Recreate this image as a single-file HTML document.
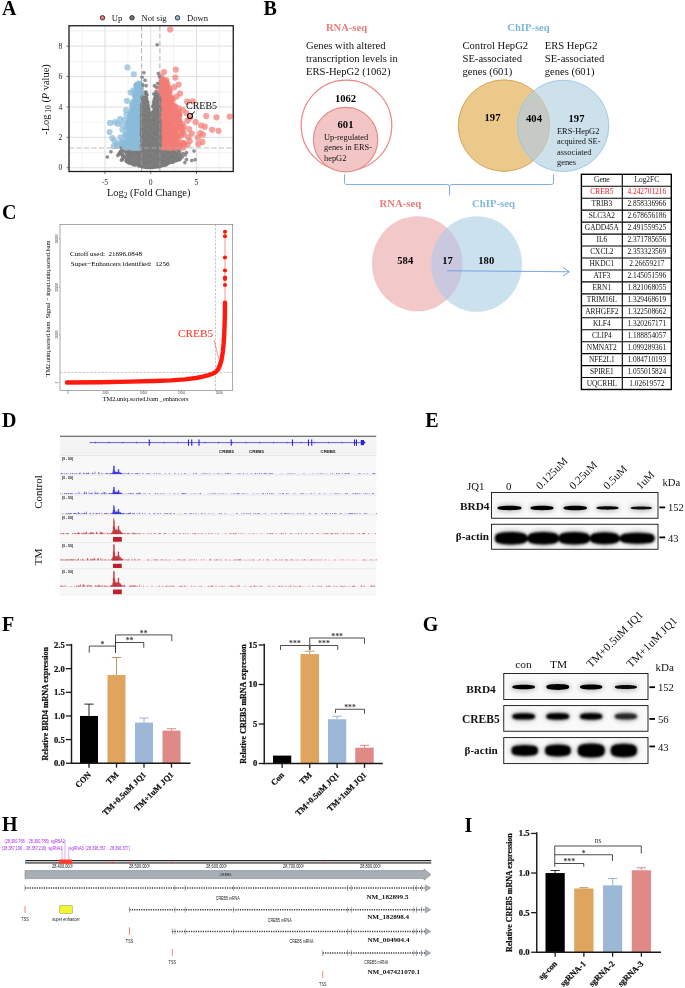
<!DOCTYPE html>
<html><head><meta charset="utf-8"><title>Figure</title>
<style>html,body{margin:0;padding:0;background:#fff}svg{display:block}text{font-family:"Liberation Serif",serif}text.s{font-family:"Liberation Sans",sans-serif}</style>
</head><body>
<svg width="685" height="988" viewBox="0 0 685 988">
<defs>
<filter id="b1" x="-20%" y="-50%" width="140%" height="200%"><feGaussianBlur stdDeviation="0.75"/></filter>
<filter id="b2" x="-20%" y="-50%" width="140%" height="200%"><feGaussianBlur stdDeviation="1.3"/></filter>
<filter id="b4" x="-20%" y="-50%" width="140%" height="200%"><feGaussianBlur stdDeviation="1.0"/></filter>
<filter id="b3" x="-20%" y="-50%" width="140%" height="200%"><feGaussianBlur stdDeviation="2.2"/></filter>
</defs>
<rect width="685" height="988" fill="#fff"/>
<rect x="69" y="25.75" width="164.25" height="145.75" fill="#fff"/>
<line x1="82.12" y1="25.75" x2="82.12" y2="171.5" stroke="#ececec" stroke-width="0.7"/>
<line x1="127.88" y1="25.75" x2="127.88" y2="171.5" stroke="#ececec" stroke-width="0.7"/>
<line x1="173.62" y1="25.75" x2="173.62" y2="171.5" stroke="#ececec" stroke-width="0.7"/>
<line x1="219.38" y1="25.75" x2="219.38" y2="171.5" stroke="#ececec" stroke-width="0.7"/>
<line x1="69" y1="152.55" x2="233.25" y2="152.55" stroke="#ececec" stroke-width="0.7"/>
<line x1="69" y1="122.15" x2="233.25" y2="122.15" stroke="#ececec" stroke-width="0.7"/>
<line x1="69" y1="91.75" x2="233.25" y2="91.75" stroke="#ececec" stroke-width="0.7"/>
<line x1="69" y1="61.35" x2="233.25" y2="61.35" stroke="#ececec" stroke-width="0.7"/>
<line x1="69" y1="30.95" x2="233.25" y2="30.95" stroke="#ececec" stroke-width="0.7"/>
<line x1="105" y1="25.75" x2="105" y2="171.5" stroke="#dedede" stroke-width="1"/>
<line x1="150.75" y1="25.75" x2="150.75" y2="171.5" stroke="#dedede" stroke-width="1"/>
<line x1="196.5" y1="25.75" x2="196.5" y2="171.5" stroke="#dedede" stroke-width="1"/>
<line x1="69" y1="167.75" x2="233.25" y2="167.75" stroke="#dedede" stroke-width="1"/>
<line x1="69" y1="137.35" x2="233.25" y2="137.35" stroke="#dedede" stroke-width="1"/>
<line x1="69" y1="106.95" x2="233.25" y2="106.95" stroke="#dedede" stroke-width="1"/>
<line x1="69" y1="76.55" x2="233.25" y2="76.55" stroke="#dedede" stroke-width="1"/>
<line x1="69" y1="46.15" x2="233.25" y2="46.15" stroke="#dedede" stroke-width="1"/>
<g fill="#7f7f7f" fill-opacity="0.88" stroke="#707070" stroke-opacity="0.4" stroke-width="0.3"><circle cx="150.77" cy="149.2" r="1.75"/><circle cx="138.12" cy="161.54" r="1.75"/><circle cx="151.6" cy="150.77" r="1.75"/><circle cx="141.95" cy="161.49" r="1.75"/><circle cx="152.25" cy="158.55" r="1.75"/><circle cx="160.61" cy="147.17" r="1.75"/><circle cx="123.79" cy="147.31" r="1.75"/><circle cx="147.42" cy="155.09" r="1.75"/><circle cx="152.97" cy="157.11" r="1.75"/><circle cx="143.11" cy="154.74" r="1.75"/><circle cx="129.05" cy="162.63" r="1.75"/><circle cx="136.87" cy="153.44" r="1.75"/><circle cx="142.47" cy="162.22" r="1.75"/><circle cx="151.65" cy="150.24" r="1.75"/><circle cx="152.44" cy="149.74" r="1.75"/><circle cx="158.93" cy="164.65" r="1.75"/><circle cx="149.81" cy="147.52" r="1.75"/><circle cx="141.17" cy="154.56" r="1.75"/><circle cx="152.55" cy="158.65" r="1.75"/><circle cx="147.97" cy="165.75" r="1.75"/><circle cx="131.98" cy="153.86" r="1.75"/><circle cx="122.49" cy="154.06" r="1.75"/><circle cx="168.58" cy="148.22" r="1.75"/><circle cx="145.52" cy="164.74" r="1.75"/><circle cx="144.68" cy="156.33" r="1.75"/><circle cx="149.04" cy="154.49" r="1.75"/><circle cx="150.59" cy="159.25" r="1.75"/><circle cx="160.01" cy="149.64" r="1.75"/><circle cx="145.93" cy="161.09" r="1.75"/><circle cx="159.02" cy="160.06" r="1.75"/><circle cx="126.81" cy="147.76" r="1.75"/><circle cx="137.99" cy="156.92" r="1.75"/><circle cx="138.95" cy="155.55" r="1.75"/><circle cx="157.74" cy="157.02" r="1.75"/><circle cx="160.71" cy="164.63" r="1.75"/><circle cx="149.63" cy="152.18" r="1.75"/><circle cx="154.44" cy="159.09" r="1.75"/><circle cx="153.48" cy="154.76" r="1.75"/><circle cx="149.07" cy="152.75" r="1.75"/><circle cx="155.9" cy="160.24" r="1.75"/><circle cx="125.99" cy="148.15" r="1.75"/><circle cx="161.8" cy="162.14" r="1.75"/><circle cx="168.47" cy="147.48" r="1.75"/><circle cx="146.87" cy="149.22" r="1.75"/><circle cx="166.33" cy="158.93" r="1.75"/><circle cx="139.5" cy="148.67" r="1.75"/><circle cx="168.58" cy="157.01" r="1.75"/><circle cx="150.94" cy="151.09" r="1.75"/><circle cx="142.8" cy="154.73" r="1.75"/><circle cx="145.43" cy="159.52" r="1.75"/><circle cx="139.31" cy="163.35" r="1.75"/><circle cx="170.71" cy="155.46" r="1.75"/><circle cx="141.79" cy="147.88" r="1.75"/><circle cx="150.42" cy="154.62" r="1.75"/><circle cx="157.2" cy="159.24" r="1.75"/><circle cx="135.03" cy="152.66" r="1.75"/><circle cx="143.56" cy="151.17" r="1.75"/><circle cx="144.49" cy="148.82" r="1.75"/><circle cx="146.47" cy="167.33" r="1.75"/><circle cx="167.44" cy="163.87" r="1.75"/><circle cx="142.76" cy="155.55" r="1.75"/><circle cx="161.83" cy="156.62" r="1.75"/><circle cx="144.29" cy="155.12" r="1.75"/><circle cx="177.4" cy="150.1" r="1.75"/><circle cx="126.8" cy="161.18" r="1.75"/><circle cx="150.57" cy="151.26" r="1.75"/><circle cx="120.83" cy="151.27" r="1.75"/><circle cx="147.26" cy="149.5" r="1.75"/><circle cx="129.28" cy="154.55" r="1.75"/><circle cx="127.44" cy="154.08" r="1.75"/><circle cx="156.52" cy="151.14" r="1.75"/><circle cx="136.58" cy="149.82" r="1.75"/><circle cx="179.47" cy="156.1" r="1.75"/><circle cx="149.48" cy="162.52" r="1.75"/><circle cx="144.22" cy="165.66" r="1.75"/><circle cx="151.9" cy="154.06" r="1.75"/><circle cx="150.45" cy="160.07" r="1.75"/><circle cx="143.23" cy="166.06" r="1.75"/><circle cx="134.12" cy="161.55" r="1.75"/><circle cx="152.99" cy="165.04" r="1.75"/><circle cx="151.29" cy="166.07" r="1.75"/><circle cx="153.81" cy="161.42" r="1.75"/><circle cx="141.05" cy="163.88" r="1.75"/><circle cx="148.8" cy="159.99" r="1.75"/><circle cx="175.17" cy="152.71" r="1.75"/><circle cx="161.69" cy="153.81" r="1.75"/><circle cx="154.3" cy="157.03" r="1.75"/><circle cx="135.48" cy="162.25" r="1.75"/><circle cx="167.6" cy="149.22" r="1.75"/><circle cx="172.43" cy="151.22" r="1.75"/><circle cx="124.98" cy="147.14" r="1.75"/><circle cx="163.75" cy="151.69" r="1.75"/><circle cx="153.81" cy="163.94" r="1.75"/><circle cx="151.52" cy="152.84" r="1.75"/><circle cx="149.92" cy="159.07" r="1.75"/><circle cx="173.48" cy="156.54" r="1.75"/><circle cx="145.84" cy="152.83" r="1.75"/><circle cx="163.14" cy="148.74" r="1.75"/><circle cx="147.62" cy="152.03" r="1.75"/><circle cx="147.41" cy="153.02" r="1.75"/><circle cx="139.82" cy="165.2" r="1.75"/><circle cx="142.22" cy="158.52" r="1.75"/><circle cx="136.66" cy="148.85" r="1.75"/><circle cx="147.09" cy="166.35" r="1.75"/><circle cx="155.28" cy="161.26" r="1.75"/><circle cx="168.9" cy="158.34" r="1.75"/><circle cx="172.37" cy="149.38" r="1.75"/><circle cx="178.44" cy="159.6" r="1.75"/><circle cx="131.56" cy="157.35" r="1.75"/><circle cx="164.36" cy="149.96" r="1.75"/><circle cx="143.6" cy="153.9" r="1.75"/><circle cx="153.79" cy="161.9" r="1.75"/><circle cx="150.18" cy="156.67" r="1.75"/><circle cx="157.89" cy="149.69" r="1.75"/><circle cx="151.54" cy="165.41" r="1.75"/><circle cx="160.77" cy="157.28" r="1.75"/><circle cx="145.48" cy="166.91" r="1.75"/><circle cx="134.15" cy="149.54" r="1.75"/><circle cx="134.42" cy="152.02" r="1.75"/><circle cx="166.52" cy="153.66" r="1.75"/><circle cx="144.03" cy="164.28" r="1.75"/><circle cx="145.24" cy="148.74" r="1.75"/><circle cx="130.27" cy="148.39" r="1.75"/><circle cx="153.82" cy="165.86" r="1.75"/><circle cx="139.63" cy="151.14" r="1.75"/><circle cx="145.4" cy="153.22" r="1.75"/><circle cx="133.54" cy="158.79" r="1.75"/><circle cx="157.33" cy="150.49" r="1.75"/><circle cx="159.23" cy="163.43" r="1.75"/><circle cx="146.56" cy="166.4" r="1.75"/><circle cx="148.26" cy="147.94" r="1.75"/><circle cx="153.07" cy="152.86" r="1.75"/><circle cx="155.53" cy="148.48" r="1.75"/><circle cx="144.24" cy="154.7" r="1.75"/><circle cx="139.02" cy="155.49" r="1.75"/><circle cx="132.46" cy="149.59" r="1.75"/><circle cx="129.06" cy="152.24" r="1.75"/><circle cx="136.89" cy="151.07" r="1.75"/><circle cx="172" cy="150.82" r="1.75"/><circle cx="147.53" cy="159.35" r="1.75"/><circle cx="148.55" cy="152.36" r="1.75"/><circle cx="135.35" cy="152.13" r="1.75"/><circle cx="164.34" cy="150.66" r="1.75"/><circle cx="126.33" cy="151.52" r="1.75"/><circle cx="166.43" cy="155.77" r="1.75"/><circle cx="140.21" cy="153.74" r="1.75"/><circle cx="139.3" cy="163.96" r="1.75"/><circle cx="140.03" cy="158.85" r="1.75"/><circle cx="127.81" cy="158.5" r="1.75"/><circle cx="177.15" cy="148.16" r="1.75"/><circle cx="150.31" cy="162.23" r="1.75"/><circle cx="177.81" cy="153.58" r="1.75"/><circle cx="136.4" cy="163.66" r="1.75"/><circle cx="162.39" cy="150.64" r="1.75"/><circle cx="145.72" cy="158.28" r="1.75"/><circle cx="158.22" cy="163.59" r="1.75"/><circle cx="135.46" cy="151.82" r="1.75"/><circle cx="136.89" cy="150.85" r="1.75"/><circle cx="145.05" cy="153.63" r="1.75"/><circle cx="145.17" cy="159.96" r="1.75"/><circle cx="149.42" cy="157.9" r="1.75"/><circle cx="150.2" cy="163.55" r="1.75"/><circle cx="148.81" cy="161.42" r="1.75"/><circle cx="142.13" cy="159.01" r="1.75"/><circle cx="135.95" cy="163.71" r="1.75"/><circle cx="154.3" cy="151.87" r="1.75"/><circle cx="137.31" cy="154.18" r="1.75"/><circle cx="154.07" cy="152.24" r="1.75"/><circle cx="151.7" cy="158.7" r="1.75"/><circle cx="146.58" cy="158.63" r="1.75"/><circle cx="152.89" cy="164.9" r="1.75"/><circle cx="145.45" cy="147.87" r="1.75"/><circle cx="142.91" cy="164.34" r="1.75"/><circle cx="154.09" cy="158.28" r="1.75"/><circle cx="148.74" cy="151.37" r="1.75"/><circle cx="127.14" cy="159.35" r="1.75"/><circle cx="154.77" cy="164.42" r="1.75"/><circle cx="147.07" cy="153.93" r="1.75"/><circle cx="153.68" cy="155.34" r="1.75"/><circle cx="167.34" cy="148.04" r="1.75"/><circle cx="128.66" cy="161.23" r="1.75"/><circle cx="129.59" cy="155.1" r="1.75"/><circle cx="168.8" cy="155.96" r="1.75"/><circle cx="175.54" cy="160.81" r="1.75"/><circle cx="147.32" cy="152.78" r="1.75"/><circle cx="156.78" cy="150.15" r="1.75"/><circle cx="161.12" cy="161.47" r="1.75"/><circle cx="156.38" cy="161.99" r="1.75"/><circle cx="136.53" cy="150.11" r="1.75"/><circle cx="149.97" cy="151.48" r="1.75"/><circle cx="145.57" cy="151.22" r="1.75"/><circle cx="156.15" cy="153.23" r="1.75"/><circle cx="161.48" cy="165.32" r="1.75"/><circle cx="158.45" cy="156.38" r="1.75"/><circle cx="166.85" cy="162.08" r="1.75"/><circle cx="161.91" cy="161.28" r="1.75"/><circle cx="163.6" cy="149.92" r="1.75"/><circle cx="150.06" cy="154.61" r="1.75"/><circle cx="150.32" cy="152.76" r="1.75"/><circle cx="148.11" cy="167.2" r="1.75"/><circle cx="165.57" cy="163.52" r="1.75"/><circle cx="155.53" cy="158.05" r="1.75"/><circle cx="165.48" cy="161.8" r="1.75"/><circle cx="144.01" cy="163.21" r="1.75"/><circle cx="153.65" cy="152.48" r="1.75"/><circle cx="154.44" cy="155.92" r="1.75"/><circle cx="145.77" cy="165.17" r="1.75"/><circle cx="163.74" cy="151.12" r="1.75"/><circle cx="167.93" cy="149.86" r="1.75"/><circle cx="151.65" cy="156.97" r="1.75"/><circle cx="148.99" cy="166.24" r="1.75"/><circle cx="157.15" cy="158.04" r="1.75"/><circle cx="130.37" cy="161.14" r="1.75"/><circle cx="148.75" cy="164.58" r="1.75"/><circle cx="146" cy="148.04" r="1.75"/><circle cx="145.62" cy="161.06" r="1.75"/><circle cx="150.37" cy="155.57" r="1.75"/><circle cx="147.61" cy="163.65" r="1.75"/><circle cx="136.04" cy="164.32" r="1.75"/><circle cx="164.3" cy="164.96" r="1.75"/><circle cx="179.93" cy="159.42" r="1.75"/><circle cx="167.94" cy="156.55" r="1.75"/><circle cx="143.54" cy="165.54" r="1.75"/><circle cx="158.78" cy="165.66" r="1.75"/><circle cx="140.55" cy="150.2" r="1.75"/><circle cx="156.9" cy="160.88" r="1.75"/><circle cx="126.77" cy="148.7" r="1.75"/><circle cx="146.07" cy="157.68" r="1.75"/><circle cx="166.51" cy="147.45" r="1.75"/><circle cx="125.19" cy="151.04" r="1.75"/><circle cx="155.61" cy="158.33" r="1.75"/><circle cx="149.2" cy="164.33" r="1.75"/><circle cx="143.09" cy="166.67" r="1.75"/><circle cx="150.33" cy="158.14" r="1.75"/><circle cx="169.5" cy="161.94" r="1.75"/><circle cx="171.21" cy="152.14" r="1.75"/><circle cx="146.62" cy="152.14" r="1.75"/><circle cx="149.56" cy="148.77" r="1.75"/><circle cx="158.3" cy="155.3" r="1.75"/><circle cx="147.81" cy="153.02" r="1.75"/><circle cx="152.48" cy="147.64" r="1.75"/><circle cx="151.92" cy="149.03" r="1.75"/><circle cx="160.16" cy="148.77" r="1.75"/><circle cx="128.43" cy="156" r="1.75"/><circle cx="141.31" cy="152.51" r="1.75"/><circle cx="141.55" cy="151.56" r="1.75"/><circle cx="173.26" cy="162.25" r="1.75"/><circle cx="140.03" cy="148.2" r="1.75"/><circle cx="156.92" cy="159.36" r="1.75"/><circle cx="150.01" cy="158.01" r="1.75"/><circle cx="149.17" cy="158.8" r="1.75"/><circle cx="159.71" cy="152.16" r="1.75"/><circle cx="156.78" cy="151.16" r="1.75"/><circle cx="130.09" cy="162.01" r="1.75"/><circle cx="153.69" cy="160.01" r="1.75"/><circle cx="152.23" cy="163.89" r="1.75"/><circle cx="146.76" cy="152.11" r="1.75"/><circle cx="152.06" cy="167.05" r="1.75"/><circle cx="140.47" cy="162.51" r="1.75"/><circle cx="144.16" cy="153.14" r="1.75"/><circle cx="134.47" cy="163.57" r="1.75"/><circle cx="136.87" cy="147.25" r="1.75"/><circle cx="120.96" cy="147.27" r="1.75"/><circle cx="152.85" cy="156.98" r="1.75"/><circle cx="144.17" cy="160.81" r="1.75"/><circle cx="149.63" cy="167.02" r="1.75"/><circle cx="142.54" cy="163.56" r="1.75"/><circle cx="143.95" cy="163.51" r="1.75"/><circle cx="148.52" cy="162.69" r="1.75"/><circle cx="143.64" cy="154.6" r="1.75"/><circle cx="146.78" cy="165.14" r="1.75"/><circle cx="135.13" cy="160.87" r="1.75"/><circle cx="161.71" cy="153.77" r="1.75"/><circle cx="157.28" cy="148.07" r="1.75"/><circle cx="155.11" cy="157.02" r="1.75"/><circle cx="148.88" cy="166.37" r="1.75"/><circle cx="163.19" cy="150.96" r="1.75"/><circle cx="160.18" cy="164.09" r="1.75"/><circle cx="135.71" cy="147.54" r="1.75"/><circle cx="179.43" cy="159.43" r="1.75"/><circle cx="152.47" cy="167.58" r="1.75"/><circle cx="132.04" cy="153.02" r="1.75"/><circle cx="170.73" cy="149.21" r="1.75"/><circle cx="154.68" cy="148.34" r="1.75"/><circle cx="157.67" cy="166.8" r="1.75"/><circle cx="151.72" cy="158.75" r="1.75"/><circle cx="140.73" cy="165.17" r="1.75"/><circle cx="148.08" cy="150.51" r="1.75"/><circle cx="167.65" cy="155.84" r="1.75"/><circle cx="145.66" cy="158.01" r="1.75"/><circle cx="144.69" cy="166.57" r="1.75"/><circle cx="141.61" cy="166.58" r="1.75"/><circle cx="143.15" cy="156.59" r="1.75"/><circle cx="151.17" cy="161.63" r="1.75"/><circle cx="166.54" cy="149.01" r="1.75"/><circle cx="167.79" cy="158.13" r="1.75"/><circle cx="139.05" cy="151.15" r="1.75"/><circle cx="161.2" cy="159.91" r="1.75"/><circle cx="160.01" cy="162.41" r="1.75"/><circle cx="118.7" cy="153.91" r="1.75"/><circle cx="164.35" cy="149.37" r="1.75"/><circle cx="156.05" cy="147.69" r="1.75"/><circle cx="128.52" cy="149.6" r="1.75"/><circle cx="148.55" cy="163.61" r="1.75"/><circle cx="165.61" cy="165.15" r="1.75"/><circle cx="158.88" cy="148.68" r="1.75"/><circle cx="147.29" cy="162.3" r="1.75"/><circle cx="137.98" cy="155.69" r="1.75"/><circle cx="157.31" cy="163.5" r="1.75"/><circle cx="156.3" cy="159.5" r="1.75"/><circle cx="156.01" cy="162.66" r="1.75"/><circle cx="141.36" cy="149.26" r="1.75"/><circle cx="151.62" cy="149.62" r="1.75"/><circle cx="156.02" cy="161.53" r="1.75"/><circle cx="147.64" cy="164.41" r="1.75"/><circle cx="125.95" cy="157.99" r="1.75"/><circle cx="159.99" cy="156.13" r="1.75"/><circle cx="146.22" cy="154.74" r="1.75"/><circle cx="175.66" cy="159.69" r="1.75"/><circle cx="136.95" cy="156.1" r="1.75"/><circle cx="162.55" cy="162.44" r="1.75"/><circle cx="122.63" cy="158.99" r="1.75"/><circle cx="145.78" cy="164.12" r="1.75"/><circle cx="131.18" cy="157.08" r="1.75"/><circle cx="166.99" cy="158.14" r="1.75"/><circle cx="145.01" cy="161.21" r="1.75"/><circle cx="140.96" cy="148.41" r="1.75"/><circle cx="145.45" cy="147.19" r="1.75"/><circle cx="140.84" cy="157.48" r="1.75"/><circle cx="141.81" cy="163.92" r="1.75"/><circle cx="167.39" cy="155.3" r="1.75"/><circle cx="167.17" cy="160.95" r="1.75"/><circle cx="149.19" cy="160.06" r="1.75"/><circle cx="146.93" cy="161.67" r="1.75"/><circle cx="154.6" cy="149.25" r="1.75"/><circle cx="120.41" cy="152.25" r="1.75"/><circle cx="152.63" cy="157.14" r="1.75"/><circle cx="141.66" cy="152.38" r="1.75"/><circle cx="141.1" cy="155.5" r="1.75"/><circle cx="130.01" cy="151.84" r="1.75"/><circle cx="161.87" cy="149.39" r="1.75"/><circle cx="143.07" cy="166.57" r="1.75"/><circle cx="161.31" cy="162.26" r="1.75"/><circle cx="133.7" cy="154.77" r="1.75"/><circle cx="148.19" cy="163.75" r="1.75"/><circle cx="157.91" cy="156.38" r="1.75"/><circle cx="148.94" cy="154.21" r="1.75"/><circle cx="135.37" cy="158.19" r="1.75"/><circle cx="153.02" cy="155.71" r="1.75"/><circle cx="139.66" cy="160.76" r="1.75"/><circle cx="122.26" cy="149.43" r="1.75"/><circle cx="159.94" cy="150.91" r="1.75"/><circle cx="143.51" cy="161.6" r="1.75"/><circle cx="169.14" cy="157.23" r="1.75"/><circle cx="159.5" cy="166.39" r="1.75"/><circle cx="151.49" cy="161.49" r="1.75"/><circle cx="152.11" cy="157.83" r="1.75"/><circle cx="129.8" cy="162.65" r="1.75"/><circle cx="148.42" cy="148.83" r="1.75"/><circle cx="143.79" cy="157.88" r="1.75"/><circle cx="136.35" cy="159.5" r="1.75"/><circle cx="157.89" cy="161.13" r="1.75"/><circle cx="145.44" cy="148.39" r="1.75"/><circle cx="150.68" cy="159.74" r="1.75"/><circle cx="148.66" cy="166.52" r="1.75"/><circle cx="153.97" cy="147.75" r="1.75"/><circle cx="143.71" cy="150.35" r="1.75"/><circle cx="166.87" cy="152.71" r="1.75"/><circle cx="148.28" cy="147.17" r="1.75"/><circle cx="153.72" cy="148.16" r="1.75"/><circle cx="126.05" cy="160.99" r="1.75"/><circle cx="163.35" cy="163.91" r="1.75"/><circle cx="148.07" cy="155.39" r="1.75"/><circle cx="147.24" cy="165.85" r="1.75"/><circle cx="147.84" cy="157.32" r="1.75"/><circle cx="138.54" cy="155" r="1.75"/><circle cx="169.26" cy="149.2" r="1.75"/><circle cx="141.16" cy="159.27" r="1.75"/><circle cx="159.83" cy="148.37" r="1.75"/><circle cx="145.32" cy="158.24" r="1.75"/><circle cx="137.62" cy="147.29" r="1.75"/><circle cx="153.86" cy="152.97" r="1.75"/><circle cx="155.59" cy="160.19" r="1.75"/><circle cx="144.27" cy="162.75" r="1.75"/><circle cx="167.66" cy="161.69" r="1.75"/><circle cx="154.12" cy="160.33" r="1.75"/><circle cx="161.96" cy="154.31" r="1.75"/><circle cx="153.28" cy="147.79" r="1.75"/><circle cx="155.44" cy="154.62" r="1.75"/><circle cx="140.7" cy="153.11" r="1.75"/><circle cx="148.95" cy="153.66" r="1.75"/><circle cx="168.72" cy="151.4" r="1.75"/><circle cx="143.12" cy="161.11" r="1.75"/><circle cx="170.58" cy="154.05" r="1.75"/><circle cx="172.26" cy="158.51" r="1.75"/><circle cx="134.02" cy="158.16" r="1.75"/><circle cx="138.73" cy="165.94" r="1.75"/><circle cx="175.08" cy="148.7" r="1.75"/><circle cx="147.91" cy="151.79" r="1.75"/><circle cx="143.22" cy="159.91" r="1.75"/><circle cx="126.61" cy="156.78" r="1.75"/><circle cx="153.4" cy="153.73" r="1.75"/><circle cx="161.71" cy="160.61" r="1.75"/><circle cx="142.2" cy="156.12" r="1.75"/><circle cx="153.88" cy="166.23" r="1.75"/><circle cx="154.4" cy="160.42" r="1.75"/><circle cx="127.79" cy="160.27" r="1.75"/><circle cx="160.92" cy="161.16" r="1.75"/><circle cx="136.78" cy="147.36" r="1.75"/><circle cx="147.76" cy="164.85" r="1.75"/><circle cx="156.65" cy="161.79" r="1.75"/><circle cx="132.2" cy="147.23" r="1.75"/><circle cx="124.48" cy="147.4" r="1.75"/><circle cx="153.33" cy="163.18" r="1.75"/><circle cx="129.51" cy="148.6" r="1.75"/><circle cx="147.68" cy="167.29" r="1.75"/><circle cx="145.95" cy="151.26" r="1.75"/><circle cx="155.51" cy="153.84" r="1.75"/><circle cx="136.77" cy="159.42" r="1.75"/><circle cx="141.63" cy="165.89" r="1.75"/><circle cx="125.46" cy="151.2" r="1.75"/><circle cx="142.62" cy="150.39" r="1.75"/><circle cx="161.42" cy="150.74" r="1.75"/><circle cx="164.32" cy="161.59" r="1.75"/><circle cx="152.87" cy="160.77" r="1.75"/><circle cx="140.61" cy="157.59" r="1.75"/><circle cx="160.79" cy="150.14" r="1.75"/><circle cx="171.56" cy="147.41" r="1.75"/><circle cx="150.45" cy="165.84" r="1.75"/><circle cx="136.69" cy="157.23" r="1.75"/><circle cx="167.9" cy="161.39" r="1.75"/><circle cx="163.66" cy="160.82" r="1.75"/><circle cx="140.08" cy="154.37" r="1.75"/><circle cx="160.75" cy="164.73" r="1.75"/><circle cx="154.88" cy="166.94" r="1.75"/><circle cx="142.53" cy="163.83" r="1.75"/><circle cx="144.48" cy="158.22" r="1.75"/><circle cx="137.17" cy="162.44" r="1.75"/><circle cx="130.61" cy="156.68" r="1.75"/><circle cx="161.34" cy="147.28" r="1.75"/><circle cx="145.79" cy="157.52" r="1.75"/><circle cx="136.12" cy="153.3" r="1.75"/><circle cx="152.2" cy="158.64" r="1.75"/><circle cx="157.39" cy="151.81" r="1.75"/><circle cx="151.88" cy="157.85" r="1.75"/><circle cx="154.43" cy="152.76" r="1.75"/><circle cx="169.59" cy="161.36" r="1.75"/><circle cx="149.87" cy="147.22" r="1.75"/><circle cx="143.46" cy="161.6" r="1.75"/><circle cx="160" cy="155.45" r="1.75"/><circle cx="154.75" cy="154.66" r="1.75"/><circle cx="150.26" cy="164.91" r="1.75"/><circle cx="137.89" cy="160.18" r="1.75"/><circle cx="144.69" cy="166.37" r="1.75"/><circle cx="147.95" cy="153.53" r="1.75"/><circle cx="157.94" cy="147.78" r="1.75"/><circle cx="171.88" cy="156.69" r="1.75"/><circle cx="167.43" cy="163.61" r="1.75"/><circle cx="161.6" cy="160.26" r="1.75"/><circle cx="156.67" cy="165.61" r="1.75"/><circle cx="141.79" cy="158.68" r="1.75"/><circle cx="157.32" cy="163.17" r="1.75"/><circle cx="167.54" cy="161.1" r="1.75"/><circle cx="149.46" cy="161.58" r="1.75"/><circle cx="126.34" cy="151.25" r="1.75"/><circle cx="123.9" cy="150.34" r="1.75"/><circle cx="149.13" cy="157.81" r="1.75"/><circle cx="153.12" cy="150.56" r="1.75"/><circle cx="144.66" cy="159.82" r="1.75"/><circle cx="173.29" cy="148.28" r="1.75"/><circle cx="132.5" cy="153.75" r="1.75"/><circle cx="135.19" cy="162.04" r="1.75"/><circle cx="134.46" cy="161.07" r="1.75"/><circle cx="152.44" cy="163" r="1.75"/><circle cx="137.89" cy="154.75" r="1.75"/><circle cx="164.47" cy="149.66" r="1.75"/><circle cx="149.11" cy="164.42" r="1.75"/><circle cx="150.85" cy="166.49" r="1.75"/><circle cx="161.34" cy="161.82" r="1.75"/><circle cx="141" cy="159.96" r="1.75"/><circle cx="156.22" cy="158.27" r="1.75"/><circle cx="151.05" cy="150.2" r="1.75"/><circle cx="145.58" cy="152.84" r="1.75"/><circle cx="138.27" cy="162.49" r="1.75"/><circle cx="122.08" cy="159.55" r="1.75"/><circle cx="144.36" cy="152.29" r="1.75"/><circle cx="150.17" cy="154.5" r="1.75"/><circle cx="159.97" cy="163.75" r="1.75"/><circle cx="166.4" cy="154.21" r="1.75"/><circle cx="153.97" cy="162.66" r="1.75"/><circle cx="138.68" cy="152.83" r="1.75"/><circle cx="138.3" cy="155.83" r="1.75"/><circle cx="137.81" cy="157.05" r="1.75"/><circle cx="140.14" cy="162.27" r="1.75"/><circle cx="155.43" cy="158.71" r="1.75"/><circle cx="137.77" cy="163.59" r="1.75"/><circle cx="163.27" cy="161.68" r="1.75"/><circle cx="135.91" cy="163.9" r="1.75"/><circle cx="142.76" cy="152.05" r="1.75"/><circle cx="153.44" cy="163" r="1.75"/><circle cx="171.28" cy="159.76" r="1.75"/><circle cx="147.3" cy="147.23" r="1.75"/><circle cx="145.26" cy="159.14" r="1.75"/><circle cx="147.52" cy="150.39" r="1.75"/><circle cx="137.55" cy="164.41" r="1.75"/><circle cx="145.41" cy="152.63" r="1.75"/><circle cx="149.92" cy="165.83" r="1.75"/><circle cx="172.35" cy="157.84" r="1.75"/><circle cx="161.86" cy="157.48" r="1.75"/><circle cx="132.46" cy="159.36" r="1.75"/><circle cx="143.44" cy="162.27" r="1.75"/><circle cx="157.78" cy="165.39" r="1.75"/><circle cx="144.89" cy="161.29" r="1.75"/><circle cx="136.48" cy="157.37" r="1.75"/><circle cx="158.75" cy="150.12" r="1.75"/><circle cx="137.69" cy="159.16" r="1.75"/><circle cx="155.56" cy="155.56" r="1.75"/><circle cx="165.68" cy="159.29" r="1.75"/><circle cx="168.41" cy="149.33" r="1.75"/><circle cx="153.09" cy="149.44" r="1.75"/><circle cx="146.65" cy="150.64" r="1.75"/><circle cx="159.96" cy="158.41" r="1.75"/><circle cx="160.27" cy="149.15" r="1.75"/><circle cx="124.61" cy="150.35" r="1.75"/><circle cx="162.2" cy="150.24" r="1.75"/><circle cx="146.83" cy="160.57" r="1.75"/><circle cx="175.22" cy="154.01" r="1.75"/><circle cx="167.37" cy="161.38" r="1.75"/><circle cx="167.15" cy="163.69" r="1.75"/><circle cx="131.12" cy="147.3" r="1.75"/><circle cx="141.22" cy="147.65" r="1.75"/><circle cx="141.67" cy="150.77" r="1.75"/><circle cx="157.64" cy="150.5" r="1.75"/><circle cx="170.26" cy="156.27" r="1.75"/><circle cx="165.17" cy="159.81" r="1.75"/><circle cx="145.36" cy="164.12" r="1.75"/><circle cx="152.31" cy="160.31" r="1.75"/><circle cx="128.58" cy="161.95" r="1.75"/><circle cx="157.22" cy="160.69" r="1.75"/><circle cx="137.26" cy="161.6" r="1.75"/><circle cx="120.12" cy="152.59" r="1.75"/><circle cx="146.41" cy="147.59" r="1.75"/><circle cx="134.35" cy="162" r="1.75"/><circle cx="135.63" cy="151.66" r="1.75"/><circle cx="128.96" cy="162.64" r="1.75"/><circle cx="154.26" cy="149.26" r="1.75"/><circle cx="144.29" cy="158.18" r="1.75"/><circle cx="166.66" cy="151.1" r="1.75"/><circle cx="177.64" cy="149.22" r="1.75"/><circle cx="182.55" cy="156.76" r="1.75"/><circle cx="161.17" cy="165.46" r="1.75"/><circle cx="153.25" cy="165.15" r="1.75"/><circle cx="158.81" cy="153.01" r="1.75"/><circle cx="145.02" cy="166.72" r="1.75"/><circle cx="133.33" cy="148.94" r="1.75"/><circle cx="141.53" cy="149.7" r="1.75"/><circle cx="155.86" cy="160.85" r="1.75"/><circle cx="165.81" cy="160.9" r="1.75"/><circle cx="146.55" cy="158.92" r="1.75"/><circle cx="155.14" cy="160.3" r="1.75"/><circle cx="167.71" cy="155.42" r="1.75"/><circle cx="157.89" cy="149.2" r="1.75"/><circle cx="153.95" cy="153.54" r="1.75"/><circle cx="175.37" cy="157.44" r="1.75"/><circle cx="149.24" cy="150.89" r="1.75"/><circle cx="147.25" cy="165.91" r="1.75"/><circle cx="132.64" cy="148.8" r="1.75"/><circle cx="136.54" cy="149.04" r="1.75"/><circle cx="176.3" cy="148.65" r="1.75"/><circle cx="155.04" cy="158.17" r="1.75"/><circle cx="147.01" cy="158.09" r="1.75"/><circle cx="158.41" cy="161.73" r="1.75"/><circle cx="171.74" cy="162.17" r="1.75"/><circle cx="170.75" cy="161.48" r="1.75"/><circle cx="147.33" cy="149.56" r="1.75"/><circle cx="150.73" cy="152.34" r="1.75"/><circle cx="148.57" cy="151.71" r="1.75"/><circle cx="138.06" cy="148.81" r="1.75"/><circle cx="142.72" cy="151.95" r="1.75"/><circle cx="179.17" cy="157.47" r="1.75"/><circle cx="149.99" cy="152.42" r="1.75"/><circle cx="149.52" cy="151.2" r="1.75"/><circle cx="170.75" cy="157.38" r="1.75"/><circle cx="138.24" cy="164.1" r="1.75"/><circle cx="163.86" cy="158.03" r="1.75"/><circle cx="145.84" cy="147.59" r="1.75"/><circle cx="149.31" cy="149.19" r="1.75"/><circle cx="145.28" cy="161.87" r="1.75"/><circle cx="172.25" cy="155.37" r="1.75"/><circle cx="144.82" cy="161.29" r="1.75"/><circle cx="148.67" cy="162.82" r="1.75"/><circle cx="152.16" cy="148.2" r="1.75"/><circle cx="147.25" cy="155.88" r="1.75"/><circle cx="154.84" cy="159.83" r="1.75"/><circle cx="172.69" cy="157.57" r="1.75"/><circle cx="134" cy="156.09" r="1.75"/><circle cx="128.28" cy="154.8" r="1.75"/><circle cx="133.58" cy="163.6" r="1.75"/><circle cx="149.74" cy="151.27" r="1.75"/><circle cx="145.97" cy="159.85" r="1.75"/><circle cx="175.53" cy="156.44" r="1.75"/><circle cx="150.81" cy="153.81" r="1.75"/><circle cx="176.69" cy="160.38" r="1.75"/><circle cx="149.49" cy="157.83" r="1.75"/><circle cx="152.89" cy="165.22" r="1.75"/><circle cx="132.94" cy="163.43" r="1.75"/><circle cx="155.6" cy="166.94" r="1.75"/><circle cx="161.92" cy="156.19" r="1.75"/><circle cx="169.33" cy="153.83" r="1.75"/><circle cx="175.05" cy="154.4" r="1.75"/><circle cx="142.13" cy="151.91" r="1.75"/><circle cx="156.75" cy="152.58" r="1.75"/><circle cx="169.51" cy="153.31" r="1.75"/><circle cx="155.72" cy="158.49" r="1.75"/><circle cx="162.22" cy="154.27" r="1.75"/><circle cx="152.18" cy="155.75" r="1.75"/><circle cx="156.23" cy="148.96" r="1.75"/><circle cx="174.42" cy="152.75" r="1.75"/><circle cx="158.25" cy="161.78" r="1.75"/><circle cx="150.47" cy="165.54" r="1.75"/><circle cx="147.13" cy="150.28" r="1.75"/><circle cx="158.1" cy="152.33" r="1.75"/><circle cx="150.83" cy="156.89" r="1.75"/><circle cx="133.88" cy="157.33" r="1.75"/><circle cx="152.32" cy="157.37" r="1.75"/><circle cx="136.41" cy="150.16" r="1.75"/><circle cx="131.72" cy="155.8" r="1.75"/><circle cx="145.59" cy="152.55" r="1.75"/><circle cx="175.28" cy="158.04" r="1.75"/><circle cx="142.66" cy="150.03" r="1.75"/><circle cx="180.47" cy="158.13" r="1.75"/><circle cx="148.97" cy="154.69" r="1.75"/><circle cx="145.94" cy="154.8" r="1.75"/><circle cx="158.1" cy="155.84" r="1.75"/><circle cx="151.16" cy="160" r="1.75"/><circle cx="137.76" cy="152.9" r="1.75"/><circle cx="167.36" cy="150.38" r="1.75"/><circle cx="139.89" cy="149.23" r="1.75"/><circle cx="161.29" cy="156.5" r="1.75"/><circle cx="142.84" cy="164.81" r="1.75"/><circle cx="161.58" cy="151.98" r="1.75"/><circle cx="167.22" cy="160.6" r="1.75"/><circle cx="151.32" cy="157.71" r="1.75"/><circle cx="151.81" cy="151.76" r="1.75"/><circle cx="159.89" cy="148.37" r="1.75"/><circle cx="173.04" cy="148.76" r="1.75"/><circle cx="167.18" cy="153.2" r="1.75"/><circle cx="140.79" cy="156.66" r="1.75"/><circle cx="167.02" cy="149.86" r="1.75"/><circle cx="159.4" cy="151.79" r="1.75"/><circle cx="158.74" cy="162.74" r="1.75"/><circle cx="168.93" cy="151.75" r="1.75"/><circle cx="137" cy="155.29" r="1.75"/><circle cx="141" cy="149.01" r="1.75"/><circle cx="140.69" cy="164.22" r="1.75"/><circle cx="143.03" cy="149.62" r="1.75"/><circle cx="130.69" cy="149.13" r="1.75"/><circle cx="153.02" cy="163.09" r="1.75"/><circle cx="146.31" cy="157.78" r="1.75"/><circle cx="126.83" cy="161.61" r="1.75"/><circle cx="151.64" cy="148.05" r="1.75"/><circle cx="170.63" cy="151.44" r="1.75"/><circle cx="139.31" cy="163.18" r="1.75"/><circle cx="134.68" cy="152.57" r="1.75"/><circle cx="157.43" cy="149.84" r="1.75"/><circle cx="164.25" cy="162.07" r="1.75"/><circle cx="146.83" cy="149.25" r="1.75"/><circle cx="155.45" cy="163.83" r="1.75"/><circle cx="163.2" cy="159.84" r="1.75"/><circle cx="160.58" cy="166.05" r="1.75"/><circle cx="183.06" cy="153.55" r="1.75"/><circle cx="142.42" cy="166.26" r="1.75"/><circle cx="148.9" cy="155.1" r="1.75"/><circle cx="152.03" cy="156.72" r="1.75"/><circle cx="139.28" cy="157.54" r="1.75"/><circle cx="155.46" cy="156.17" r="1.75"/><circle cx="165.85" cy="153.65" r="1.75"/><circle cx="170.84" cy="159.9" r="1.75"/><circle cx="161.38" cy="147.4" r="1.75"/><circle cx="167.5" cy="161.73" r="1.75"/><circle cx="152.21" cy="166.8" r="1.75"/><circle cx="128.1" cy="152.46" r="1.75"/><circle cx="143.42" cy="157.26" r="1.75"/><circle cx="135.41" cy="150.78" r="1.75"/><circle cx="146.21" cy="158.09" r="1.75"/><circle cx="147.02" cy="148.74" r="1.75"/><circle cx="146.49" cy="164.93" r="1.75"/><circle cx="141.28" cy="164.15" r="1.75"/><circle cx="159.92" cy="148.58" r="1.75"/><circle cx="145.17" cy="161.54" r="1.75"/><circle cx="144.34" cy="155" r="1.75"/><circle cx="153.28" cy="152.96" r="1.75"/><circle cx="164.89" cy="151.63" r="1.75"/><circle cx="140.32" cy="150.25" r="1.75"/><circle cx="139.36" cy="149.21" r="1.75"/><circle cx="153.48" cy="159.71" r="1.75"/><circle cx="142.86" cy="149.69" r="1.75"/><circle cx="154.04" cy="152.03" r="1.75"/><circle cx="154.21" cy="147.75" r="1.75"/><circle cx="145.23" cy="164.93" r="1.75"/><circle cx="142.96" cy="151.4" r="1.75"/><circle cx="167.6" cy="159.98" r="1.75"/><circle cx="147.2" cy="165.06" r="1.75"/><circle cx="157.31" cy="149.96" r="1.75"/><circle cx="141.19" cy="152.29" r="1.75"/><circle cx="146.78" cy="149.16" r="1.75"/><circle cx="166.18" cy="151.71" r="1.75"/><circle cx="148.32" cy="158.14" r="1.75"/><circle cx="134.13" cy="150.37" r="1.75"/><circle cx="130.1" cy="155.43" r="1.75"/><circle cx="142.34" cy="147.96" r="1.75"/><circle cx="145.32" cy="159.26" r="1.75"/><circle cx="164.48" cy="151.46" r="1.75"/><circle cx="153.78" cy="161.83" r="1.75"/><circle cx="135.65" cy="148.74" r="1.75"/><circle cx="173.71" cy="158.49" r="1.75"/><circle cx="133.75" cy="162.22" r="1.75"/><circle cx="151.9" cy="157.09" r="1.75"/><circle cx="145.15" cy="164.14" r="1.75"/><circle cx="146.59" cy="164.9" r="1.75"/><circle cx="162.29" cy="156.37" r="1.75"/><circle cx="145.18" cy="165.25" r="1.75"/><circle cx="135.74" cy="153.73" r="1.75"/><circle cx="127.26" cy="153.28" r="1.75"/><circle cx="139.11" cy="163.26" r="1.75"/><circle cx="147.35" cy="153.93" r="1.75"/><circle cx="155.08" cy="148.74" r="1.75"/><circle cx="159" cy="159.9" r="1.75"/><circle cx="135.34" cy="152.05" r="1.75"/><circle cx="147.09" cy="152.35" r="1.75"/><circle cx="139.84" cy="148.8" r="1.75"/><circle cx="146.46" cy="167.13" r="1.75"/><circle cx="140.73" cy="155.2" r="1.75"/><circle cx="139.72" cy="153.98" r="1.75"/><circle cx="150.93" cy="166.43" r="1.75"/><circle cx="131.54" cy="154.45" r="1.75"/><circle cx="178.68" cy="155.23" r="1.75"/><circle cx="167.54" cy="157.63" r="1.75"/><circle cx="166.1" cy="157.26" r="1.75"/><circle cx="153.29" cy="161.87" r="1.75"/><circle cx="139.65" cy="155.05" r="1.75"/><circle cx="126.99" cy="148.19" r="1.75"/><circle cx="152.11" cy="147.87" r="1.75"/><circle cx="133.65" cy="150.86" r="1.75"/><circle cx="156.68" cy="162.72" r="1.75"/><circle cx="142.35" cy="163.29" r="1.75"/><circle cx="149.35" cy="153.07" r="1.75"/><circle cx="158.94" cy="147.28" r="1.75"/><circle cx="149.74" cy="167.32" r="1.75"/><circle cx="139.63" cy="148.25" r="1.75"/><circle cx="142.44" cy="166.53" r="1.75"/><circle cx="150.99" cy="154.75" r="1.75"/><circle cx="144.06" cy="162.71" r="1.75"/><circle cx="166.67" cy="156.59" r="1.75"/><circle cx="151.34" cy="163.7" r="1.75"/><circle cx="152.43" cy="155.63" r="1.75"/><circle cx="121.32" cy="147.72" r="1.75"/><circle cx="180.54" cy="154.89" r="1.75"/><circle cx="177.93" cy="149.96" r="1.75"/><circle cx="151.68" cy="161.25" r="1.75"/><circle cx="120.38" cy="151.94" r="1.75"/><circle cx="123.67" cy="156.18" r="1.75"/><circle cx="166.43" cy="156.1" r="1.75"/><circle cx="160.82" cy="159.17" r="1.75"/><circle cx="179.56" cy="151.75" r="1.75"/><circle cx="155.55" cy="157.58" r="1.75"/><circle cx="143.66" cy="154.16" r="1.75"/><circle cx="166.67" cy="159.44" r="1.75"/><circle cx="159.28" cy="166.74" r="1.75"/><circle cx="137.38" cy="158.31" r="1.75"/><circle cx="150.98" cy="150.99" r="1.75"/><circle cx="139.23" cy="158.15" r="1.75"/><circle cx="142.34" cy="166.5" r="1.75"/><circle cx="146.37" cy="157.24" r="1.75"/><circle cx="144.49" cy="147.74" r="1.75"/><circle cx="173.59" cy="149.43" r="1.75"/><circle cx="163.28" cy="164.59" r="1.75"/><circle cx="154.2" cy="157.83" r="1.75"/><circle cx="164.95" cy="160.91" r="1.75"/><circle cx="164.63" cy="163.15" r="1.75"/><circle cx="164.05" cy="161.1" r="1.75"/><circle cx="165.74" cy="156.41" r="1.75"/><circle cx="155.87" cy="162.23" r="1.75"/><circle cx="156.91" cy="152.58" r="1.75"/><circle cx="134.99" cy="160.88" r="1.75"/><circle cx="153.91" cy="148.95" r="1.75"/><circle cx="162.1" cy="165.28" r="1.75"/><circle cx="164.97" cy="155.36" r="1.75"/><circle cx="142.12" cy="162.24" r="1.75"/><circle cx="162.63" cy="158.26" r="1.75"/><circle cx="148.49" cy="147.39" r="1.75"/><circle cx="151.25" cy="163.81" r="1.75"/><circle cx="130.63" cy="149.59" r="1.75"/><circle cx="154.78" cy="160.68" r="1.75"/><circle cx="129.36" cy="157.02" r="1.75"/><circle cx="162.18" cy="153.18" r="1.75"/><circle cx="160.89" cy="153.06" r="1.75"/><circle cx="154.78" cy="156.33" r="1.75"/><circle cx="131.01" cy="163.37" r="1.75"/><circle cx="157.99" cy="156.78" r="1.75"/><circle cx="140.99" cy="150.51" r="1.75"/><circle cx="157.93" cy="162.1" r="1.75"/><circle cx="157.91" cy="158.66" r="1.75"/><circle cx="157.98" cy="147.48" r="1.75"/><circle cx="148.92" cy="156.37" r="1.75"/><circle cx="159.61" cy="165.88" r="1.75"/><circle cx="146.55" cy="148.4" r="1.75"/><circle cx="141.62" cy="148.9" r="1.75"/><circle cx="138.05" cy="159.04" r="1.75"/><circle cx="143.2" cy="163.34" r="1.75"/><circle cx="147.79" cy="150.63" r="1.75"/><circle cx="160.25" cy="163.65" r="1.75"/><circle cx="156.14" cy="162.88" r="1.75"/><circle cx="161.37" cy="154.74" r="1.75"/><circle cx="164.23" cy="158.17" r="1.75"/><circle cx="143.69" cy="150.38" r="1.75"/><circle cx="136.67" cy="157.63" r="1.75"/><circle cx="178.97" cy="152.74" r="1.75"/><circle cx="133.74" cy="149.7" r="1.75"/><circle cx="160.36" cy="148.36" r="1.75"/><circle cx="139.44" cy="152.1" r="1.75"/><circle cx="159.18" cy="149.91" r="1.75"/><circle cx="158.72" cy="166.34" r="1.75"/><circle cx="126.72" cy="150.9" r="1.75"/><circle cx="145.91" cy="154.88" r="1.75"/><circle cx="172.93" cy="150.78" r="1.75"/><circle cx="169.9" cy="151.64" r="1.75"/><circle cx="142.13" cy="155.61" r="1.75"/><circle cx="143.94" cy="157.11" r="1.75"/><circle cx="158.58" cy="162.2" r="1.75"/><circle cx="137.22" cy="153.01" r="1.75"/><circle cx="133.11" cy="160.73" r="1.75"/><circle cx="152.39" cy="154.09" r="1.75"/><circle cx="147.64" cy="158.53" r="1.75"/><circle cx="177.45" cy="156.76" r="1.75"/><circle cx="170.29" cy="154.87" r="1.75"/><circle cx="147.48" cy="158.63" r="1.75"/><circle cx="148.24" cy="153.08" r="1.75"/><circle cx="135.96" cy="155.72" r="1.75"/><circle cx="166.27" cy="148.18" r="1.75"/><circle cx="157.59" cy="165.58" r="1.75"/><circle cx="153.85" cy="161.67" r="1.75"/><circle cx="140.61" cy="163.54" r="1.75"/><circle cx="140.5" cy="158.98" r="1.75"/><circle cx="164.75" cy="161.16" r="1.75"/><circle cx="165.37" cy="156.18" r="1.75"/><circle cx="162.5" cy="155.12" r="1.75"/><circle cx="136.39" cy="162.19" r="1.75"/><circle cx="148.67" cy="166.94" r="1.75"/><circle cx="137.11" cy="149.59" r="1.75"/><circle cx="138.91" cy="150.98" r="1.75"/><circle cx="127.42" cy="153.36" r="1.75"/><circle cx="163.29" cy="161.69" r="1.75"/><circle cx="131.74" cy="158.32" r="1.75"/><circle cx="147.7" cy="150.46" r="1.75"/><circle cx="165.77" cy="158.86" r="1.75"/><circle cx="122.27" cy="153.68" r="1.75"/><circle cx="170.57" cy="151.88" r="1.75"/><circle cx="144.97" cy="153.88" r="1.75"/><circle cx="164.57" cy="159.53" r="1.75"/><circle cx="146.09" cy="166.69" r="1.75"/><circle cx="138.95" cy="150.69" r="1.75"/><circle cx="150.9" cy="147.51" r="1.75"/><circle cx="149.5" cy="153.8" r="1.75"/><circle cx="141.66" cy="155.32" r="1.75"/><circle cx="136.87" cy="151.83" r="1.75"/><circle cx="159.43" cy="150.92" r="1.75"/><circle cx="163.25" cy="154.28" r="1.75"/><circle cx="152.92" cy="150.69" r="1.75"/><circle cx="149.87" cy="156.99" r="1.75"/><circle cx="143.53" cy="156.66" r="1.75"/><circle cx="126.69" cy="153.74" r="1.75"/><circle cx="160.5" cy="152.5" r="1.75"/><circle cx="155.82" cy="166.37" r="1.75"/><circle cx="134.87" cy="150.91" r="1.75"/><circle cx="134.95" cy="149.29" r="1.75"/><circle cx="129.26" cy="149.41" r="1.75"/><circle cx="141.42" cy="154.24" r="1.75"/><circle cx="164.43" cy="148.83" r="1.75"/><circle cx="150.13" cy="161" r="1.75"/><circle cx="143.58" cy="165.45" r="1.75"/><circle cx="164.05" cy="153.18" r="1.75"/><circle cx="150.36" cy="158.63" r="1.75"/><circle cx="138.88" cy="150.92" r="1.75"/><circle cx="155.12" cy="148.64" r="1.75"/><circle cx="145.25" cy="159.41" r="1.75"/><circle cx="122.93" cy="155.44" r="1.75"/><circle cx="142.68" cy="155.42" r="1.75"/><circle cx="149.78" cy="159.94" r="1.75"/><circle cx="149.51" cy="152.76" r="1.75"/><circle cx="155.95" cy="149.61" r="1.75"/><circle cx="158.23" cy="158.91" r="1.75"/><circle cx="148.02" cy="158.59" r="1.75"/><circle cx="132.3" cy="153.24" r="1.75"/><circle cx="164.38" cy="158.77" r="1.75"/><circle cx="134.12" cy="157.53" r="1.75"/><circle cx="130.65" cy="159.55" r="1.75"/><circle cx="124.61" cy="150.46" r="1.75"/><circle cx="154.6" cy="159.79" r="1.75"/><circle cx="154.79" cy="153.84" r="1.75"/><circle cx="146.48" cy="156.46" r="1.75"/><circle cx="130.12" cy="148.15" r="1.75"/><circle cx="135.79" cy="147.22" r="1.75"/><circle cx="159.21" cy="156.32" r="1.75"/><circle cx="164.91" cy="153.02" r="1.75"/><circle cx="142.12" cy="164.92" r="1.75"/><circle cx="159.6" cy="162.52" r="1.75"/><circle cx="151.91" cy="161.24" r="1.75"/><circle cx="146.47" cy="149.08" r="1.75"/><circle cx="144.32" cy="147.56" r="1.75"/><circle cx="163.29" cy="162.91" r="1.75"/><circle cx="150.48" cy="150.63" r="1.75"/><circle cx="133.9" cy="154.69" r="1.75"/><circle cx="141.33" cy="149.31" r="1.75"/><circle cx="134.12" cy="153.16" r="1.75"/><circle cx="131.13" cy="158.22" r="1.75"/><circle cx="153.18" cy="162.06" r="1.75"/><circle cx="156.92" cy="166.56" r="1.75"/><circle cx="158.35" cy="157.33" r="1.75"/><circle cx="159.76" cy="163.11" r="1.75"/><circle cx="152.8" cy="164.23" r="1.75"/><circle cx="162.34" cy="155.28" r="1.75"/><circle cx="155.44" cy="159.33" r="1.75"/><circle cx="137.19" cy="154.47" r="1.75"/><circle cx="164.86" cy="149.63" r="1.75"/><circle cx="149.67" cy="155.16" r="1.75"/><circle cx="157.79" cy="153.86" r="1.75"/><circle cx="148.55" cy="149.66" r="1.75"/><circle cx="153.28" cy="152.36" r="1.75"/><circle cx="177.78" cy="148.96" r="1.75"/><circle cx="145.88" cy="160.92" r="1.75"/><circle cx="134.55" cy="147.14" r="1.75"/><circle cx="159.21" cy="163.08" r="1.75"/><circle cx="150.44" cy="150.66" r="1.75"/><circle cx="169.89" cy="162.72" r="1.75"/><circle cx="144.59" cy="157.35" r="1.75"/><circle cx="145.97" cy="163.78" r="1.75"/><circle cx="153.99" cy="163.91" r="1.75"/><circle cx="140.46" cy="147.64" r="1.75"/><circle cx="147.65" cy="159.93" r="1.75"/><circle cx="135.04" cy="151.08" r="1.75"/><circle cx="148.8" cy="153.58" r="1.75"/><circle cx="131.07" cy="163.04" r="1.75"/><circle cx="155.62" cy="149.16" r="1.75"/><circle cx="164.83" cy="158.74" r="1.75"/><circle cx="144.83" cy="154.19" r="1.75"/><circle cx="163.79" cy="149.57" r="1.75"/><circle cx="146.15" cy="150.72" r="1.75"/><circle cx="161.61" cy="159.07" r="1.75"/><circle cx="151.55" cy="152.81" r="1.75"/><circle cx="164.85" cy="156.14" r="1.75"/><circle cx="152.59" cy="160.32" r="1.75"/><circle cx="165.27" cy="153.77" r="1.75"/><circle cx="146.63" cy="154.39" r="1.75"/><circle cx="140.7" cy="154.17" r="1.75"/><circle cx="147.61" cy="155.62" r="1.75"/><circle cx="138.69" cy="148.21" r="1.75"/><circle cx="174.37" cy="157.89" r="1.75"/><circle cx="154.02" cy="154.51" r="1.75"/><circle cx="163.84" cy="161.01" r="1.75"/><circle cx="147.13" cy="164.06" r="1.75"/><circle cx="167.61" cy="159.82" r="1.75"/><circle cx="176.91" cy="158.12" r="1.75"/><circle cx="165.71" cy="163.58" r="1.75"/><circle cx="159.5" cy="159.01" r="1.75"/><circle cx="163.5" cy="148.98" r="1.75"/><circle cx="138.63" cy="159.47" r="1.75"/><circle cx="152.32" cy="151.79" r="1.75"/><circle cx="151.05" cy="156.59" r="1.75"/><circle cx="137.25" cy="155.54" r="1.75"/><circle cx="133.37" cy="155.19" r="1.75"/><circle cx="154.57" cy="157.63" r="1.75"/><circle cx="153.76" cy="158.48" r="1.75"/><circle cx="138.05" cy="150.65" r="1.75"/><circle cx="152.35" cy="163.95" r="1.75"/><circle cx="157.29" cy="163.23" r="1.75"/><circle cx="141.73" cy="165.76" r="1.75"/><circle cx="144.28" cy="161.33" r="1.75"/><circle cx="162.04" cy="152.43" r="1.75"/><circle cx="130.18" cy="151.81" r="1.75"/><circle cx="149.66" cy="148.2" r="1.75"/><circle cx="144.74" cy="161.08" r="1.75"/><circle cx="170.91" cy="150.79" r="1.75"/><circle cx="142.24" cy="160.47" r="1.75"/><circle cx="172.79" cy="147.82" r="1.75"/><circle cx="141.86" cy="155.35" r="1.75"/><circle cx="135" cy="151.31" r="1.75"/><circle cx="167.78" cy="160.87" r="1.75"/><circle cx="136.08" cy="148.96" r="1.75"/><circle cx="171.37" cy="153.51" r="1.75"/><circle cx="145.08" cy="152.99" r="1.75"/><circle cx="134.91" cy="157.07" r="1.75"/><circle cx="139.38" cy="155.98" r="1.75"/><circle cx="137.14" cy="160.12" r="1.75"/><circle cx="140.83" cy="151.36" r="1.75"/><circle cx="175.32" cy="147.29" r="1.75"/><circle cx="151.34" cy="152.59" r="1.75"/><circle cx="149.56" cy="167.22" r="1.75"/><circle cx="164.99" cy="151.47" r="1.75"/><circle cx="150.75" cy="157.06" r="1.75"/><circle cx="150.02" cy="149.9" r="1.75"/><circle cx="135.86" cy="162.14" r="1.75"/><circle cx="135.7" cy="164.75" r="1.75"/><circle cx="125.78" cy="147.7" r="1.75"/><circle cx="149.26" cy="153.88" r="1.75"/><circle cx="142.19" cy="165.19" r="1.75"/><circle cx="149.37" cy="166.39" r="1.75"/><circle cx="149.3" cy="156.67" r="1.75"/><circle cx="151.9" cy="148.46" r="1.75"/><circle cx="152.28" cy="162.62" r="1.75"/><circle cx="157.07" cy="157.66" r="1.75"/><circle cx="156.53" cy="153.42" r="1.75"/><circle cx="148.85" cy="151.89" r="1.75"/><circle cx="152.13" cy="148.96" r="1.75"/><circle cx="147.43" cy="148.26" r="1.75"/><circle cx="151.85" cy="167.37" r="1.75"/><circle cx="136.56" cy="160.29" r="1.75"/><circle cx="158.34" cy="164.91" r="1.75"/><circle cx="150.51" cy="164.15" r="1.75"/><circle cx="159.39" cy="149.23" r="1.75"/><circle cx="151.77" cy="166.58" r="1.75"/><circle cx="155.33" cy="155.14" r="1.75"/><circle cx="122.77" cy="156.24" r="1.75"/><circle cx="143.15" cy="150.54" r="1.75"/><circle cx="160.15" cy="164.66" r="1.75"/><circle cx="145.62" cy="165.15" r="1.75"/><circle cx="155.62" cy="165.54" r="1.75"/><circle cx="153.51" cy="163.63" r="1.75"/><circle cx="171.51" cy="160.65" r="1.75"/><circle cx="149.37" cy="167.38" r="1.75"/><circle cx="134.86" cy="148.84" r="1.75"/><circle cx="173.86" cy="150.21" r="1.75"/><circle cx="144.34" cy="160.94" r="1.75"/><circle cx="145.54" cy="148.06" r="1.75"/><circle cx="149.21" cy="157.21" r="1.75"/><circle cx="146.35" cy="167.21" r="1.75"/><circle cx="139.22" cy="162.13" r="1.75"/><circle cx="156.05" cy="159.83" r="1.75"/><circle cx="156.51" cy="161.06" r="1.75"/><circle cx="142.96" cy="161.98" r="1.75"/><circle cx="169.82" cy="162.09" r="1.75"/><circle cx="144.87" cy="161.07" r="1.75"/><circle cx="149.41" cy="150.39" r="1.75"/><circle cx="155.69" cy="158.06" r="1.75"/><circle cx="132.49" cy="150.62" r="1.75"/><circle cx="156.26" cy="164.25" r="1.75"/><circle cx="142.36" cy="163.05" r="1.75"/><circle cx="125.19" cy="148.38" r="1.75"/><circle cx="163.71" cy="158.68" r="1.75"/><circle cx="155.66" cy="147.98" r="1.75"/><circle cx="155.22" cy="153.26" r="1.75"/><circle cx="151.53" cy="166.39" r="1.75"/><circle cx="175.05" cy="155.24" r="1.75"/><circle cx="120.1" cy="154.37" r="1.75"/><circle cx="140.34" cy="161.35" r="1.75"/><circle cx="161.56" cy="155.25" r="1.75"/><circle cx="178.42" cy="159.67" r="1.75"/><circle cx="148.67" cy="150.35" r="1.75"/><circle cx="156.51" cy="163.68" r="1.75"/><circle cx="168.41" cy="154.93" r="1.75"/><circle cx="136.92" cy="147.27" r="1.75"/><circle cx="159.41" cy="153.8" r="1.75"/><circle cx="134.2" cy="159.76" r="1.75"/><circle cx="138.63" cy="156.32" r="1.75"/><circle cx="153.98" cy="151.15" r="1.75"/><circle cx="147.08" cy="159.81" r="1.75"/><circle cx="144.67" cy="155.79" r="1.75"/><circle cx="150.01" cy="152.1" r="1.75"/><circle cx="141.95" cy="153.35" r="1.75"/><circle cx="132.89" cy="164.6" r="1.75"/><circle cx="153.46" cy="150.65" r="1.75"/><circle cx="164.74" cy="162.24" r="1.75"/><circle cx="142.58" cy="166.06" r="1.75"/><circle cx="161.15" cy="159.09" r="1.75"/><circle cx="134.52" cy="164.99" r="1.75"/><circle cx="160.27" cy="161.57" r="1.75"/><circle cx="152.94" cy="155.83" r="1.75"/><circle cx="137.4" cy="163.66" r="1.75"/><circle cx="147.66" cy="154.96" r="1.75"/><circle cx="134.66" cy="154.79" r="1.75"/><circle cx="148.47" cy="159.26" r="1.75"/><circle cx="145.46" cy="155.33" r="1.75"/><circle cx="143.13" cy="153.08" r="1.75"/><circle cx="156.55" cy="160.7" r="1.75"/><circle cx="130.45" cy="151.1" r="1.75"/><circle cx="146.69" cy="150.32" r="1.75"/><circle cx="140.44" cy="149.6" r="1.75"/><circle cx="151.47" cy="151.88" r="1.75"/><circle cx="141.89" cy="147.23" r="1.75"/><circle cx="127.2" cy="161.84" r="1.75"/><circle cx="141.81" cy="157.05" r="1.75"/><circle cx="131.91" cy="148.17" r="1.75"/><circle cx="147.99" cy="154.07" r="1.75"/><circle cx="132.95" cy="158.62" r="1.75"/><circle cx="157.55" cy="163.7" r="1.75"/><circle cx="140.75" cy="161.31" r="1.75"/><circle cx="163.68" cy="153.64" r="1.75"/><circle cx="131.02" cy="148.88" r="1.75"/><circle cx="170.85" cy="153.39" r="1.75"/><circle cx="171.34" cy="160.9" r="1.75"/><circle cx="151.47" cy="166.02" r="1.75"/><circle cx="174.77" cy="160.19" r="1.75"/><circle cx="146.76" cy="153.02" r="1.75"/><circle cx="180.48" cy="155.84" r="1.75"/><circle cx="147.38" cy="148.89" r="1.75"/><circle cx="153.29" cy="162.54" r="1.75"/><circle cx="161.51" cy="158.72" r="1.75"/><circle cx="133.37" cy="164.26" r="1.75"/><circle cx="171.12" cy="159.27" r="1.75"/><circle cx="149.89" cy="153.35" r="1.75"/><circle cx="156.17" cy="150.81" r="1.75"/><circle cx="152.1" cy="153.07" r="1.75"/><circle cx="134.85" cy="162.64" r="1.75"/><circle cx="166.03" cy="148.98" r="1.75"/><circle cx="137.73" cy="155.86" r="1.75"/><circle cx="155.16" cy="151.97" r="1.75"/><circle cx="151.02" cy="152.07" r="1.75"/><circle cx="164.81" cy="163.33" r="1.75"/><circle cx="130.62" cy="160.28" r="1.75"/><circle cx="162.71" cy="165.44" r="1.75"/><circle cx="145.3" cy="165.78" r="1.75"/><circle cx="151.7" cy="164.52" r="1.75"/><circle cx="155.12" cy="164.61" r="1.75"/><circle cx="158.89" cy="153.86" r="1.75"/><circle cx="150.85" cy="158.94" r="1.75"/><circle cx="128.7" cy="150.67" r="1.75"/><circle cx="143.92" cy="156.07" r="1.75"/><circle cx="145.47" cy="150.67" r="1.75"/><circle cx="153.65" cy="153.08" r="1.75"/><circle cx="154.03" cy="155.19" r="1.75"/><circle cx="166.11" cy="156.49" r="1.75"/><circle cx="144.97" cy="166.23" r="1.75"/><circle cx="155.93" cy="156.36" r="1.75"/><circle cx="153.41" cy="160.29" r="1.75"/><circle cx="149.94" cy="166.2" r="1.75"/><circle cx="147.2" cy="164.34" r="1.75"/><circle cx="144.4" cy="158.7" r="1.75"/><circle cx="158.64" cy="153.07" r="1.75"/><circle cx="156.05" cy="155.25" r="1.75"/><circle cx="142.59" cy="164.65" r="1.75"/><circle cx="174.54" cy="154.12" r="1.75"/><circle cx="146.23" cy="155.5" r="1.75"/><circle cx="152.07" cy="162.38" r="1.75"/><circle cx="159.89" cy="166.27" r="1.75"/><circle cx="166.16" cy="151.12" r="1.75"/><circle cx="175.25" cy="155.69" r="1.75"/><circle cx="124.42" cy="157.14" r="1.75"/><circle cx="149.61" cy="147.34" r="1.75"/><circle cx="132.95" cy="149.39" r="1.75"/><circle cx="165.29" cy="151.43" r="1.75"/></g>
<g fill="#8abbdb" fill-opacity="0.72"><circle cx="133.6" cy="126.98" r="3.1"/><circle cx="141.05" cy="95.38" r="3.1"/><circle cx="122.05" cy="143.7" r="3.1"/><circle cx="140.5" cy="105.56" r="3.1"/><circle cx="140.13" cy="130.35" r="3.1"/><circle cx="135.85" cy="132.29" r="3.1"/><circle cx="141.29" cy="90.26" r="3.1"/><circle cx="138.09" cy="125.67" r="3.1"/><circle cx="139.04" cy="143.61" r="3.1"/><circle cx="140.1" cy="138.15" r="3.1"/><circle cx="131.45" cy="130.24" r="3.1"/><circle cx="134.03" cy="139.27" r="3.1"/><circle cx="137.45" cy="140.32" r="3.1"/><circle cx="139.79" cy="101.49" r="3.1"/><circle cx="139.35" cy="107.38" r="3.1"/><circle cx="137.66" cy="112.88" r="3.1"/><circle cx="131.02" cy="112.88" r="3.1"/><circle cx="138.01" cy="112.32" r="3.1"/><circle cx="140.17" cy="113.93" r="3.1"/><circle cx="140.62" cy="147.33" r="3.1"/><circle cx="136.42" cy="119.72" r="3.1"/><circle cx="133.17" cy="133.41" r="3.1"/><circle cx="138.17" cy="114.59" r="3.1"/><circle cx="132.02" cy="147.59" r="3.1"/><circle cx="135.11" cy="117.15" r="3.1"/><circle cx="140.57" cy="102.25" r="3.1"/><circle cx="137.75" cy="132.17" r="3.1"/><circle cx="130.47" cy="116.36" r="3.1"/><circle cx="141.08" cy="138.21" r="3.1"/><circle cx="133.27" cy="111.91" r="3.1"/><circle cx="135.12" cy="120.58" r="3.1"/><circle cx="140.68" cy="95.22" r="3.1"/><circle cx="133.84" cy="143.98" r="3.1"/><circle cx="136.25" cy="139.93" r="3.1"/><circle cx="136.92" cy="138.53" r="3.1"/><circle cx="135.16" cy="120.63" r="3.1"/><circle cx="138.9" cy="104.76" r="3.1"/><circle cx="139.11" cy="105.4" r="3.1"/><circle cx="137.29" cy="111.89" r="3.1"/><circle cx="134.71" cy="123.51" r="3.1"/><circle cx="138.34" cy="139.26" r="3.1"/><circle cx="132.61" cy="126.67" r="3.1"/><circle cx="135.72" cy="124.82" r="3.1"/><circle cx="130.59" cy="129.99" r="3.1"/><circle cx="136.86" cy="85" r="3.1"/><circle cx="137.75" cy="98.97" r="3.1"/><circle cx="137.36" cy="142.52" r="3.1"/><circle cx="136.63" cy="126.22" r="3.1"/><circle cx="139.55" cy="137.34" r="3.1"/><circle cx="134.68" cy="114.12" r="3.1"/><circle cx="133.48" cy="101.65" r="3.1"/><circle cx="140.5" cy="100.6" r="3.1"/><circle cx="130.83" cy="144.86" r="3.1"/><circle cx="134.75" cy="101.35" r="3.1"/><circle cx="138.8" cy="91.63" r="3.1"/><circle cx="137.89" cy="93.18" r="3.1"/><circle cx="137.19" cy="90.01" r="3.1"/><circle cx="133.64" cy="109.28" r="3.1"/><circle cx="136.58" cy="145.54" r="3.1"/><circle cx="141.46" cy="122.58" r="3.1"/><circle cx="136.09" cy="135.72" r="3.1"/><circle cx="139.54" cy="92.33" r="3.1"/><circle cx="139.28" cy="129.43" r="3.1"/><circle cx="134.73" cy="142.47" r="3.1"/><circle cx="133.23" cy="127.78" r="3.1"/><circle cx="136.04" cy="115.6" r="3.1"/><circle cx="131.79" cy="145.41" r="3.1"/><circle cx="135.84" cy="130.67" r="3.1"/><circle cx="136.57" cy="93.48" r="3.1"/><circle cx="133.2" cy="124.51" r="3.1"/><circle cx="137.43" cy="117.87" r="3.1"/><circle cx="133.19" cy="120.2" r="3.1"/><circle cx="138.57" cy="97.53" r="3.1"/><circle cx="130.97" cy="139" r="3.1"/><circle cx="140.67" cy="136.22" r="3.1"/><circle cx="132.52" cy="135.49" r="3.1"/><circle cx="132.27" cy="129.19" r="3.1"/><circle cx="139.82" cy="95.46" r="3.1"/><circle cx="129.18" cy="135.59" r="3.1"/><circle cx="140.06" cy="145.57" r="3.1"/><circle cx="137.07" cy="145.19" r="3.1"/><circle cx="129.34" cy="130.79" r="3.1"/><circle cx="139.71" cy="122.75" r="3.1"/><circle cx="137.52" cy="147.34" r="3.1"/><circle cx="139.23" cy="128.81" r="3.1"/><circle cx="136.15" cy="101.97" r="3.1"/><circle cx="141.56" cy="105.87" r="3.1"/><circle cx="136.39" cy="111.22" r="3.1"/><circle cx="127.79" cy="145.33" r="3.1"/><circle cx="132.48" cy="110.81" r="3.1"/><circle cx="136.59" cy="114.17" r="3.1"/><circle cx="137.5" cy="107.95" r="3.1"/><circle cx="136.78" cy="94.65" r="3.1"/><circle cx="138.87" cy="147" r="3.1"/><circle cx="136.5" cy="119.97" r="3.1"/><circle cx="134.62" cy="125.24" r="3.1"/><circle cx="137.96" cy="121.41" r="3.1"/><circle cx="138.67" cy="113.29" r="3.1"/><circle cx="141.25" cy="94.73" r="3.1"/><circle cx="130.35" cy="146.81" r="3.1"/><circle cx="139.57" cy="127.3" r="3.1"/><circle cx="133.08" cy="136.87" r="3.1"/><circle cx="135.6" cy="114.88" r="3.1"/><circle cx="129" cy="135.95" r="3.1"/><circle cx="140.95" cy="143.69" r="3.1"/><circle cx="139.24" cy="106.24" r="3.1"/><circle cx="138.73" cy="124.33" r="3.1"/><circle cx="140" cy="141.91" r="3.1"/><circle cx="131.94" cy="139.54" r="3.1"/><circle cx="137.39" cy="136.12" r="3.1"/><circle cx="132.55" cy="121.52" r="3.1"/><circle cx="133.18" cy="147.71" r="3.1"/><circle cx="133.48" cy="109.55" r="3.1"/><circle cx="140.28" cy="85.96" r="3.1"/><circle cx="128.52" cy="135.17" r="3.1"/><circle cx="134.28" cy="105.82" r="3.1"/><circle cx="131.69" cy="146.56" r="3.1"/><circle cx="139.3" cy="124.61" r="3.1"/><circle cx="140.7" cy="139.34" r="3.1"/><circle cx="126.51" cy="146.37" r="3.1"/><circle cx="140.99" cy="112.82" r="3.1"/><circle cx="136.96" cy="120.63" r="3.1"/><circle cx="133.38" cy="123" r="3.1"/><circle cx="139.44" cy="91.22" r="3.1"/><circle cx="140.33" cy="135.87" r="3.1"/><circle cx="136.13" cy="94.74" r="3.1"/><circle cx="141.28" cy="96.34" r="3.1"/><circle cx="134.64" cy="134.19" r="3.1"/><circle cx="138.23" cy="90.99" r="3.1"/><circle cx="136.49" cy="141.17" r="3.1"/><circle cx="126.62" cy="147.64" r="3.1"/><circle cx="133.65" cy="134.39" r="3.1"/><circle cx="139.91" cy="100.84" r="3.1"/><circle cx="140.28" cy="128.31" r="3.1"/><circle cx="133.93" cy="145.01" r="3.1"/><circle cx="138.93" cy="94.36" r="3.1"/><circle cx="135.87" cy="117.22" r="3.1"/><circle cx="134.88" cy="130.49" r="3.1"/><circle cx="128.37" cy="122.73" r="3.1"/><circle cx="140.72" cy="96.15" r="3.1"/><circle cx="134.64" cy="136.08" r="3.1"/><circle cx="132.35" cy="113.29" r="3.1"/><circle cx="135.49" cy="101.91" r="3.1"/><circle cx="134.79" cy="132.45" r="3.1"/><circle cx="137.63" cy="85" r="3.1"/><circle cx="138.98" cy="114.62" r="3.1"/><circle cx="129.48" cy="141.97" r="3.1"/><circle cx="131.99" cy="109.11" r="3.1"/><circle cx="130.62" cy="133.51" r="3.1"/><circle cx="140.57" cy="125.89" r="3.1"/><circle cx="137.18" cy="108.88" r="3.1"/><circle cx="129.82" cy="130.5" r="3.1"/><circle cx="140.53" cy="135.77" r="3.1"/><circle cx="139.44" cy="125.47" r="3.1"/><circle cx="130.9" cy="131.37" r="3.1"/><circle cx="141.49" cy="120.55" r="3.1"/><circle cx="130.32" cy="114.73" r="3.1"/><circle cx="130.16" cy="140.6" r="3.1"/><circle cx="136.5" cy="145.57" r="3.1"/><circle cx="132.53" cy="143.82" r="3.1"/><circle cx="135.8" cy="103.47" r="3.1"/><circle cx="139.51" cy="105.03" r="3.1"/><circle cx="138.52" cy="108.04" r="3.1"/><circle cx="140.14" cy="127.32" r="3.1"/><circle cx="141.11" cy="87.36" r="3.1"/><circle cx="139.35" cy="93.67" r="3.1"/><circle cx="136" cy="125.73" r="3.1"/><circle cx="130.11" cy="120.01" r="3.1"/><circle cx="131.52" cy="127.85" r="3.1"/><circle cx="125.52" cy="135.33" r="3.1"/><circle cx="125.81" cy="141.87" r="3.1"/><circle cx="127.39" cy="136.71" r="3.1"/><circle cx="133.92" cy="129.48" r="3.1"/><circle cx="130.13" cy="143.38" r="3.1"/><circle cx="135.99" cy="139.17" r="3.1"/><circle cx="137.13" cy="104.39" r="3.1"/><circle cx="138.05" cy="134.11" r="3.1"/><circle cx="138.67" cy="112.56" r="3.1"/><circle cx="130.78" cy="135.25" r="3.1"/><circle cx="128.83" cy="120.33" r="3.1"/><circle cx="127.7" cy="125.07" r="3.1"/><circle cx="140.47" cy="135.97" r="3.1"/><circle cx="126.31" cy="142.85" r="3.1"/><circle cx="136.24" cy="129.95" r="3.1"/><circle cx="136.36" cy="121.47" r="3.1"/><circle cx="133.3" cy="118.5" r="3.1"/><circle cx="134.6" cy="125.81" r="3.1"/><circle cx="129.28" cy="124.1" r="3.1"/><circle cx="130.67" cy="119.34" r="3.1"/><circle cx="136" cy="108" r="3.1"/><circle cx="135.18" cy="147.7" r="3.1"/><circle cx="135.6" cy="135.1" r="3.1"/><circle cx="134.13" cy="145.08" r="3.1"/><circle cx="137.46" cy="122.13" r="3.1"/><circle cx="140.08" cy="137.63" r="3.1"/><circle cx="139.09" cy="106.72" r="3.1"/><circle cx="128.96" cy="146.09" r="3.1"/><circle cx="138.8" cy="136.75" r="3.1"/><circle cx="130.17" cy="117.96" r="3.1"/><circle cx="135.83" cy="109.52" r="3.1"/><circle cx="122.78" cy="141.01" r="3.1"/><circle cx="140.69" cy="95.56" r="3.1"/><circle cx="129.8" cy="142.72" r="3.1"/><circle cx="138.72" cy="103.23" r="3.1"/><circle cx="138.38" cy="85.24" r="3.1"/><circle cx="126" cy="128.54" r="3.1"/><circle cx="140.9" cy="124.62" r="3.1"/><circle cx="133.39" cy="133.04" r="3.1"/><circle cx="136.06" cy="106.79" r="3.1"/><circle cx="127.84" cy="126.04" r="3.1"/><circle cx="136.27" cy="128.56" r="3.1"/><circle cx="126.43" cy="145.05" r="3.1"/><circle cx="139.86" cy="143.93" r="3.1"/><circle cx="141.27" cy="109.94" r="3.1"/><circle cx="138.24" cy="85.18" r="3.1"/><circle cx="135.39" cy="96.43" r="3.1"/><circle cx="132.51" cy="144.03" r="3.1"/><circle cx="140.99" cy="133.02" r="3.1"/><circle cx="136.42" cy="141.66" r="3.1"/><circle cx="137.27" cy="134.36" r="3.1"/><circle cx="136.46" cy="102.24" r="3.1"/><circle cx="138.93" cy="144.48" r="3.1"/><circle cx="141.28" cy="137.29" r="3.1"/><circle cx="138.4" cy="86.17" r="3.1"/><circle cx="131.82" cy="131.21" r="3.1"/><circle cx="132.87" cy="144.36" r="3.1"/><circle cx="134.25" cy="107.28" r="3.1"/><circle cx="140.19" cy="131.52" r="3.1"/><circle cx="126.47" cy="147.09" r="3.1"/><circle cx="135.87" cy="114.89" r="3.1"/><circle cx="131.18" cy="113.53" r="3.1"/><circle cx="139.64" cy="85.09" r="3.1"/><circle cx="137.82" cy="101.21" r="3.1"/><circle cx="134.78" cy="122.08" r="3.1"/><circle cx="139.71" cy="110.02" r="3.1"/><circle cx="136.06" cy="121.86" r="3.1"/><circle cx="140.72" cy="122.78" r="3.1"/><circle cx="136.52" cy="92.83" r="3.1"/><circle cx="136.34" cy="130.59" r="3.1"/><circle cx="132.1" cy="103.48" r="3.1"/><circle cx="140.84" cy="121.07" r="3.1"/><circle cx="137.58" cy="104.57" r="3.1"/><circle cx="140.5" cy="120.36" r="3.1"/><circle cx="141.29" cy="107.1" r="3.1"/><circle cx="136.94" cy="94.41" r="3.1"/><circle cx="122.07" cy="142.86" r="3.1"/><circle cx="140.28" cy="144.32" r="3.1"/><circle cx="139.35" cy="102.35" r="3.1"/><circle cx="134.72" cy="103.67" r="3.1"/><circle cx="140.55" cy="105.8" r="3.1"/><circle cx="137.43" cy="147.98" r="3.1"/><circle cx="133.93" cy="127.44" r="3.1"/><circle cx="140.72" cy="85.87" r="3.1"/><circle cx="136.56" cy="122.54" r="3.1"/><circle cx="131.69" cy="145.83" r="3.1"/><circle cx="136.64" cy="114.31" r="3.1"/><circle cx="139.97" cy="146.75" r="3.1"/><circle cx="132.29" cy="116.36" r="3.1"/><circle cx="139.08" cy="114.51" r="3.1"/><circle cx="129.67" cy="129.08" r="3.1"/><circle cx="134.58" cy="107.78" r="3.1"/><circle cx="136.52" cy="144.65" r="3.1"/><circle cx="135.74" cy="109.5" r="3.1"/><circle cx="140.04" cy="118.48" r="3.1"/><circle cx="136.53" cy="89.94" r="3.1"/><circle cx="133.26" cy="114.71" r="3.1"/><circle cx="137.62" cy="110.5" r="3.1"/><circle cx="140.52" cy="84.14" r="3.1"/><circle cx="138.66" cy="147.39" r="3.1"/><circle cx="136.25" cy="85.25" r="3.1"/><circle cx="133.84" cy="122.43" r="3.1"/><circle cx="127.77" cy="137.08" r="3.1"/><circle cx="140.76" cy="123.32" r="3.1"/><circle cx="138.77" cy="112.33" r="3.1"/><circle cx="139.62" cy="111.79" r="3.1"/><circle cx="136.66" cy="91.87" r="3.1"/><circle cx="128.35" cy="127.3" r="3.1"/><circle cx="138.71" cy="147.11" r="3.1"/><circle cx="138.17" cy="131.44" r="3.1"/><circle cx="133.86" cy="114.04" r="3.1"/><circle cx="134.56" cy="104.29" r="3.1"/><circle cx="133.6" cy="147.65" r="3.1"/><circle cx="136.29" cy="125.67" r="3.1"/><circle cx="138.97" cy="141.7" r="3.1"/><circle cx="138.28" cy="136.4" r="3.1"/><circle cx="132.88" cy="116.11" r="3.1"/><circle cx="134.84" cy="95.62" r="3.1"/><circle cx="140.15" cy="137.53" r="3.1"/><circle cx="141.29" cy="122.72" r="3.1"/><circle cx="135.16" cy="103.38" r="3.1"/><circle cx="137.95" cy="137.04" r="3.1"/><circle cx="134.27" cy="141.85" r="3.1"/><circle cx="128.25" cy="123.49" r="3.1"/><circle cx="136.16" cy="97.19" r="3.1"/><circle cx="139.98" cy="143.12" r="3.1"/><circle cx="138.08" cy="121.48" r="3.1"/><circle cx="131.36" cy="120.96" r="3.1"/><circle cx="139.48" cy="140.66" r="3.1"/><circle cx="141.43" cy="132.86" r="3.1"/><circle cx="138.55" cy="86.93" r="3.1"/><circle cx="140.56" cy="135.12" r="3.1"/><circle cx="124.24" cy="146.81" r="3.1"/><circle cx="134.11" cy="134.36" r="3.1"/><circle cx="140.75" cy="129.18" r="3.1"/><circle cx="136.48" cy="119.18" r="3.1"/><circle cx="125.4" cy="134.71" r="3.1"/><circle cx="134.04" cy="138.83" r="3.1"/><circle cx="136.43" cy="137.38" r="3.1"/><circle cx="131.62" cy="135.15" r="3.1"/><circle cx="134.84" cy="112.29" r="3.1"/><circle cx="140.99" cy="107.92" r="3.1"/><circle cx="128.62" cy="143.31" r="3.1"/><circle cx="132.49" cy="105.39" r="3.1"/><circle cx="127.36" cy="135.1" r="3.1"/><circle cx="136.19" cy="130.03" r="3.1"/><circle cx="131.04" cy="145.33" r="3.1"/><circle cx="141.57" cy="109.39" r="3.1"/><circle cx="140.08" cy="119.74" r="3.1"/><circle cx="131.05" cy="122.39" r="3.1"/><circle cx="139.29" cy="119.91" r="3.1"/><circle cx="133.58" cy="140.53" r="3.1"/><circle cx="138.13" cy="102.06" r="3.1"/><circle cx="139.84" cy="96.05" r="3.1"/><circle cx="140.31" cy="129.04" r="3.1"/><circle cx="137.26" cy="133.49" r="3.1"/><circle cx="140.38" cy="86.12" r="3.1"/><circle cx="131.39" cy="142.73" r="3.1"/><circle cx="134.69" cy="145.84" r="3.1"/><circle cx="138.26" cy="88.47" r="3.1"/><circle cx="138.04" cy="137.43" r="3.1"/><circle cx="127.42" cy="67.43" r="3.1"/><circle cx="133.82" cy="74.27" r="3.1"/><circle cx="110.03" cy="122.91" r="3.1"/><circle cx="109.57" cy="132.03" r="3.1"/><circle cx="115.06" cy="122.15" r="3.1"/><circle cx="117.81" cy="123.67" r="3.1"/><circle cx="120.1" cy="119.11" r="3.1"/><circle cx="112.32" cy="138.11" r="3.1"/><circle cx="114.61" cy="141.15" r="3.1"/><circle cx="113.69" cy="146.17" r="3.1"/><circle cx="117.81" cy="143.43" r="3.1"/><circle cx="122.38" cy="129.75" r="3.1"/><circle cx="126.96" cy="100.87" r="3.1"/><circle cx="126.05" cy="109.99" r="3.1"/><circle cx="126.5" cy="114.55" r="3.1"/><circle cx="124.67" cy="119.87" r="3.1"/><circle cx="133.37" cy="90.23" r="3.1"/><circle cx="137.03" cy="85.67" r="3.1"/><circle cx="138.85" cy="83.39" r="3.1"/><circle cx="130.62" cy="92.51" r="3.1"/><circle cx="116.89" cy="145.71" r="3.1"/><circle cx="120.56" cy="137.35" r="3.1"/><circle cx="121.93" cy="124.43" r="3.1"/></g>
<g fill="#f27d76" fill-opacity="0.72"><circle cx="161.93" cy="91.61" r="3.1"/><circle cx="163.73" cy="108.33" r="3.1"/><circle cx="162.57" cy="108.06" r="3.1"/><circle cx="164.4" cy="108.48" r="3.1"/><circle cx="163.09" cy="123.66" r="3.1"/><circle cx="165.04" cy="117.36" r="3.1"/><circle cx="174.49" cy="130.88" r="3.1"/><circle cx="165.66" cy="95.46" r="3.1"/><circle cx="161.07" cy="88.17" r="3.1"/><circle cx="167.21" cy="141.07" r="3.1"/><circle cx="173.47" cy="137.75" r="3.1"/><circle cx="168.36" cy="122.52" r="3.1"/><circle cx="161.84" cy="95.15" r="3.1"/><circle cx="162.17" cy="85.57" r="3.1"/><circle cx="166.33" cy="135.8" r="3.1"/><circle cx="168.89" cy="136.73" r="3.1"/><circle cx="164.62" cy="92.69" r="3.1"/><circle cx="163.04" cy="80.55" r="3.1"/><circle cx="170.37" cy="147.98" r="3.1"/><circle cx="161.51" cy="83.28" r="3.1"/><circle cx="162.71" cy="110.42" r="3.1"/><circle cx="172.71" cy="100.41" r="3.1"/><circle cx="175.08" cy="142.23" r="3.1"/><circle cx="167.98" cy="147.59" r="3.1"/><circle cx="170.57" cy="133.89" r="3.1"/><circle cx="164.24" cy="125.95" r="3.1"/><circle cx="177.18" cy="126.11" r="3.1"/><circle cx="171.5" cy="134.52" r="3.1"/><circle cx="162.49" cy="122.13" r="3.1"/><circle cx="182.4" cy="142.82" r="3.1"/><circle cx="163.4" cy="133.89" r="3.1"/><circle cx="161.67" cy="86.06" r="3.1"/><circle cx="169.56" cy="147.18" r="3.1"/><circle cx="179.15" cy="114.56" r="3.1"/><circle cx="178.44" cy="122.81" r="3.1"/><circle cx="162" cy="103.27" r="3.1"/><circle cx="162.09" cy="86.7" r="3.1"/><circle cx="181.87" cy="132.43" r="3.1"/><circle cx="168.51" cy="130.07" r="3.1"/><circle cx="169.5" cy="114.2" r="3.1"/><circle cx="167.67" cy="110.32" r="3.1"/><circle cx="170.34" cy="100.79" r="3.1"/><circle cx="172.41" cy="145.08" r="3.1"/><circle cx="168.56" cy="138.2" r="3.1"/><circle cx="168" cy="88.8" r="3.1"/><circle cx="183.84" cy="134.19" r="3.1"/><circle cx="164.21" cy="87.12" r="3.1"/><circle cx="160.29" cy="112.4" r="3.1"/><circle cx="177.95" cy="115.27" r="3.1"/><circle cx="165.48" cy="145.68" r="3.1"/><circle cx="163.52" cy="135.95" r="3.1"/><circle cx="169.06" cy="98.41" r="3.1"/><circle cx="172.51" cy="134.22" r="3.1"/><circle cx="166.16" cy="85.08" r="3.1"/><circle cx="169.24" cy="88.19" r="3.1"/><circle cx="170.01" cy="98.29" r="3.1"/><circle cx="169.23" cy="133.3" r="3.1"/><circle cx="165.01" cy="141.96" r="3.1"/><circle cx="161.14" cy="146.94" r="3.1"/><circle cx="169.86" cy="113.51" r="3.1"/><circle cx="161.75" cy="141.55" r="3.1"/><circle cx="163.78" cy="136.2" r="3.1"/><circle cx="162.32" cy="124.03" r="3.1"/><circle cx="162.27" cy="147.13" r="3.1"/><circle cx="166.54" cy="116.98" r="3.1"/><circle cx="163.09" cy="135.07" r="3.1"/><circle cx="170.43" cy="146.61" r="3.1"/><circle cx="167.59" cy="103.13" r="3.1"/><circle cx="162" cy="129.77" r="3.1"/><circle cx="160.08" cy="95.11" r="3.1"/><circle cx="180.41" cy="125.84" r="3.1"/><circle cx="167.69" cy="146.37" r="3.1"/><circle cx="164.42" cy="101.02" r="3.1"/><circle cx="163.31" cy="133.28" r="3.1"/><circle cx="162.35" cy="89.18" r="3.1"/><circle cx="165.23" cy="93.66" r="3.1"/><circle cx="170.8" cy="137.51" r="3.1"/><circle cx="161.6" cy="88.02" r="3.1"/><circle cx="162.51" cy="128.97" r="3.1"/><circle cx="160.61" cy="136.67" r="3.1"/><circle cx="164.41" cy="85.46" r="3.1"/><circle cx="165.85" cy="123.23" r="3.1"/><circle cx="165.69" cy="92.56" r="3.1"/><circle cx="167.08" cy="118.88" r="3.1"/><circle cx="162.47" cy="146.49" r="3.1"/><circle cx="164.79" cy="124.39" r="3.1"/><circle cx="162.45" cy="127.53" r="3.1"/><circle cx="160.29" cy="96.9" r="3.1"/><circle cx="167.17" cy="103.5" r="3.1"/><circle cx="175.22" cy="121.35" r="3.1"/><circle cx="177.55" cy="114.69" r="3.1"/><circle cx="165.75" cy="123.63" r="3.1"/><circle cx="162.32" cy="142.13" r="3.1"/><circle cx="162.55" cy="142.16" r="3.1"/><circle cx="161.22" cy="122.09" r="3.1"/><circle cx="161.33" cy="144.99" r="3.1"/><circle cx="165.18" cy="139.63" r="3.1"/><circle cx="168.83" cy="108.94" r="3.1"/><circle cx="173.44" cy="111.93" r="3.1"/><circle cx="170.61" cy="119.71" r="3.1"/><circle cx="161.41" cy="142.95" r="3.1"/><circle cx="163.33" cy="122.89" r="3.1"/><circle cx="183.49" cy="143.12" r="3.1"/><circle cx="161.55" cy="108.51" r="3.1"/><circle cx="161.83" cy="99.45" r="3.1"/><circle cx="161.7" cy="132.35" r="3.1"/><circle cx="165.54" cy="116.82" r="3.1"/><circle cx="168.34" cy="98.38" r="3.1"/><circle cx="164.41" cy="122.09" r="3.1"/><circle cx="160.95" cy="105.5" r="3.1"/><circle cx="166.25" cy="97.38" r="3.1"/><circle cx="163.1" cy="118.28" r="3.1"/><circle cx="164.49" cy="86.94" r="3.1"/><circle cx="166.25" cy="105.84" r="3.1"/><circle cx="171.39" cy="98.09" r="3.1"/><circle cx="162.16" cy="94.41" r="3.1"/><circle cx="163.77" cy="95.72" r="3.1"/><circle cx="165.38" cy="132.83" r="3.1"/><circle cx="181.13" cy="135.45" r="3.1"/><circle cx="161.15" cy="103.31" r="3.1"/><circle cx="166.47" cy="89.28" r="3.1"/><circle cx="163.83" cy="135.88" r="3.1"/><circle cx="165.64" cy="98.32" r="3.1"/><circle cx="161.35" cy="94.7" r="3.1"/><circle cx="160.95" cy="105.59" r="3.1"/><circle cx="163.46" cy="131.99" r="3.1"/><circle cx="165.12" cy="125.89" r="3.1"/><circle cx="165.26" cy="81.59" r="3.1"/><circle cx="167.64" cy="122.46" r="3.1"/><circle cx="162.81" cy="106.66" r="3.1"/><circle cx="167.88" cy="91.83" r="3.1"/><circle cx="168.8" cy="90.38" r="3.1"/><circle cx="172.02" cy="136.64" r="3.1"/><circle cx="161.73" cy="128.48" r="3.1"/><circle cx="160.01" cy="93.15" r="3.1"/><circle cx="159.9" cy="107.48" r="3.1"/><circle cx="167.59" cy="142.57" r="3.1"/><circle cx="166.36" cy="146.65" r="3.1"/><circle cx="160.54" cy="113.67" r="3.1"/><circle cx="176.77" cy="143.17" r="3.1"/><circle cx="181.66" cy="127.92" r="3.1"/><circle cx="165" cy="117.01" r="3.1"/><circle cx="167" cy="145.71" r="3.1"/><circle cx="168.62" cy="95.18" r="3.1"/><circle cx="174.73" cy="117.22" r="3.1"/><circle cx="164.55" cy="110.2" r="3.1"/><circle cx="163.93" cy="81.39" r="3.1"/><circle cx="169.67" cy="91.37" r="3.1"/><circle cx="167.14" cy="98.21" r="3.1"/><circle cx="173.28" cy="115.72" r="3.1"/><circle cx="160.16" cy="113.95" r="3.1"/><circle cx="164.59" cy="117.66" r="3.1"/><circle cx="161.48" cy="129.22" r="3.1"/><circle cx="162.73" cy="144.15" r="3.1"/><circle cx="165.74" cy="123.91" r="3.1"/><circle cx="164" cy="123.19" r="3.1"/><circle cx="166.09" cy="136.38" r="3.1"/><circle cx="170.28" cy="118.9" r="3.1"/><circle cx="177.98" cy="111.65" r="3.1"/><circle cx="162.68" cy="116.89" r="3.1"/><circle cx="177.54" cy="114.6" r="3.1"/><circle cx="161.94" cy="135.7" r="3.1"/><circle cx="173.8" cy="140.3" r="3.1"/><circle cx="163.86" cy="122.63" r="3.1"/><circle cx="172.83" cy="134.69" r="3.1"/><circle cx="162.61" cy="124.23" r="3.1"/><circle cx="162.22" cy="118.97" r="3.1"/><circle cx="170.56" cy="143.01" r="3.1"/><circle cx="167.12" cy="112.36" r="3.1"/><circle cx="170.21" cy="125.9" r="3.1"/><circle cx="180.36" cy="129.36" r="3.1"/><circle cx="171.74" cy="141.34" r="3.1"/><circle cx="167.53" cy="94" r="3.1"/><circle cx="163.15" cy="125.56" r="3.1"/><circle cx="175.94" cy="137.64" r="3.1"/><circle cx="160.84" cy="107.74" r="3.1"/><circle cx="174.97" cy="106.32" r="3.1"/><circle cx="169.94" cy="141.93" r="3.1"/><circle cx="179.99" cy="147.17" r="3.1"/><circle cx="165.94" cy="146.71" r="3.1"/><circle cx="177.12" cy="129.06" r="3.1"/><circle cx="160" cy="88.21" r="3.1"/><circle cx="168.32" cy="142.29" r="3.1"/><circle cx="161.35" cy="88.06" r="3.1"/><circle cx="167.24" cy="87.56" r="3.1"/><circle cx="165.05" cy="143.8" r="3.1"/><circle cx="166.4" cy="98.04" r="3.1"/><circle cx="163.1" cy="112.59" r="3.1"/><circle cx="162.08" cy="119.95" r="3.1"/><circle cx="166.02" cy="85.77" r="3.1"/><circle cx="163.6" cy="115.77" r="3.1"/><circle cx="162.44" cy="82.74" r="3.1"/><circle cx="184.51" cy="143.77" r="3.1"/><circle cx="161.32" cy="102.56" r="3.1"/><circle cx="163.99" cy="81.92" r="3.1"/><circle cx="163.76" cy="147.45" r="3.1"/><circle cx="168.21" cy="138.2" r="3.1"/><circle cx="166.85" cy="141.75" r="3.1"/><circle cx="161.82" cy="120.89" r="3.1"/><circle cx="174.45" cy="131.27" r="3.1"/><circle cx="179.19" cy="121.62" r="3.1"/><circle cx="173.53" cy="134.89" r="3.1"/><circle cx="176.62" cy="139.47" r="3.1"/><circle cx="171.13" cy="113.04" r="3.1"/><circle cx="161.51" cy="80.18" r="3.1"/><circle cx="162.75" cy="99.33" r="3.1"/><circle cx="174.37" cy="128.38" r="3.1"/><circle cx="165.49" cy="104.36" r="3.1"/><circle cx="163.04" cy="84.78" r="3.1"/><circle cx="169.31" cy="134.48" r="3.1"/><circle cx="163.91" cy="138.2" r="3.1"/><circle cx="165.57" cy="95.64" r="3.1"/><circle cx="163.81" cy="126.16" r="3.1"/><circle cx="170.59" cy="126.07" r="3.1"/><circle cx="175.1" cy="108.21" r="3.1"/><circle cx="160.75" cy="116.1" r="3.1"/><circle cx="162.24" cy="116.31" r="3.1"/><circle cx="165.49" cy="83.65" r="3.1"/><circle cx="165.09" cy="97.29" r="3.1"/><circle cx="176.8" cy="118.13" r="3.1"/><circle cx="163.18" cy="138.61" r="3.1"/><circle cx="168.54" cy="139.72" r="3.1"/><circle cx="163.43" cy="143.81" r="3.1"/><circle cx="178.09" cy="135.21" r="3.1"/><circle cx="171.72" cy="108.58" r="3.1"/><circle cx="167.46" cy="114.5" r="3.1"/><circle cx="169.39" cy="130.46" r="3.1"/><circle cx="159.96" cy="141.73" r="3.1"/><circle cx="175.2" cy="147.23" r="3.1"/><circle cx="162.99" cy="111.16" r="3.1"/><circle cx="173.91" cy="124.39" r="3.1"/><circle cx="173.28" cy="119.98" r="3.1"/><circle cx="164.48" cy="145.73" r="3.1"/><circle cx="162.83" cy="142.19" r="3.1"/><circle cx="160.43" cy="136.19" r="3.1"/><circle cx="163.32" cy="79.92" r="3.1"/><circle cx="179.36" cy="120.65" r="3.1"/><circle cx="174.8" cy="139.69" r="3.1"/><circle cx="167.79" cy="108.25" r="3.1"/><circle cx="163.23" cy="94.49" r="3.1"/><circle cx="161.03" cy="120.03" r="3.1"/><circle cx="162.08" cy="140.57" r="3.1"/><circle cx="178.65" cy="113.3" r="3.1"/><circle cx="166.97" cy="140.85" r="3.1"/><circle cx="161.81" cy="139.22" r="3.1"/><circle cx="162.27" cy="89.01" r="3.1"/><circle cx="167.91" cy="139.7" r="3.1"/><circle cx="163.9" cy="108.07" r="3.1"/><circle cx="172.03" cy="98.33" r="3.1"/><circle cx="162.57" cy="109.96" r="3.1"/><circle cx="162.84" cy="146.26" r="3.1"/><circle cx="163.66" cy="108.56" r="3.1"/><circle cx="169.14" cy="138.07" r="3.1"/><circle cx="160.76" cy="93.46" r="3.1"/><circle cx="162.95" cy="93.87" r="3.1"/><circle cx="168.36" cy="119.86" r="3.1"/><circle cx="168.68" cy="111.77" r="3.1"/><circle cx="162.28" cy="112.1" r="3.1"/><circle cx="161.84" cy="83.99" r="3.1"/><circle cx="165.67" cy="126.01" r="3.1"/><circle cx="170.57" cy="133.21" r="3.1"/><circle cx="177.41" cy="112.54" r="3.1"/><circle cx="175.33" cy="138.95" r="3.1"/><circle cx="161.89" cy="87.79" r="3.1"/><circle cx="170.96" cy="126.69" r="3.1"/><circle cx="166.66" cy="128.4" r="3.1"/><circle cx="163.35" cy="101.27" r="3.1"/><circle cx="183.84" cy="126.49" r="3.1"/><circle cx="162.18" cy="137.07" r="3.1"/><circle cx="162.55" cy="82.33" r="3.1"/><circle cx="173.02" cy="133.3" r="3.1"/><circle cx="183.17" cy="147.63" r="3.1"/><circle cx="164.87" cy="82.12" r="3.1"/><circle cx="182.12" cy="124.03" r="3.1"/><circle cx="169.5" cy="134.98" r="3.1"/><circle cx="170.06" cy="121.64" r="3.1"/><circle cx="160.29" cy="132.64" r="3.1"/><circle cx="164.68" cy="98.93" r="3.1"/><circle cx="161.82" cy="109.54" r="3.1"/><circle cx="162.3" cy="103.46" r="3.1"/><circle cx="162.29" cy="93.43" r="3.1"/><circle cx="174.92" cy="143.76" r="3.1"/><circle cx="162.56" cy="124.03" r="3.1"/><circle cx="161.69" cy="121.89" r="3.1"/><circle cx="173.47" cy="127.27" r="3.1"/><circle cx="175.06" cy="131.7" r="3.1"/><circle cx="163" cy="131.82" r="3.1"/><circle cx="177" cy="145.31" r="3.1"/><circle cx="167.48" cy="125.4" r="3.1"/><circle cx="165.08" cy="126.26" r="3.1"/><circle cx="166.5" cy="144.98" r="3.1"/><circle cx="171.16" cy="112.69" r="3.1"/><circle cx="164.3" cy="121.27" r="3.1"/><circle cx="161.78" cy="111.68" r="3.1"/><circle cx="161.72" cy="89.4" r="3.1"/><circle cx="169.57" cy="143.3" r="3.1"/><circle cx="164.98" cy="135.05" r="3.1"/><circle cx="164.97" cy="122.19" r="3.1"/><circle cx="178.56" cy="138.24" r="3.1"/><circle cx="162.7" cy="84.36" r="3.1"/><circle cx="161.73" cy="121.84" r="3.1"/><circle cx="163.22" cy="127.02" r="3.1"/><circle cx="167.57" cy="93.92" r="3.1"/><circle cx="165.7" cy="82.91" r="3.1"/><circle cx="170.61" cy="113.52" r="3.1"/><circle cx="173.09" cy="128.61" r="3.1"/><circle cx="177.1" cy="141.69" r="3.1"/><circle cx="166.87" cy="89.8" r="3.1"/><circle cx="160.69" cy="108.55" r="3.1"/><circle cx="166.26" cy="113.11" r="3.1"/><circle cx="161.76" cy="139" r="3.1"/><circle cx="172.47" cy="138.19" r="3.1"/><circle cx="163.02" cy="96.89" r="3.1"/><circle cx="164.72" cy="83.54" r="3.1"/><circle cx="165.41" cy="82.13" r="3.1"/><circle cx="173.73" cy="131.33" r="3.1"/><circle cx="167.63" cy="91.34" r="3.1"/><circle cx="163.26" cy="84.4" r="3.1"/><circle cx="163.88" cy="130.81" r="3.1"/><circle cx="172.27" cy="112.18" r="3.1"/><circle cx="171.95" cy="115.35" r="3.1"/><circle cx="161.54" cy="82.86" r="3.1"/><circle cx="166.3" cy="139.22" r="3.1"/><circle cx="162.78" cy="133.88" r="3.1"/><circle cx="164.13" cy="105.19" r="3.1"/><circle cx="176.23" cy="147.51" r="3.1"/><circle cx="164.9" cy="138.46" r="3.1"/><circle cx="160.63" cy="105.7" r="3.1"/><circle cx="164.79" cy="118.18" r="3.1"/><circle cx="167.76" cy="115.03" r="3.1"/><circle cx="163.67" cy="120.82" r="3.1"/><circle cx="161.81" cy="101.74" r="3.1"/><circle cx="166" cy="142.77" r="3.1"/><circle cx="178.2" cy="118.4" r="3.1"/><circle cx="165.97" cy="133.75" r="3.1"/><circle cx="168.81" cy="97.91" r="3.1"/><circle cx="174.46" cy="144.65" r="3.1"/><circle cx="161.62" cy="118.86" r="3.1"/><circle cx="168.61" cy="118.43" r="3.1"/><circle cx="164.52" cy="113.22" r="3.1"/><circle cx="164.55" cy="120.57" r="3.1"/><circle cx="174.88" cy="142.57" r="3.1"/><circle cx="170.25" cy="131" r="3.1"/><circle cx="167.24" cy="98.5" r="3.1"/><circle cx="173.72" cy="106.21" r="3.1"/><circle cx="162.3" cy="123.63" r="3.1"/><circle cx="161.65" cy="113.54" r="3.1"/><circle cx="162.84" cy="131.53" r="3.1"/><circle cx="179.53" cy="115.66" r="3.1"/><circle cx="169.18" cy="122.18" r="3.1"/><circle cx="166.42" cy="111.71" r="3.1"/><circle cx="181.12" cy="144.76" r="3.1"/><circle cx="162.91" cy="142.2" r="3.1"/><circle cx="180.36" cy="145.54" r="3.1"/><circle cx="176.67" cy="135.91" r="3.1"/><circle cx="171.53" cy="134.47" r="3.1"/><circle cx="164.66" cy="115.54" r="3.1"/><circle cx="161.77" cy="95.62" r="3.1"/><circle cx="166.72" cy="123.2" r="3.1"/><circle cx="167.15" cy="118.11" r="3.1"/><circle cx="173.32" cy="132.41" r="3.1"/><circle cx="164.3" cy="135.53" r="3.1"/><circle cx="169.22" cy="144.27" r="3.1"/><circle cx="176.5" cy="140.66" r="3.1"/><circle cx="168.19" cy="135.64" r="3.1"/><circle cx="168.42" cy="106.22" r="3.1"/><circle cx="167.82" cy="127.49" r="3.1"/><circle cx="171.34" cy="106.02" r="3.1"/><circle cx="168.99" cy="146.13" r="3.1"/><circle cx="161.43" cy="125.31" r="3.1"/><circle cx="163.94" cy="137.41" r="3.1"/><circle cx="160.09" cy="119.59" r="3.1"/><circle cx="171.57" cy="104.93" r="3.1"/><circle cx="171.52" cy="147.57" r="3.1"/><circle cx="164.15" cy="96.53" r="3.1"/><circle cx="170.92" cy="101.35" r="3.1"/><circle cx="167.45" cy="83.93" r="3.1"/><circle cx="163.33" cy="126.77" r="3.1"/><circle cx="163.16" cy="111.31" r="3.1"/><circle cx="166.38" cy="80.02" r="3.1"/><circle cx="169.38" cy="97.41" r="3.1"/><circle cx="170.73" cy="133.15" r="3.1"/><circle cx="161.46" cy="141.49" r="3.1"/><circle cx="167.88" cy="144.01" r="3.1"/><circle cx="164.96" cy="121.19" r="3.1"/><circle cx="164.69" cy="124.24" r="3.1"/><circle cx="160.37" cy="119.38" r="3.1"/><circle cx="170.75" cy="146.2" r="3.1"/><circle cx="162.29" cy="96.06" r="3.1"/><circle cx="164.28" cy="130.18" r="3.1"/><circle cx="165.96" cy="127.75" r="3.1"/><circle cx="169.56" cy="146.53" r="3.1"/><circle cx="165.46" cy="83.35" r="3.1"/><circle cx="166.01" cy="146.89" r="3.1"/><circle cx="173.76" cy="129.09" r="3.1"/><circle cx="179.35" cy="125.67" r="3.1"/><circle cx="169.68" cy="113.12" r="3.1"/><circle cx="168.6" cy="140.97" r="3.1"/><circle cx="162.73" cy="131.16" r="3.1"/><circle cx="167.33" cy="109.15" r="3.1"/><circle cx="169.23" cy="93.41" r="3.1"/><circle cx="175.09" cy="146.65" r="3.1"/><circle cx="171.04" cy="132.8" r="3.1"/><circle cx="173.94" cy="135.26" r="3.1"/><circle cx="161.51" cy="101.25" r="3.1"/><circle cx="162.53" cy="88.17" r="3.1"/><circle cx="171.32" cy="143.07" r="3.1"/><circle cx="174.4" cy="141.26" r="3.1"/><circle cx="166.75" cy="94.25" r="3.1"/><circle cx="160.09" cy="121.06" r="3.1"/><circle cx="161.8" cy="126.48" r="3.1"/><circle cx="167.35" cy="113.01" r="3.1"/><circle cx="164.14" cy="147.05" r="3.1"/><circle cx="171.45" cy="134.67" r="3.1"/><circle cx="182.95" cy="130.35" r="3.1"/><circle cx="164.35" cy="87.49" r="3.1"/><circle cx="163.87" cy="102.7" r="3.1"/><circle cx="160.88" cy="101.76" r="3.1"/><circle cx="162.73" cy="118.78" r="3.1"/><circle cx="174.68" cy="145.52" r="3.1"/><circle cx="170.15" cy="29.58" r="3.1"/><circle cx="175.82" cy="69.56" r="3.1"/><circle cx="164.02" cy="71.99" r="3.1"/><circle cx="175.36" cy="77.61" r="3.1"/><circle cx="161.36" cy="76.55" r="3.1"/><circle cx="178.57" cy="84.61" r="3.1"/><circle cx="174.27" cy="87.19" r="3.1"/><circle cx="165.94" cy="82.63" r="3.1"/><circle cx="180.03" cy="93.57" r="3.1"/><circle cx="176.55" cy="96.61" r="3.1"/><circle cx="187.17" cy="101.63" r="3.1"/><circle cx="192.84" cy="101.33" r="3.1"/><circle cx="206.2" cy="116.07" r="3.1"/><circle cx="216.45" cy="117.29" r="3.1"/><circle cx="229.71" cy="116.53" r="3.1"/><circle cx="195.59" cy="122.15" r="3.1"/><circle cx="201.07" cy="125.49" r="3.1"/><circle cx="204.74" cy="126.71" r="3.1"/><circle cx="212.06" cy="129.75" r="3.1"/><circle cx="218.46" cy="130.81" r="3.1"/><circle cx="200.16" cy="133.09" r="3.1"/><circle cx="202.91" cy="134.61" r="3.1"/><circle cx="197.87" cy="137.65" r="3.1"/><circle cx="202.36" cy="141.91" r="3.1"/><circle cx="198.33" cy="143.89" r="3.1"/><circle cx="189.73" cy="141.15" r="3.1"/><circle cx="191.74" cy="133.55" r="3.1"/><circle cx="189.18" cy="128.99" r="3.1"/><circle cx="182.78" cy="109.99" r="3.1"/><circle cx="178.84" cy="108.47" r="3.1"/><circle cx="187.35" cy="120.63" r="3.1"/><circle cx="190.09" cy="117.59" r="3.1"/><circle cx="186.44" cy="113.03" r="3.1"/><circle cx="188.26" cy="137.35" r="3.1"/><circle cx="187.35" cy="144.95" r="3.1"/></g>
<g fill="#7f7f7f" fill-opacity="0.88" stroke="#707070" stroke-opacity="0.4" stroke-width="0.3"><circle cx="142.37" cy="148.01" r="1.75"/><circle cx="152.19" cy="140.92" r="1.75"/><circle cx="153.81" cy="148.54" r="1.75"/><circle cx="146.13" cy="114.99" r="1.75"/><circle cx="147.82" cy="124.37" r="1.75"/><circle cx="149.42" cy="132.99" r="1.75"/><circle cx="144.46" cy="128.64" r="1.75"/><circle cx="159.78" cy="137.22" r="1.75"/><circle cx="152.89" cy="143.22" r="1.75"/><circle cx="157.92" cy="134.92" r="1.75"/><circle cx="153.65" cy="105.47" r="1.75"/><circle cx="150.76" cy="130.07" r="1.75"/><circle cx="145.24" cy="109.92" r="1.75"/><circle cx="143" cy="125.41" r="1.75"/><circle cx="142.91" cy="112.44" r="1.75"/><circle cx="146.58" cy="104.2" r="1.75"/><circle cx="153.47" cy="137.41" r="1.75"/><circle cx="143.03" cy="116.42" r="1.75"/><circle cx="155.71" cy="113.79" r="1.75"/><circle cx="154.99" cy="143.24" r="1.75"/><circle cx="144.92" cy="131.85" r="1.75"/><circle cx="144.3" cy="128.08" r="1.75"/><circle cx="144.39" cy="114.02" r="1.75"/><circle cx="144.26" cy="116.37" r="1.75"/><circle cx="148.21" cy="129.32" r="1.75"/><circle cx="145.79" cy="115.85" r="1.75"/><circle cx="147.51" cy="106.35" r="1.75"/><circle cx="154.95" cy="139.98" r="1.75"/><circle cx="155.16" cy="125.3" r="1.75"/><circle cx="145.78" cy="134.54" r="1.75"/><circle cx="148.17" cy="142.67" r="1.75"/><circle cx="155.78" cy="132.97" r="1.75"/><circle cx="157" cy="111.47" r="1.75"/><circle cx="159.65" cy="130.86" r="1.75"/><circle cx="151.7" cy="136.96" r="1.75"/><circle cx="147.54" cy="140.93" r="1.75"/><circle cx="151.82" cy="146.75" r="1.75"/><circle cx="152.54" cy="121.91" r="1.75"/><circle cx="153.06" cy="137.11" r="1.75"/><circle cx="146.2" cy="113.03" r="1.75"/><circle cx="143.54" cy="139.51" r="1.75"/><circle cx="146.85" cy="121.13" r="1.75"/><circle cx="147.42" cy="108.06" r="1.75"/><circle cx="146.97" cy="121.58" r="1.75"/><circle cx="156.71" cy="121.63" r="1.75"/><circle cx="154.48" cy="135.63" r="1.75"/><circle cx="145.37" cy="131.08" r="1.75"/><circle cx="147.06" cy="112.06" r="1.75"/><circle cx="142.32" cy="112.97" r="1.75"/><circle cx="143.45" cy="123.07" r="1.75"/><circle cx="141.73" cy="126.17" r="1.75"/><circle cx="157.75" cy="148.67" r="1.75"/><circle cx="155.11" cy="123.52" r="1.75"/><circle cx="146.03" cy="133.78" r="1.75"/><circle cx="158.32" cy="147.72" r="1.75"/><circle cx="154.94" cy="120.99" r="1.75"/><circle cx="146.91" cy="139.47" r="1.75"/><circle cx="143.73" cy="131.07" r="1.75"/><circle cx="155.87" cy="146.64" r="1.75"/><circle cx="156.16" cy="146.35" r="1.75"/><circle cx="149.64" cy="124.29" r="1.75"/><circle cx="153.08" cy="105.66" r="1.75"/><circle cx="146.44" cy="140.34" r="1.75"/><circle cx="146.42" cy="142.09" r="1.75"/><circle cx="154.29" cy="111.37" r="1.75"/><circle cx="150.08" cy="133.34" r="1.75"/><circle cx="141.71" cy="129.53" r="1.75"/><circle cx="148.33" cy="145.6" r="1.75"/><circle cx="152.42" cy="131.98" r="1.75"/><circle cx="152.24" cy="130.57" r="1.75"/><circle cx="154.33" cy="104.55" r="1.75"/><circle cx="156.54" cy="128.99" r="1.75"/><circle cx="146.25" cy="136.95" r="1.75"/><circle cx="143.49" cy="134.61" r="1.75"/><circle cx="153.97" cy="133.84" r="1.75"/><circle cx="149.29" cy="136.99" r="1.75"/><circle cx="145.56" cy="114.8" r="1.75"/><circle cx="151.26" cy="122.18" r="1.75"/><circle cx="154.22" cy="123.79" r="1.75"/><circle cx="145.06" cy="119.36" r="1.75"/><circle cx="156.23" cy="147.67" r="1.75"/><circle cx="145.6" cy="122.04" r="1.75"/><circle cx="148.65" cy="126.89" r="1.75"/><circle cx="142.87" cy="136.67" r="1.75"/><circle cx="157.43" cy="97.09" r="1.75"/><circle cx="148.69" cy="148.52" r="1.75"/><circle cx="158.2" cy="142.81" r="1.75"/><circle cx="150.72" cy="134.42" r="1.75"/><circle cx="142.65" cy="127.04" r="1.75"/><circle cx="141.49" cy="119.94" r="1.75"/><circle cx="149.57" cy="126.05" r="1.75"/><circle cx="143.84" cy="136.39" r="1.75"/><circle cx="146.57" cy="116.4" r="1.75"/><circle cx="146.99" cy="135.07" r="1.75"/><circle cx="155.14" cy="139.21" r="1.75"/><circle cx="145.81" cy="132.52" r="1.75"/><circle cx="148.73" cy="126.34" r="1.75"/><circle cx="158.14" cy="134.06" r="1.75"/><circle cx="147.17" cy="124.16" r="1.75"/><circle cx="158.08" cy="126.25" r="1.75"/><circle cx="141.91" cy="106.07" r="1.75"/><circle cx="150.15" cy="138.04" r="1.75"/><circle cx="150.56" cy="121.05" r="1.75"/><circle cx="157.43" cy="105.48" r="1.75"/><circle cx="154.16" cy="118.19" r="1.75"/><circle cx="157.62" cy="131.98" r="1.75"/><circle cx="157.93" cy="136.59" r="1.75"/><circle cx="145.69" cy="144.07" r="1.75"/><circle cx="156.26" cy="124.43" r="1.75"/><circle cx="146.71" cy="141.88" r="1.75"/><circle cx="157.69" cy="135.39" r="1.75"/><circle cx="143.02" cy="122.65" r="1.75"/><circle cx="146.24" cy="123.2" r="1.75"/><circle cx="143" cy="145.24" r="1.75"/><circle cx="159.85" cy="100.55" r="1.75"/><circle cx="143.58" cy="129.65" r="1.75"/><circle cx="155.73" cy="133.74" r="1.75"/><circle cx="156.71" cy="129.34" r="1.75"/><circle cx="143.95" cy="124.02" r="1.75"/><circle cx="142.84" cy="122.73" r="1.75"/><circle cx="158.07" cy="139.98" r="1.75"/><circle cx="147.45" cy="109.22" r="1.75"/><circle cx="156.81" cy="96.82" r="1.75"/><circle cx="146.57" cy="141.87" r="1.75"/><circle cx="143.64" cy="100.65" r="1.75"/><circle cx="145" cy="100.27" r="1.75"/><circle cx="159.59" cy="125.6" r="1.75"/><circle cx="156.5" cy="131.67" r="1.75"/><circle cx="141.78" cy="147.34" r="1.75"/><circle cx="154.19" cy="114.49" r="1.75"/><circle cx="152.56" cy="141.35" r="1.75"/><circle cx="147.94" cy="115.37" r="1.75"/><circle cx="149.06" cy="132.76" r="1.75"/><circle cx="159.02" cy="146.59" r="1.75"/><circle cx="145.85" cy="128.56" r="1.75"/><circle cx="142.91" cy="147.42" r="1.75"/><circle cx="153.54" cy="144.63" r="1.75"/><circle cx="156.4" cy="132.73" r="1.75"/><circle cx="159.19" cy="142.27" r="1.75"/><circle cx="150.11" cy="130.17" r="1.75"/><circle cx="143.03" cy="109.18" r="1.75"/><circle cx="152.07" cy="135.65" r="1.75"/><circle cx="148.49" cy="115.62" r="1.75"/><circle cx="159.3" cy="130.41" r="1.75"/><circle cx="143.95" cy="130.46" r="1.75"/><circle cx="144.85" cy="133.02" r="1.75"/><circle cx="157.43" cy="121.7" r="1.75"/><circle cx="142.35" cy="137.77" r="1.75"/><circle cx="142.36" cy="145.18" r="1.75"/><circle cx="146.83" cy="137.41" r="1.75"/><circle cx="152.79" cy="137.79" r="1.75"/><circle cx="145.77" cy="114.3" r="1.75"/><circle cx="155.88" cy="133.99" r="1.75"/><circle cx="145.37" cy="149.14" r="1.75"/><circle cx="149.98" cy="147.12" r="1.75"/><circle cx="153.2" cy="114.06" r="1.75"/><circle cx="149.45" cy="131.81" r="1.75"/><circle cx="147.3" cy="127.5" r="1.75"/><circle cx="158.68" cy="133.43" r="1.75"/><circle cx="142.65" cy="115.11" r="1.75"/><circle cx="146.32" cy="103.61" r="1.75"/><circle cx="157.78" cy="134.66" r="1.75"/><circle cx="146.79" cy="116.42" r="1.75"/><circle cx="154.04" cy="135.34" r="1.75"/><circle cx="154.73" cy="138.61" r="1.75"/><circle cx="159.08" cy="131.31" r="1.75"/><circle cx="143.33" cy="106.36" r="1.75"/><circle cx="156.98" cy="116.3" r="1.75"/><circle cx="148" cy="112.91" r="1.75"/><circle cx="148.45" cy="118.92" r="1.75"/><circle cx="158.76" cy="127.68" r="1.75"/><circle cx="157.14" cy="121.64" r="1.75"/><circle cx="155.66" cy="126.57" r="1.75"/><circle cx="148.49" cy="109.61" r="1.75"/><circle cx="154.62" cy="116.4" r="1.75"/><circle cx="156.83" cy="114.15" r="1.75"/><circle cx="156" cy="96.1" r="1.75"/><circle cx="141.71" cy="109.96" r="1.75"/><circle cx="157.71" cy="125.1" r="1.75"/><circle cx="146.01" cy="110.28" r="1.75"/><circle cx="157.51" cy="126.67" r="1.75"/><circle cx="151.41" cy="128.04" r="1.75"/><circle cx="157.25" cy="99.82" r="1.75"/><circle cx="145.92" cy="110.06" r="1.75"/><circle cx="157.41" cy="131.22" r="1.75"/><circle cx="156.67" cy="147.91" r="1.75"/><circle cx="145.84" cy="101.2" r="1.75"/><circle cx="157.06" cy="107.89" r="1.75"/><circle cx="156.09" cy="94.66" r="1.75"/><circle cx="148.05" cy="110.35" r="1.75"/><circle cx="155.93" cy="99.12" r="1.75"/><circle cx="143.68" cy="103.31" r="1.75"/><circle cx="146.59" cy="145.96" r="1.75"/><circle cx="146.05" cy="132.46" r="1.75"/><circle cx="142.36" cy="138.89" r="1.75"/><circle cx="143.14" cy="136.64" r="1.75"/><circle cx="157.25" cy="95.2" r="1.75"/><circle cx="143.77" cy="132.73" r="1.75"/><circle cx="149.02" cy="113.97" r="1.75"/><circle cx="146.96" cy="147.39" r="1.75"/><circle cx="152.89" cy="133.68" r="1.75"/><circle cx="150.08" cy="139.06" r="1.75"/><circle cx="154.66" cy="126.3" r="1.75"/><circle cx="144.03" cy="138.01" r="1.75"/><circle cx="149.43" cy="131.73" r="1.75"/><circle cx="157.81" cy="133.04" r="1.75"/><circle cx="152" cy="139.16" r="1.75"/><circle cx="146.72" cy="99.01" r="1.75"/><circle cx="159.92" cy="134.83" r="1.75"/><circle cx="142.68" cy="116.59" r="1.75"/><circle cx="152.73" cy="128.58" r="1.75"/><circle cx="145.49" cy="98.4" r="1.75"/><circle cx="153.54" cy="122.85" r="1.75"/><circle cx="148.08" cy="134.57" r="1.75"/><circle cx="159.78" cy="124.41" r="1.75"/><circle cx="147.94" cy="147.82" r="1.75"/><circle cx="142.31" cy="129.32" r="1.75"/><circle cx="144.05" cy="115.3" r="1.75"/><circle cx="142.1" cy="97.35" r="1.75"/><circle cx="143.94" cy="98.58" r="1.75"/><circle cx="156.94" cy="130.39" r="1.75"/><circle cx="147.22" cy="128.37" r="1.75"/><circle cx="158.36" cy="138.61" r="1.75"/><circle cx="144.02" cy="130.86" r="1.75"/><circle cx="144.72" cy="149.24" r="1.75"/><circle cx="158.84" cy="121.54" r="1.75"/><circle cx="152.47" cy="135.06" r="1.75"/><circle cx="158.98" cy="139.29" r="1.75"/><circle cx="158.04" cy="140.04" r="1.75"/><circle cx="153.44" cy="111.9" r="1.75"/><circle cx="147.55" cy="134.86" r="1.75"/><circle cx="147.89" cy="128.56" r="1.75"/><circle cx="159.6" cy="135.7" r="1.75"/><circle cx="158.07" cy="101.68" r="1.75"/><circle cx="154.12" cy="126.47" r="1.75"/><circle cx="156.58" cy="113.6" r="1.75"/><circle cx="159.46" cy="137.33" r="1.75"/><circle cx="156.8" cy="101.24" r="1.75"/><circle cx="142.76" cy="142.81" r="1.75"/><circle cx="144.64" cy="97.39" r="1.75"/><circle cx="159.59" cy="132.38" r="1.75"/><circle cx="158.69" cy="130.64" r="1.75"/><circle cx="153.22" cy="114.95" r="1.75"/><circle cx="154.41" cy="132.82" r="1.75"/><circle cx="154.92" cy="112.1" r="1.75"/><circle cx="158.44" cy="139.04" r="1.75"/><circle cx="158.99" cy="139.9" r="1.75"/><circle cx="146.51" cy="145.83" r="1.75"/><circle cx="154.46" cy="131.85" r="1.75"/><circle cx="141.46" cy="132.82" r="1.75"/><circle cx="148.34" cy="130.83" r="1.75"/><circle cx="145.34" cy="133.2" r="1.75"/><circle cx="147.78" cy="139.6" r="1.75"/><circle cx="158.24" cy="121.15" r="1.75"/><circle cx="155.06" cy="145.06" r="1.75"/><circle cx="147.43" cy="108.26" r="1.75"/><circle cx="148.02" cy="107.74" r="1.75"/><circle cx="147.78" cy="138.97" r="1.75"/><circle cx="141.73" cy="128.02" r="1.75"/><circle cx="159.24" cy="141.27" r="1.75"/><circle cx="143.56" cy="124.09" r="1.75"/><circle cx="158.19" cy="102.56" r="1.75"/><circle cx="157.04" cy="113.87" r="1.75"/><circle cx="144.4" cy="139.07" r="1.75"/><circle cx="155.84" cy="96" r="1.75"/><circle cx="146.79" cy="128.67" r="1.75"/><circle cx="149.57" cy="139.6" r="1.75"/><circle cx="158.15" cy="101.64" r="1.75"/><circle cx="148.7" cy="113.14" r="1.75"/><circle cx="145.95" cy="123.35" r="1.75"/><circle cx="141.48" cy="134.34" r="1.75"/><circle cx="154.02" cy="119.8" r="1.75"/><circle cx="146.36" cy="101.77" r="1.75"/><circle cx="142.72" cy="110.42" r="1.75"/><circle cx="144.86" cy="104.62" r="1.75"/><circle cx="145.62" cy="118.96" r="1.75"/><circle cx="153.02" cy="115.67" r="1.75"/><circle cx="143.93" cy="146.83" r="1.75"/><circle cx="153" cy="122.43" r="1.75"/><circle cx="159.55" cy="142.53" r="1.75"/><circle cx="149.25" cy="115.45" r="1.75"/><circle cx="152.62" cy="130.51" r="1.75"/><circle cx="147.56" cy="114.91" r="1.75"/><circle cx="151.94" cy="119.69" r="1.75"/><circle cx="151.99" cy="113.82" r="1.75"/><circle cx="154.27" cy="124.61" r="1.75"/><circle cx="158.63" cy="97.98" r="1.75"/><circle cx="143.33" cy="141.17" r="1.75"/><circle cx="141.71" cy="110.45" r="1.75"/><circle cx="156.79" cy="119.37" r="1.75"/><circle cx="157.46" cy="145.47" r="1.75"/><circle cx="157.48" cy="132.11" r="1.75"/><circle cx="146.16" cy="136.72" r="1.75"/><circle cx="149.34" cy="119.23" r="1.75"/><circle cx="159.52" cy="111.25" r="1.75"/><circle cx="143.87" cy="108.29" r="1.75"/><circle cx="157.68" cy="112.4" r="1.75"/><circle cx="157.29" cy="116.79" r="1.75"/><circle cx="157.56" cy="144.82" r="1.75"/><circle cx="148.43" cy="116.07" r="1.75"/><circle cx="141.62" cy="130.74" r="1.75"/><circle cx="155.81" cy="114.59" r="1.75"/><circle cx="156.18" cy="91.19" r="1.75"/><circle cx="160.01" cy="138.53" r="1.75"/><circle cx="156.78" cy="138.64" r="1.75"/><circle cx="150.99" cy="142.58" r="1.75"/><circle cx="148.02" cy="144.17" r="1.75"/><circle cx="149.84" cy="139.56" r="1.75"/><circle cx="149.07" cy="147.91" r="1.75"/><circle cx="149.05" cy="143.78" r="1.75"/><circle cx="146.18" cy="146.77" r="1.75"/><circle cx="144.57" cy="136.2" r="1.75"/><circle cx="144.37" cy="148.17" r="1.75"/><circle cx="146.93" cy="139.23" r="1.75"/><circle cx="156.08" cy="100.25" r="1.75"/><circle cx="156.4" cy="125.91" r="1.75"/><circle cx="149.39" cy="112.68" r="1.75"/><circle cx="142.18" cy="128.8" r="1.75"/><circle cx="145.88" cy="128.97" r="1.75"/><circle cx="145.13" cy="97.59" r="1.75"/><circle cx="146.81" cy="106.51" r="1.75"/><circle cx="156.26" cy="122.98" r="1.75"/><circle cx="150.27" cy="138.86" r="1.75"/><circle cx="141.77" cy="124.53" r="1.75"/><circle cx="154.59" cy="134.3" r="1.75"/><circle cx="145.88" cy="136.56" r="1.75"/><circle cx="146.58" cy="94.37" r="1.75"/><circle cx="144.42" cy="129.61" r="1.75"/><circle cx="142.28" cy="135.7" r="1.75"/><circle cx="154.52" cy="126.23" r="1.75"/><circle cx="153.28" cy="144.99" r="1.75"/><circle cx="143.86" cy="147.98" r="1.75"/><circle cx="144.54" cy="113.24" r="1.75"/><circle cx="159.72" cy="148.48" r="1.75"/><circle cx="157.17" cy="131.05" r="1.75"/><circle cx="142.11" cy="145.71" r="1.75"/><circle cx="152.51" cy="136.93" r="1.75"/><circle cx="156.26" cy="104.63" r="1.75"/><circle cx="145.15" cy="102.85" r="1.75"/><circle cx="159.78" cy="127.25" r="1.75"/><circle cx="147.37" cy="145.15" r="1.75"/><circle cx="159.33" cy="119.03" r="1.75"/><circle cx="143.05" cy="127.25" r="1.75"/><circle cx="158.39" cy="105.23" r="1.75"/><circle cx="152.99" cy="106.95" r="1.75"/><circle cx="143.19" cy="104.12" r="1.75"/><circle cx="153.15" cy="138.92" r="1.75"/><circle cx="143.32" cy="135.15" r="1.75"/><circle cx="152.41" cy="128.59" r="1.75"/><circle cx="153.5" cy="142.15" r="1.75"/><circle cx="156.55" cy="98.96" r="1.75"/><circle cx="142.59" cy="123.51" r="1.75"/><circle cx="155.05" cy="136.21" r="1.75"/><circle cx="153.88" cy="131.43" r="1.75"/><circle cx="144.72" cy="124.29" r="1.75"/><circle cx="146.74" cy="95.06" r="1.75"/><circle cx="159.19" cy="98.11" r="1.75"/><circle cx="154.37" cy="101.22" r="1.75"/><circle cx="157.72" cy="128.32" r="1.75"/><circle cx="146.03" cy="92.06" r="1.75"/><circle cx="149.67" cy="124.51" r="1.75"/><circle cx="159.62" cy="107.64" r="1.75"/><circle cx="153.22" cy="117.48" r="1.75"/><circle cx="156.39" cy="116.8" r="1.75"/><circle cx="142.69" cy="149.43" r="1.75"/><circle cx="149.55" cy="126.61" r="1.75"/><circle cx="160.03" cy="141.12" r="1.75"/><circle cx="155.84" cy="149.23" r="1.75"/><circle cx="147.63" cy="133.81" r="1.75"/><circle cx="149.24" cy="118.6" r="1.75"/><circle cx="155.13" cy="97.98" r="1.75"/><circle cx="153.91" cy="133.51" r="1.75"/><circle cx="149.6" cy="134.86" r="1.75"/><circle cx="145.69" cy="115.93" r="1.75"/><circle cx="151.56" cy="123.85" r="1.75"/><circle cx="142.63" cy="113.51" r="1.75"/><circle cx="143.93" cy="124.41" r="1.75"/><circle cx="144.02" cy="140.84" r="1.75"/><circle cx="142.71" cy="116.7" r="1.75"/><circle cx="155.72" cy="107.74" r="1.75"/><circle cx="149.48" cy="134.34" r="1.75"/><circle cx="144.25" cy="141.08" r="1.75"/><circle cx="157.85" cy="143.42" r="1.75"/><circle cx="142.65" cy="128.39" r="1.75"/><circle cx="158.97" cy="120.38" r="1.75"/><circle cx="145.27" cy="140.51" r="1.75"/><circle cx="143.56" cy="139.95" r="1.75"/><circle cx="147.65" cy="102.21" r="1.75"/><circle cx="149.8" cy="146.74" r="1.75"/><circle cx="144.97" cy="105.99" r="1.75"/><circle cx="157.26" cy="114.1" r="1.75"/><circle cx="158.2" cy="100.17" r="1.75"/><circle cx="153.54" cy="149.23" r="1.75"/><circle cx="142.56" cy="107.89" r="1.75"/><circle cx="159.51" cy="120.14" r="1.75"/><circle cx="158.89" cy="139.82" r="1.75"/><circle cx="145.38" cy="118.31" r="1.75"/><circle cx="147.28" cy="129.72" r="1.75"/><circle cx="142.14" cy="102.72" r="1.75"/><circle cx="152.12" cy="126.63" r="1.75"/><circle cx="152.25" cy="119.66" r="1.75"/><circle cx="157.78" cy="95.66" r="1.75"/><circle cx="147.56" cy="119.18" r="1.75"/><circle cx="154.95" cy="109.24" r="1.75"/><circle cx="142.99" cy="141.5" r="1.75"/><circle cx="155.08" cy="144.92" r="1.75"/><circle cx="147.48" cy="128.35" r="1.75"/><circle cx="143.24" cy="136.8" r="1.75"/><circle cx="144.18" cy="147.91" r="1.75"/><circle cx="155.39" cy="108.29" r="1.75"/><circle cx="150.15" cy="137.83" r="1.75"/><circle cx="156.39" cy="109.11" r="1.75"/><circle cx="146.79" cy="138.83" r="1.75"/><circle cx="143.65" cy="131.95" r="1.75"/><circle cx="144.08" cy="103.9" r="1.75"/><circle cx="151.97" cy="129.86" r="1.75"/><circle cx="152.47" cy="140.81" r="1.75"/><circle cx="146.82" cy="121.15" r="1.75"/><circle cx="150.56" cy="130.35" r="1.75"/><circle cx="146.69" cy="123.94" r="1.75"/><circle cx="145.69" cy="124.12" r="1.75"/><circle cx="151.43" cy="126.54" r="1.75"/><circle cx="155.33" cy="132.98" r="1.75"/><circle cx="153.09" cy="123.87" r="1.75"/><circle cx="141.6" cy="115.76" r="1.75"/><circle cx="156.14" cy="96.28" r="1.75"/><circle cx="143.59" cy="139.78" r="1.75"/><circle cx="144.31" cy="142.93" r="1.75"/><circle cx="152.38" cy="137.67" r="1.75"/><circle cx="152.93" cy="136.79" r="1.75"/><circle cx="153.49" cy="102.97" r="1.75"/><circle cx="146.04" cy="134.56" r="1.75"/><circle cx="148.39" cy="118.19" r="1.75"/><circle cx="148.01" cy="148.97" r="1.75"/><circle cx="146.19" cy="116.15" r="1.75"/><circle cx="148.52" cy="119.57" r="1.75"/><circle cx="143.51" cy="131.55" r="1.75"/><circle cx="158.95" cy="133.62" r="1.75"/><circle cx="141.71" cy="104.72" r="1.75"/><circle cx="149.37" cy="123.79" r="1.75"/><circle cx="158.98" cy="127.56" r="1.75"/><circle cx="143.48" cy="102.82" r="1.75"/><circle cx="142.51" cy="137.34" r="1.75"/><circle cx="149.72" cy="140.28" r="1.75"/><circle cx="148.47" cy="115.06" r="1.75"/><circle cx="154.85" cy="126.75" r="1.75"/><circle cx="141.58" cy="134.57" r="1.75"/><circle cx="153.87" cy="118.99" r="1.75"/><circle cx="155.7" cy="145.08" r="1.75"/><circle cx="149.82" cy="124.43" r="1.75"/><circle cx="145.56" cy="99.71" r="1.75"/><circle cx="150.25" cy="145.78" r="1.75"/><circle cx="156.87" cy="138.19" r="1.75"/><circle cx="144.41" cy="102.45" r="1.75"/><circle cx="152.96" cy="147.09" r="1.75"/><circle cx="158.39" cy="117.06" r="1.75"/><circle cx="158.83" cy="108.38" r="1.75"/><circle cx="144.31" cy="149.35" r="1.75"/><circle cx="141.93" cy="125.53" r="1.75"/><circle cx="157.49" cy="124.04" r="1.75"/><circle cx="141.86" cy="112.69" r="1.75"/><circle cx="151.39" cy="137.8" r="1.75"/><circle cx="151.43" cy="147.2" r="1.75"/><circle cx="154.99" cy="136.87" r="1.75"/><circle cx="145.34" cy="122.54" r="1.75"/><circle cx="155.44" cy="93.97" r="1.75"/><circle cx="141.52" cy="116.78" r="1.75"/><circle cx="157.73" cy="139.24" r="1.75"/><circle cx="141.9" cy="132.62" r="1.75"/><circle cx="157.32" cy="112.17" r="1.75"/><circle cx="142.95" cy="130.28" r="1.75"/><circle cx="145.25" cy="92.55" r="1.75"/><circle cx="144.59" cy="109.07" r="1.75"/><circle cx="155.69" cy="105.13" r="1.75"/><circle cx="142.9" cy="127.55" r="1.75"/><circle cx="144.88" cy="126.73" r="1.75"/><circle cx="151.04" cy="138.69" r="1.75"/><circle cx="156.25" cy="108.21" r="1.75"/><circle cx="144.73" cy="106.86" r="1.75"/><circle cx="152.03" cy="120.16" r="1.75"/><circle cx="155.04" cy="112.8" r="1.75"/><circle cx="153.23" cy="141.31" r="1.75"/><circle cx="149.93" cy="130.02" r="1.75"/><circle cx="147.66" cy="121.88" r="1.75"/><circle cx="141.67" cy="134.99" r="1.75"/><circle cx="142.49" cy="140.12" r="1.75"/><circle cx="154" cy="140.88" r="1.75"/><circle cx="157.16" cy="120.07" r="1.75"/><circle cx="154.84" cy="107.82" r="1.75"/><circle cx="146.05" cy="118.45" r="1.75"/><circle cx="143.74" cy="142.73" r="1.75"/><circle cx="154.64" cy="134.32" r="1.75"/><circle cx="155.84" cy="125.35" r="1.75"/><circle cx="159.07" cy="115.59" r="1.75"/><circle cx="152.81" cy="146.94" r="1.75"/><circle cx="156.14" cy="108.93" r="1.75"/><circle cx="147.21" cy="119.87" r="1.75"/><circle cx="144.88" cy="143.84" r="1.75"/><circle cx="144.48" cy="122.15" r="1.75"/><circle cx="155.68" cy="101.01" r="1.75"/><circle cx="153.67" cy="120.32" r="1.75"/><circle cx="156.66" cy="145.36" r="1.75"/><circle cx="143.11" cy="110.74" r="1.75"/><circle cx="154.47" cy="142.07" r="1.75"/><circle cx="145.06" cy="108.34" r="1.75"/><circle cx="155.17" cy="127.3" r="1.75"/><circle cx="141.98" cy="114.38" r="1.75"/><circle cx="145.73" cy="147.45" r="1.75"/><circle cx="154.61" cy="148.75" r="1.75"/><circle cx="156.32" cy="146.23" r="1.75"/><circle cx="149.46" cy="125.23" r="1.75"/><circle cx="148.65" cy="142.01" r="1.75"/><circle cx="148.06" cy="120.24" r="1.75"/><circle cx="143.51" cy="137.9" r="1.75"/><circle cx="154.88" cy="104.87" r="1.75"/><circle cx="153.99" cy="148.98" r="1.75"/><circle cx="147.7" cy="133.54" r="1.75"/><circle cx="148.87" cy="128.34" r="1.75"/><circle cx="146.51" cy="121.45" r="1.75"/><circle cx="142.37" cy="146.37" r="1.75"/><circle cx="144.47" cy="101.46" r="1.75"/><circle cx="155.08" cy="114.83" r="1.75"/><circle cx="156.1" cy="138.93" r="1.75"/><circle cx="155.45" cy="117.85" r="1.75"/><circle cx="152.77" cy="140.79" r="1.75"/><circle cx="144.69" cy="116.16" r="1.75"/><circle cx="154.62" cy="136.52" r="1.75"/><circle cx="144.14" cy="108.76" r="1.75"/><circle cx="146.51" cy="135.49" r="1.75"/><circle cx="145.44" cy="104.9" r="1.75"/><circle cx="157.51" cy="112.9" r="1.75"/><circle cx="159.08" cy="122.91" r="1.75"/><circle cx="144.78" cy="121.85" r="1.75"/><circle cx="145.99" cy="119.35" r="1.75"/><circle cx="143.44" cy="119.53" r="1.75"/><circle cx="145.09" cy="109.5" r="1.75"/><circle cx="152.07" cy="113.88" r="1.75"/><circle cx="146.32" cy="134.41" r="1.75"/><circle cx="155.61" cy="100.02" r="1.75"/><circle cx="155.44" cy="130.91" r="1.75"/><circle cx="155.56" cy="96.64" r="1.75"/><circle cx="152.8" cy="134.33" r="1.75"/><circle cx="155.62" cy="102.13" r="1.75"/><circle cx="146.22" cy="141.61" r="1.75"/><circle cx="143.52" cy="100.01" r="1.75"/><circle cx="155.83" cy="127.34" r="1.75"/><circle cx="145.63" cy="139.69" r="1.75"/><circle cx="155.86" cy="127.73" r="1.75"/><circle cx="153.77" cy="131.11" r="1.75"/><circle cx="151.98" cy="130.63" r="1.75"/><circle cx="158.38" cy="141.87" r="1.75"/><circle cx="157.18" cy="121.66" r="1.75"/><circle cx="157.51" cy="144.6" r="1.75"/><circle cx="146.75" cy="116.67" r="1.75"/><circle cx="156.3" cy="143.33" r="1.75"/><circle cx="145.2" cy="136.22" r="1.75"/><circle cx="151.02" cy="134.23" r="1.75"/><circle cx="145.46" cy="107.44" r="1.75"/><circle cx="151.08" cy="124.92" r="1.75"/><circle cx="145.74" cy="122.38" r="1.75"/><circle cx="153.34" cy="142.96" r="1.75"/><circle cx="150.13" cy="148.64" r="1.75"/><circle cx="158.52" cy="143.18" r="1.75"/><circle cx="147.25" cy="136.31" r="1.75"/><circle cx="142.42" cy="106.62" r="1.75"/><circle cx="154.48" cy="98.7" r="1.75"/><circle cx="147.83" cy="140.78" r="1.75"/><circle cx="154.01" cy="100.82" r="1.75"/><circle cx="143.18" cy="105.32" r="1.75"/><circle cx="153.22" cy="114.93" r="1.75"/><circle cx="159.68" cy="111.23" r="1.75"/><circle cx="153.76" cy="136.63" r="1.75"/><circle cx="153.49" cy="135.74" r="1.75"/><circle cx="144.1" cy="122.54" r="1.75"/><circle cx="148.58" cy="124.87" r="1.75"/><circle cx="142.96" cy="142.05" r="1.75"/><circle cx="143.85" cy="111.41" r="1.75"/><circle cx="151.93" cy="144.51" r="1.75"/><circle cx="154.43" cy="112.4" r="1.75"/><circle cx="152.76" cy="148.91" r="1.75"/><circle cx="156.57" cy="136.77" r="1.75"/><circle cx="154.86" cy="139.76" r="1.75"/><circle cx="150.48" cy="137.39" r="1.75"/><circle cx="152.39" cy="145.52" r="1.75"/><circle cx="158.6" cy="116.75" r="1.75"/><circle cx="153.44" cy="121.22" r="1.75"/><circle cx="150.56" cy="147.88" r="1.75"/><circle cx="144.41" cy="120.15" r="1.75"/><circle cx="154.48" cy="134.18" r="1.75"/><circle cx="146.49" cy="141.36" r="1.75"/><circle cx="146.63" cy="124.58" r="1.75"/><circle cx="148.51" cy="130.49" r="1.75"/><circle cx="154.65" cy="138.68" r="1.75"/><circle cx="147.9" cy="143.68" r="1.75"/><circle cx="158.23" cy="146.9" r="1.75"/><circle cx="157.54" cy="144.56" r="1.75"/><circle cx="146.43" cy="97.42" r="1.75"/><circle cx="159.07" cy="142.04" r="1.75"/><circle cx="155.85" cy="114.7" r="1.75"/><circle cx="149.58" cy="133.76" r="1.75"/><circle cx="159.37" cy="134.3" r="1.75"/><circle cx="158.2" cy="117.79" r="1.75"/><circle cx="154.51" cy="149.2" r="1.75"/><circle cx="155.87" cy="109.7" r="1.75"/><circle cx="155.49" cy="113.39" r="1.75"/><circle cx="157.78" cy="112.67" r="1.75"/><circle cx="159.06" cy="136.85" r="1.75"/><circle cx="158.07" cy="139.51" r="1.75"/><circle cx="145.33" cy="98.79" r="1.75"/><circle cx="152.94" cy="111.67" r="1.75"/><circle cx="145.62" cy="124.92" r="1.75"/><circle cx="151.06" cy="129.89" r="1.75"/><circle cx="145.07" cy="105.36" r="1.75"/><circle cx="143.32" cy="113.99" r="1.75"/><circle cx="159.55" cy="130.89" r="1.75"/><circle cx="158.89" cy="141.37" r="1.75"/><circle cx="148.24" cy="128.1" r="1.75"/><circle cx="148.7" cy="134.1" r="1.75"/><circle cx="154.4" cy="109.88" r="1.75"/><circle cx="150.66" cy="131.65" r="1.75"/><circle cx="148.1" cy="111.14" r="1.75"/><circle cx="153.37" cy="132.56" r="1.75"/><circle cx="154.93" cy="112.6" r="1.75"/><circle cx="150.22" cy="148.57" r="1.75"/><circle cx="142.19" cy="131.59" r="1.75"/><circle cx="156.6" cy="128.78" r="1.75"/><circle cx="149.06" cy="138.99" r="1.75"/><circle cx="145.88" cy="138.25" r="1.75"/><circle cx="141.95" cy="141.73" r="1.75"/><circle cx="154.41" cy="114.22" r="1.75"/><circle cx="141.77" cy="134.06" r="1.75"/><circle cx="153.63" cy="122.59" r="1.75"/><circle cx="147.2" cy="102.09" r="1.75"/><circle cx="145.79" cy="122.2" r="1.75"/><circle cx="148.27" cy="138.2" r="1.75"/><circle cx="151.93" cy="141.13" r="1.75"/><circle cx="148.44" cy="121.21" r="1.75"/><circle cx="159.8" cy="127.31" r="1.75"/><circle cx="154.46" cy="140.33" r="1.75"/><circle cx="141.47" cy="124.12" r="1.75"/><circle cx="156.31" cy="128.9" r="1.75"/><circle cx="153.8" cy="116.85" r="1.75"/><circle cx="158.44" cy="142.47" r="1.75"/><circle cx="155.33" cy="148.81" r="1.75"/><circle cx="148.19" cy="117.91" r="1.75"/><circle cx="155.14" cy="119.2" r="1.75"/><circle cx="145.51" cy="145.1" r="1.75"/><circle cx="159.87" cy="144.68" r="1.75"/><circle cx="148.59" cy="108.8" r="1.75"/><circle cx="154.32" cy="122.34" r="1.75"/><circle cx="146.59" cy="128.76" r="1.75"/><circle cx="159.57" cy="138.41" r="1.75"/><circle cx="145.18" cy="144.33" r="1.75"/><circle cx="145.07" cy="107" r="1.75"/><circle cx="146.84" cy="100.82" r="1.75"/><circle cx="151.84" cy="132.15" r="1.75"/><circle cx="151.82" cy="147.42" r="1.75"/><circle cx="147.93" cy="106.39" r="1.75"/><circle cx="152.96" cy="144.86" r="1.75"/><circle cx="148.03" cy="104.97" r="1.75"/><circle cx="156.57" cy="124.26" r="1.75"/><circle cx="151.91" cy="136.1" r="1.75"/><circle cx="157.3" cy="107.25" r="1.75"/><circle cx="148.23" cy="138.97" r="1.75"/><circle cx="155.76" cy="114.68" r="1.75"/><circle cx="158.12" cy="116.56" r="1.75"/><circle cx="145.13" cy="112.62" r="1.75"/><circle cx="158.44" cy="148.9" r="1.75"/><circle cx="150.86" cy="122.2" r="1.75"/><circle cx="146.77" cy="143.64" r="1.75"/><circle cx="153.63" cy="115.13" r="1.75"/><circle cx="146.34" cy="114.81" r="1.75"/><circle cx="146.41" cy="105.81" r="1.75"/><circle cx="153.91" cy="114.84" r="1.75"/><circle cx="147.73" cy="109.69" r="1.75"/><circle cx="158.58" cy="109.87" r="1.75"/><circle cx="148.01" cy="122.99" r="1.75"/><circle cx="145.21" cy="147.24" r="1.75"/><circle cx="146.93" cy="106.58" r="1.75"/><circle cx="158.96" cy="114.93" r="1.75"/><circle cx="142.92" cy="98.9" r="1.75"/><circle cx="160.03" cy="146.43" r="1.75"/><circle cx="144.26" cy="115.85" r="1.75"/><circle cx="157.75" cy="132.44" r="1.75"/><circle cx="158.97" cy="145.51" r="1.75"/><circle cx="142.98" cy="100.97" r="1.75"/><circle cx="145.33" cy="128.96" r="1.75"/><circle cx="159.79" cy="121.15" r="1.75"/><circle cx="153.49" cy="131.66" r="1.75"/><circle cx="158.58" cy="115.39" r="1.75"/><circle cx="141.98" cy="116.76" r="1.75"/><circle cx="158.73" cy="108.13" r="1.75"/><circle cx="143.12" cy="108.33" r="1.75"/><circle cx="152.39" cy="116.27" r="1.75"/><circle cx="156" cy="122.63" r="1.75"/><circle cx="156.02" cy="104.19" r="1.75"/><circle cx="142.45" cy="98.39" r="1.75"/><circle cx="144.18" cy="141.41" r="1.75"/><circle cx="159.03" cy="104.9" r="1.75"/><circle cx="153.94" cy="106.38" r="1.75"/><circle cx="150.53" cy="145.38" r="1.75"/><circle cx="159.03" cy="96.51" r="1.75"/><circle cx="143.36" cy="110.64" r="1.75"/><circle cx="149.45" cy="125.96" r="1.75"/><circle cx="141.61" cy="120.18" r="1.75"/><circle cx="149.7" cy="115.07" r="1.75"/><circle cx="157.78" cy="94.55" r="1.75"/><circle cx="156.25" cy="118.31" r="1.75"/><circle cx="156.64" cy="142.25" r="1.75"/><circle cx="153.24" cy="142.71" r="1.75"/><circle cx="156.37" cy="114.54" r="1.75"/><circle cx="145.06" cy="139.44" r="1.75"/><circle cx="145.59" cy="122.28" r="1.75"/><circle cx="144.16" cy="107.21" r="1.75"/><circle cx="155.93" cy="117.23" r="1.75"/><circle cx="144.63" cy="142.24" r="1.75"/><circle cx="154.86" cy="121.61" r="1.75"/><circle cx="155.54" cy="131.06" r="1.75"/><circle cx="155.52" cy="113.34" r="1.75"/><circle cx="145.92" cy="114.72" r="1.75"/><circle cx="158.7" cy="113.48" r="1.75"/><circle cx="155.36" cy="114.67" r="1.75"/><circle cx="156.97" cy="105.74" r="1.75"/><circle cx="145.49" cy="110.4" r="1.75"/><circle cx="149.32" cy="139.05" r="1.75"/><circle cx="156.01" cy="136.57" r="1.75"/><circle cx="156.37" cy="104.04" r="1.75"/><circle cx="145.25" cy="106.26" r="1.75"/><circle cx="159.9" cy="123.67" r="1.75"/><circle cx="143.7" cy="148.58" r="1.75"/><circle cx="144.4" cy="107.01" r="1.75"/><circle cx="159.26" cy="112.58" r="1.75"/><circle cx="142.92" cy="109.43" r="1.75"/><circle cx="146.07" cy="139.23" r="1.75"/><circle cx="146.79" cy="127.41" r="1.75"/><circle cx="155.46" cy="120.74" r="1.75"/><circle cx="150.79" cy="131.41" r="1.75"/><circle cx="159.58" cy="109.93" r="1.75"/><circle cx="143.26" cy="147.46" r="1.75"/><circle cx="147.2" cy="116.44" r="1.75"/><circle cx="142.26" cy="140.51" r="1.75"/><circle cx="142.17" cy="130.97" r="1.75"/><circle cx="152.9" cy="146.5" r="1.75"/><circle cx="155.17" cy="94.03" r="1.75"/><circle cx="151.95" cy="114.43" r="1.75"/><circle cx="142.67" cy="130.87" r="1.75"/><circle cx="145.58" cy="129.67" r="1.75"/><circle cx="159.29" cy="129.04" r="1.75"/><circle cx="144.51" cy="135.76" r="1.75"/><circle cx="152.04" cy="130.77" r="1.75"/><circle cx="151.19" cy="148.49" r="1.75"/><circle cx="142.38" cy="123.87" r="1.75"/><circle cx="144.55" cy="146.7" r="1.75"/><circle cx="153.19" cy="125.68" r="1.75"/><circle cx="154.32" cy="112.76" r="1.75"/><circle cx="148.66" cy="111.14" r="1.75"/><circle cx="156.04" cy="116.92" r="1.75"/><circle cx="150.19" cy="134.11" r="1.75"/><circle cx="156.86" cy="118.19" r="1.75"/><circle cx="147.95" cy="114.86" r="1.75"/><circle cx="153.97" cy="131.5" r="1.75"/><circle cx="159.08" cy="107.67" r="1.75"/><circle cx="146.25" cy="114.8" r="1.75"/><circle cx="146.15" cy="94.62" r="1.75"/><circle cx="143.5" cy="98.41" r="1.75"/><circle cx="147.7" cy="113.41" r="1.75"/><circle cx="147.26" cy="114.08" r="1.75"/><circle cx="147.33" cy="145.72" r="1.75"/><circle cx="147.14" cy="110.48" r="1.75"/><circle cx="153.94" cy="112.49" r="1.75"/><circle cx="153.42" cy="141.76" r="1.75"/><circle cx="158.71" cy="124.28" r="1.75"/><circle cx="145.37" cy="117.73" r="1.75"/><circle cx="153.84" cy="114.93" r="1.75"/><circle cx="155.86" cy="125.3" r="1.75"/><circle cx="156.5" cy="123.16" r="1.75"/><circle cx="143.24" cy="131.98" r="1.75"/><circle cx="154.14" cy="142.23" r="1.75"/><circle cx="151.31" cy="145.37" r="1.75"/><circle cx="147.57" cy="130.67" r="1.75"/><circle cx="159.64" cy="131.87" r="1.75"/><circle cx="144.29" cy="147.65" r="1.75"/><circle cx="147.4" cy="102.93" r="1.75"/><circle cx="155.37" cy="125.03" r="1.75"/><circle cx="159" cy="146.5" r="1.75"/><circle cx="154.39" cy="108.78" r="1.75"/><circle cx="151.31" cy="129.03" r="1.75"/><circle cx="149.09" cy="137.35" r="1.75"/><circle cx="155.66" cy="131.78" r="1.75"/><circle cx="146.56" cy="111.23" r="1.75"/><circle cx="159.23" cy="135.92" r="1.75"/><circle cx="143.11" cy="115.63" r="1.75"/><circle cx="154.85" cy="147.55" r="1.75"/><circle cx="152.33" cy="135.75" r="1.75"/><circle cx="155.4" cy="124.8" r="1.75"/><circle cx="148.68" cy="143.08" r="1.75"/><circle cx="143.68" cy="117.77" r="1.75"/><circle cx="144.77" cy="103.47" r="1.75"/><circle cx="156.72" cy="139.49" r="1.75"/><circle cx="146.33" cy="118.65" r="1.75"/><circle cx="152.31" cy="113.96" r="1.75"/><circle cx="153.07" cy="127.6" r="1.75"/><circle cx="144.43" cy="101.19" r="1.75"/><circle cx="146.27" cy="102.62" r="1.75"/><circle cx="142.08" cy="132.57" r="1.75"/><circle cx="153.19" cy="129.92" r="1.75"/><circle cx="147.06" cy="119.8" r="1.75"/><circle cx="147.73" cy="128.57" r="1.75"/><circle cx="159.29" cy="114.41" r="1.75"/><circle cx="153.85" cy="123.24" r="1.75"/><circle cx="144.93" cy="143.33" r="1.75"/><circle cx="146.43" cy="140.04" r="1.75"/><circle cx="154.42" cy="125.32" r="1.75"/><circle cx="143.41" cy="127.78" r="1.75"/><circle cx="151.99" cy="145.07" r="1.75"/><circle cx="157.53" cy="149.36" r="1.75"/><circle cx="143.39" cy="105.16" r="1.75"/><circle cx="145.45" cy="123.95" r="1.75"/><circle cx="145.35" cy="145.29" r="1.75"/><circle cx="143.43" cy="114.83" r="1.75"/><circle cx="142.03" cy="108.47" r="1.75"/><circle cx="147.28" cy="139.65" r="1.75"/><circle cx="145.99" cy="134.16" r="1.75"/><circle cx="145.9" cy="134.19" r="1.75"/><circle cx="142.95" cy="97.5" r="1.75"/><circle cx="142.08" cy="140.1" r="1.75"/><circle cx="151.87" cy="134.43" r="1.75"/><circle cx="158.73" cy="103.57" r="1.75"/><circle cx="158.67" cy="135.07" r="1.75"/><circle cx="157.06" cy="122.07" r="1.75"/><circle cx="155.81" cy="121.69" r="1.75"/><circle cx="145.63" cy="133.69" r="1.75"/><circle cx="146.39" cy="108.36" r="1.75"/><circle cx="156.8" cy="119.26" r="1.75"/><circle cx="143.01" cy="127" r="1.75"/><circle cx="156.68" cy="113.76" r="1.75"/><circle cx="144.6" cy="112.67" r="1.75"/><circle cx="142.42" cy="109.49" r="1.75"/><circle cx="157.26" cy="107.77" r="1.75"/><circle cx="158.89" cy="141.29" r="1.75"/><circle cx="154.56" cy="106.47" r="1.75"/><circle cx="156.53" cy="146.31" r="1.75"/><circle cx="152.91" cy="130.46" r="1.75"/><circle cx="154.09" cy="140.68" r="1.75"/><circle cx="147.09" cy="117.57" r="1.75"/><circle cx="146.68" cy="94.88" r="1.75"/><circle cx="154.56" cy="106.37" r="1.75"/><circle cx="154.46" cy="125.89" r="1.75"/><circle cx="154.57" cy="129.4" r="1.75"/><circle cx="155.87" cy="136.98" r="1.75"/><circle cx="146.56" cy="103.62" r="1.75"/><circle cx="146.75" cy="145.38" r="1.75"/><circle cx="152.09" cy="140.88" r="1.75"/><circle cx="141.9" cy="129.83" r="1.75"/><circle cx="142.46" cy="144.33" r="1.75"/><circle cx="155.37" cy="110.08" r="1.75"/><circle cx="156.25" cy="101.05" r="1.75"/><circle cx="145.81" cy="136.13" r="1.75"/><circle cx="159.12" cy="102.89" r="1.75"/><circle cx="151.8" cy="114.57" r="1.75"/><circle cx="145.17" cy="107.04" r="1.75"/><circle cx="145.81" cy="146.49" r="1.75"/><circle cx="152.29" cy="122.72" r="1.75"/><circle cx="157.99" cy="143.9" r="1.75"/><circle cx="149.15" cy="140.08" r="1.75"/><circle cx="157.6" cy="137.17" r="1.75"/><circle cx="146.43" cy="117.15" r="1.75"/><circle cx="142.75" cy="99.15" r="1.75"/><circle cx="145.33" cy="136.56" r="1.75"/><circle cx="159.02" cy="120.27" r="1.75"/><circle cx="154.63" cy="146.22" r="1.75"/><circle cx="141.52" cy="146.43" r="1.75"/><circle cx="149.93" cy="149.18" r="1.75"/><circle cx="159.78" cy="101.29" r="1.75"/><circle cx="157.78" cy="120.48" r="1.75"/><circle cx="147.41" cy="130.22" r="1.75"/><circle cx="150.53" cy="132.28" r="1.75"/><circle cx="153.31" cy="130.04" r="1.75"/><circle cx="155.39" cy="102.58" r="1.75"/><circle cx="145.71" cy="105.52" r="1.75"/><circle cx="144.07" cy="118.11" r="1.75"/><circle cx="143.8" cy="112.61" r="1.75"/><circle cx="142.45" cy="121.82" r="1.75"/><circle cx="142.15" cy="105.84" r="1.75"/><circle cx="149.89" cy="138.49" r="1.75"/><circle cx="146.58" cy="129.4" r="1.75"/><circle cx="149.6" cy="137.14" r="1.75"/><circle cx="150.94" cy="122.89" r="1.75"/><circle cx="155.34" cy="148.62" r="1.75"/><circle cx="149.9" cy="138.3" r="1.75"/><circle cx="142.48" cy="116.06" r="1.75"/><circle cx="159.7" cy="108" r="1.75"/><circle cx="156.33" cy="100.02" r="1.75"/><circle cx="145.81" cy="143.7" r="1.75"/><circle cx="158" cy="127.98" r="1.75"/><circle cx="154.66" cy="111.79" r="1.75"/><circle cx="142.76" cy="140.31" r="1.75"/><circle cx="155.21" cy="125.61" r="1.75"/><circle cx="154.43" cy="127.96" r="1.75"/><circle cx="155.02" cy="142.04" r="1.75"/><circle cx="157.16" cy="44.63" r="1.75"/><circle cx="143.89" cy="72.75" r="1.75"/><circle cx="142.06" cy="77.31" r="1.75"/><circle cx="158.34" cy="73.51" r="1.75"/><circle cx="159.44" cy="76.55" r="1.75"/><circle cx="157.61" cy="83.39" r="1.75"/><circle cx="154.41" cy="85.67" r="1.75"/><circle cx="153.77" cy="94.03" r="1.75"/><circle cx="146.18" cy="85.67" r="1.75"/><circle cx="142.97" cy="84.91" r="1.75"/><circle cx="145.08" cy="80.35" r="1.75"/><circle cx="156.42" cy="87.19" r="1.75"/><circle cx="107.29" cy="157.11" r="1.75"/><circle cx="110.95" cy="151.79" r="1.75"/><circle cx="117.81" cy="155.59" r="1.75"/><circle cx="194.03" cy="151.03" r="1.75"/><circle cx="195.13" cy="159.85" r="1.75"/><circle cx="191.74" cy="160.61" r="1.75"/><circle cx="185.25" cy="154.83" r="1.75"/><circle cx="186.44" cy="159.39" r="1.75"/><circle cx="184.88" cy="162.43" r="1.75"/><circle cx="186.44" cy="152.55" r="1.75"/><circle cx="121.47" cy="160.15" r="1.75"/></g>
<line x1="141.6" y1="25.75" x2="141.6" y2="171.5" stroke="#9c9c9c" stroke-width="0.9" stroke-dasharray="5 2.5" stroke-opacity="0.9"/>
<line x1="159.9" y1="25.75" x2="159.9" y2="171.5" stroke="#9c9c9c" stroke-width="0.9" stroke-dasharray="5 2.5" stroke-opacity="0.9"/>
<line x1="69" y1="147.99" x2="233.25" y2="147.99" stroke="#b0b0b0" stroke-width="1" stroke-dasharray="5 2.5" stroke-opacity="0.85"/>
<rect x="69" y="25.75" width="164.25" height="145.75" fill="none" stroke="#1a1a1a" stroke-width="1.3"/>
<line x1="105" y1="172.1" x2="105" y2="173.9" stroke="#222" stroke-width="0.7"/>
<text x="105" y="185.2" font-size="7.6" text-anchor="middle" fill="#222">-5</text>
<line x1="150.75" y1="172.1" x2="150.75" y2="173.9" stroke="#222" stroke-width="0.7"/>
<text x="150.75" y="185.2" font-size="7.6" text-anchor="middle" fill="#222">0</text>
<line x1="196.5" y1="172.1" x2="196.5" y2="173.9" stroke="#222" stroke-width="0.7"/>
<text x="196.5" y="185.2" font-size="7.6" text-anchor="middle" fill="#222">5</text>
<line x1="66.6" y1="167.75" x2="68.4" y2="167.75" stroke="#222" stroke-width="0.7"/>
<text x="62.2" y="170.35" font-size="7.6" text-anchor="end" fill="#222">0</text>
<line x1="66.6" y1="137.35" x2="68.4" y2="137.35" stroke="#222" stroke-width="0.7"/>
<text x="62.2" y="139.95" font-size="7.6" text-anchor="end" fill="#222">2</text>
<line x1="66.6" y1="106.95" x2="68.4" y2="106.95" stroke="#222" stroke-width="0.7"/>
<text x="62.2" y="109.55" font-size="7.6" text-anchor="end" fill="#222">4</text>
<line x1="66.6" y1="76.55" x2="68.4" y2="76.55" stroke="#222" stroke-width="0.7"/>
<text x="62.2" y="79.15" font-size="7.6" text-anchor="end" fill="#222">6</text>
<line x1="66.6" y1="46.15" x2="68.4" y2="46.15" stroke="#222" stroke-width="0.7"/>
<text x="62.2" y="48.75" font-size="7.6" text-anchor="end" fill="#222">8</text>
<text x="107" y="196" font-size="10.4" fill="#111">Log<tspan font-size="7.5" dy="2">2</tspan><tspan dy="-2"> (Fold Change)</tspan></text>
<text font-size="10.4" fill="#111" text-anchor="middle" transform="translate(49 99.5) rotate(-90)">-Log<tspan font-size="7.5" dy="2"> 10</tspan><tspan dy="-2"> (</tspan><tspan font-style="italic">P</tspan> value)</text>
<circle cx="102.5" cy="17.8" r="2.25" fill="#f27d76" stroke="#2a2a2a" stroke-width="0.9"/>
<text x="111.75" y="20.8" font-size="8.6" fill="#111">Up</text>
<circle cx="132" cy="17.8" r="2.25" fill="#757575" stroke="#2a2a2a" stroke-width="0.9"/>
<text x="141.5" y="20.8" font-size="8.6" fill="#111">Not sig</text>
<circle cx="177.5" cy="17.8" r="2.25" fill="#8abbdb" stroke="#2a2a2a" stroke-width="0.9"/>
<text x="187" y="20.8" font-size="8.6" fill="#111">Down</text>
<circle cx="190" cy="116" r="2.5" fill="none" stroke="#000" stroke-width="1.1"/>
<line x1="191.7" y1="114.3" x2="194.8" y2="111.6" stroke="#000" stroke-width="0.9"/>
<text x="186" y="109" font-size="10" fill="#111">CREB5</text>
<text x="346.5" y="30.5" font-size="10.6" text-anchor="middle" font-weight="bold" fill="#e87c7c">RNA-seq</text>
<text x="528.5" y="30.5" font-size="10.6" text-anchor="middle" font-weight="bold" fill="#7fb6db">ChIP-seq</text>
<text x="306" y="49.25" font-size="10.6" fill="#111">Genes with altered</text>
<text x="306" y="62.35" font-size="10.6" fill="#111">transcription levels in</text>
<text x="306" y="75.45" font-size="10.6" fill="#111">ERS-HepG2 (1062)</text>
<text x="462.5" y="49.25" font-size="10.6" fill="#111">Control HepG2</text>
<text x="462.5" y="62.35" font-size="10.6" fill="#111">SE-associated</text>
<text x="462.5" y="75.45" font-size="10.6" fill="#111">genes (601)</text>
<text x="544.75" y="49.25" font-size="10.6" fill="#111">ERS HepG2</text>
<text x="544.75" y="62.35" font-size="10.6" fill="#111">SE-associated</text>
<text x="544.75" y="75.45" font-size="10.6" fill="#111">genes (601)</text>
<circle cx="346.5" cy="125.4" r="45.3" fill="#fff" stroke="#ea8585" stroke-width="1.2"/>
<circle cx="345.6" cy="139.6" r="32.2" fill="#f3c6c6" stroke="#e88a8a" stroke-width="1.2"/>
<text x="345.5" y="102" font-size="10.6" text-anchor="middle" font-weight="bold">1062</text>
<text x="345.5" y="127.5" font-size="10.6" text-anchor="middle" font-weight="bold">601</text>
<text x="324" y="139.5" font-size="8.4" fill="#111">Up-regulated</text>
<text x="324" y="150" font-size="8.4" fill="#111">genes in ERS-</text>
<text x="324" y="160.5" font-size="8.4" fill="#111">hepG2</text>
<circle cx="504" cy="125.6" r="45.7" fill="#ebc98b" stroke="#d9a65c" stroke-width="0.9"/>
<circle cx="563.1" cy="125.9" r="45.7" fill="#cde1ed" stroke="#9cc5e0" stroke-width="0.9"/>
<clipPath id="cpo"><circle cx="504" cy="125.6" r="45.7"/></clipPath>
<circle cx="563.1" cy="125.9" r="45.7" fill="#c6cac4" stroke="#9cc5e0" stroke-width="0.9" clip-path="url(#cpo)"/>
<circle cx="504" cy="125.6" r="45.7" fill="none" stroke="#d9a65c" stroke-width="0.7" stroke-opacity="0.6"/>
<text x="492.5" y="120.8" font-size="10.6" text-anchor="middle" font-weight="bold">197</text>
<text x="534" y="121.8" font-size="10.6" text-anchor="middle" font-weight="bold">404</text>
<text x="576.5" y="121.8" font-size="10.6" text-anchor="middle" font-weight="bold">197</text>
<text x="557" y="133.75" font-size="8.4" fill="#111">ERS-HepG2</text>
<text x="557" y="144.3" font-size="8.4" fill="#111">acquired SE-</text>
<text x="557" y="154.85" font-size="8.4" fill="#111">associated</text>
<text x="557" y="165.4" font-size="8.4" fill="#111">genes</text>
<path d="M344.5 174.3V182.5Q344.5 184.5 346.5 184.5H447.5Q449.5 184.5 449.5 186.5V195.5M449.5 186.5Q449.5 184.5 451.5 184.5H551.5Q553.5 184.5 553.5 182.5V174.3" fill="none" stroke="#74a3e3" stroke-width="0.9"/>
<text x="400.3" y="207" font-size="10.7" text-anchor="middle" font-weight="bold" fill="#e87c7c">RNA-seq</text>
<text x="493.5" y="207" font-size="10.7" text-anchor="middle" font-weight="bold" fill="#7fb6db">ChIP-seq</text>
<ellipse cx="417.25" cy="263.75" rx="45.3" ry="47.5" fill="#f3c8c8"/>
<ellipse cx="476.6" cy="264" rx="45.4" ry="47.8" fill="#cbe1ee"/>
<clipPath id="cpv"><ellipse cx="417.25" cy="263.75" rx="45.3" ry="47.5"/></clipPath>
<ellipse cx="476.6" cy="264" rx="45.4" ry="47.8" fill="#cac8de" clip-path="url(#cpv)"/>
<text x="405.25" y="263.75" font-size="10.6" text-anchor="middle" font-weight="bold">584</text>
<text x="447.5" y="263.75" font-size="10.6" text-anchor="middle" font-weight="bold">17</text>
<text x="486.25" y="263.75" font-size="10.6" text-anchor="middle" font-weight="bold">180</text>
<path d="M447 270.75L569.3 271.75M563 267.4L569.3 271.75L563 276" fill="none" stroke="#6a9be6" stroke-width="0.9"/>
<rect x="581.4" y="174.3" width="89.9" height="215.2" fill="#fff"/>
<text x="601.85" y="182.3" font-size="7.4" text-anchor="middle" fill="#111">Gene</text>
<text x="646.8" y="182.3" font-size="7.4" text-anchor="middle" fill="#111">Log2FC</text>
<text x="601.85" y="194.26" font-size="7.4" text-anchor="middle" fill="#e8202a">CREB5</text>
<text x="646.8" y="194.26" font-size="7.4" text-anchor="middle" fill="#e8202a">4.242701216</text>
<text x="601.85" y="206.21" font-size="7.4" text-anchor="middle" fill="#111">TRIB3</text>
<text x="646.8" y="206.21" font-size="7.4" text-anchor="middle" fill="#111">2.858336966</text>
<text x="601.85" y="218.17" font-size="7.4" text-anchor="middle" fill="#111">SLC3A2</text>
<text x="646.8" y="218.17" font-size="7.4" text-anchor="middle" fill="#111">2.678656186</text>
<text x="601.85" y="230.12" font-size="7.4" text-anchor="middle" fill="#111">GADD45A</text>
<text x="646.8" y="230.12" font-size="7.4" text-anchor="middle" fill="#111">2.491559525</text>
<text x="601.85" y="242.08" font-size="7.4" text-anchor="middle" fill="#111">IL6</text>
<text x="646.8" y="242.08" font-size="7.4" text-anchor="middle" fill="#111">2.371785656</text>
<text x="601.85" y="254.03" font-size="7.4" text-anchor="middle" fill="#111">CXCL2</text>
<text x="646.8" y="254.03" font-size="7.4" text-anchor="middle" fill="#111">2.353323569</text>
<text x="601.85" y="265.99" font-size="7.4" text-anchor="middle" fill="#111">HKDC1</text>
<text x="646.8" y="265.99" font-size="7.4" text-anchor="middle" fill="#111">2.26659217</text>
<text x="601.85" y="277.94" font-size="7.4" text-anchor="middle" fill="#111">ATF3</text>
<text x="646.8" y="277.94" font-size="7.4" text-anchor="middle" fill="#111">2.145051596</text>
<text x="601.85" y="289.9" font-size="7.4" text-anchor="middle" fill="#111">ERN1</text>
<text x="646.8" y="289.9" font-size="7.4" text-anchor="middle" fill="#111">1.821068055</text>
<text x="601.85" y="301.86" font-size="7.4" text-anchor="middle" fill="#111">TRIM16L</text>
<text x="646.8" y="301.86" font-size="7.4" text-anchor="middle" fill="#111">1.329468619</text>
<text x="601.85" y="313.81" font-size="7.4" text-anchor="middle" fill="#111">ARHGEF2</text>
<text x="646.8" y="313.81" font-size="7.4" text-anchor="middle" fill="#111">1.322508662</text>
<text x="601.85" y="325.77" font-size="7.4" text-anchor="middle" fill="#111">KLF4</text>
<text x="646.8" y="325.77" font-size="7.4" text-anchor="middle" fill="#111">1.320267171</text>
<text x="601.85" y="337.72" font-size="7.4" text-anchor="middle" fill="#111">CLIP4</text>
<text x="646.8" y="337.72" font-size="7.4" text-anchor="middle" fill="#111">1.188854057</text>
<text x="601.85" y="349.68" font-size="7.4" text-anchor="middle" fill="#111">NMNAT2</text>
<text x="646.8" y="349.68" font-size="7.4" text-anchor="middle" fill="#111">1.099289361</text>
<text x="601.85" y="361.63" font-size="7.4" text-anchor="middle" fill="#111">NFE2L1</text>
<text x="646.8" y="361.63" font-size="7.4" text-anchor="middle" fill="#111">1.084710193</text>
<text x="601.85" y="373.59" font-size="7.4" text-anchor="middle" fill="#111">SPIRE1</text>
<text x="646.8" y="373.59" font-size="7.4" text-anchor="middle" fill="#111">1.055015824</text>
<text x="601.85" y="385.54" font-size="7.4" text-anchor="middle" fill="#111">UQCRHL</text>
<text x="646.8" y="385.54" font-size="7.4" text-anchor="middle" fill="#111">1.02619572</text>
<path d="M581.4 186.26H671.3M581.4 198.21H671.3M581.4 210.17H671.3M581.4 222.12H671.3M581.4 234.08H671.3M581.4 246.03H671.3M581.4 257.99H671.3M581.4 269.94H671.3M581.4 281.9H671.3M581.4 293.86H671.3M581.4 305.81H671.3M581.4 317.77H671.3M581.4 329.72H671.3M581.4 341.68H671.3M581.4 353.63H671.3M581.4 365.59H671.3M581.4 377.54H671.3M622.3 174.3V389.5" fill="none" stroke="#000" stroke-width="1.1"/>
<rect x="581.4" y="174.3" width="89.9" height="215.2" fill="none" stroke="#000" stroke-width="1.4"/>
<rect x="60" y="224.25" width="172.75" height="166.25" fill="#fff" stroke="#555" stroke-width="0.5"/>
<line x1="215.5" y1="224.25" x2="215.5" y2="390.5" stroke="#888" stroke-width="0.5" stroke-dasharray="2.2 1.6"/>
<line x1="60" y1="372.5" x2="232.75" y2="372.5" stroke="#888" stroke-width="0.5" stroke-dasharray="2.2 1.6"/>
<line x1="68" y1="390.5" x2="68" y2="391.7" stroke="#666" stroke-width="0.4"/>
<line x1="105.75" y1="390.5" x2="105.75" y2="391.7" stroke="#666" stroke-width="0.4"/>
<line x1="143.5" y1="390.5" x2="143.5" y2="391.7" stroke="#666" stroke-width="0.4"/>
<line x1="181.5" y1="390.5" x2="181.5" y2="391.7" stroke="#666" stroke-width="0.4"/>
<line x1="219.25" y1="390.5" x2="219.25" y2="391.7" stroke="#666" stroke-width="0.4"/>
<text x="68" y="394" font-size="2.6" text-anchor="middle" fill="#444" class="s">0</text>
<text x="105.75" y="394" font-size="2.6" text-anchor="middle" fill="#444" class="s">5000</text>
<text x="143.5" y="394" font-size="2.6" text-anchor="middle" fill="#444" class="s">10000</text>
<text x="181.5" y="394" font-size="2.6" text-anchor="middle" fill="#444" class="s">15000</text>
<text x="219.25" y="394" font-size="2.6" text-anchor="middle" fill="#444" class="s">20000</text>
<line x1="58.8" y1="382.5" x2="60" y2="382.5" stroke="#666" stroke-width="0.4"/>
<text font-size="2.6" text-anchor="middle" fill="#444" class="s" transform="translate(58 382.5) rotate(-90)">0</text>
<line x1="58.8" y1="335" x2="60" y2="335" stroke="#666" stroke-width="0.4"/>
<text font-size="2.6" text-anchor="middle" fill="#444" class="s" transform="translate(58 335) rotate(-90)">100000</text>
<line x1="58.8" y1="287.5" x2="60" y2="287.5" stroke="#666" stroke-width="0.4"/>
<text font-size="2.6" text-anchor="middle" fill="#444" class="s" transform="translate(58 287.5) rotate(-90)">200000</text>
<line x1="58.8" y1="239" x2="60" y2="239" stroke="#666" stroke-width="0.4"/>
<text font-size="2.6" text-anchor="middle" fill="#444" class="s" transform="translate(58 239) rotate(-90)">300000</text>
<path d="M67 382.5 L100 382.2 L130 381.6 L155 381 L171 380.4 L185 379.4 L196 378 L203 376.7 L208.5 375.2 L212 374 L215.5 372.3 L218 369.5 L220 365 L221.5 360 L222.8 352 L223.6 344 L224.2 335 L224.6 325 L224.9 315 L225 303" fill="none" stroke="#ff1a0d" stroke-width="4.4" stroke-linecap="round" stroke-linejoin="round"/>
<line x1="225" y1="302" x2="225" y2="231.5" stroke="#ff8a80" stroke-width="0.9"/>
<circle cx="225" cy="231.75" r="2.1" fill="#ff1a0d"/>
<circle cx="225" cy="236.25" r="2.1" fill="#ff1a0d"/>
<circle cx="225" cy="257.5" r="2.1" fill="#ff1a0d"/>
<circle cx="225" cy="270.5" r="2.1" fill="#ff1a0d"/>
<circle cx="225" cy="277.5" r="2.1" fill="#ff1a0d"/>
<circle cx="225" cy="279" r="2.1" fill="#ff1a0d"/>
<circle cx="225" cy="285" r="2.1" fill="#ff1a0d"/>
<circle cx="225" cy="302.5" r="2.1" fill="#ff1a0d"/>
<circle cx="225" cy="305" r="2.1" fill="#ff1a0d"/>
<circle cx="225" cy="308" r="2.1" fill="#ff1a0d"/>
<text x="178" y="337" font-size="11.3" fill="#ff2a1c">CREB5</text>
<line x1="214" y1="340" x2="219" y2="359.5" stroke="#ff2a1c" stroke-width="0.5"/>
<text x="70" y="256" font-size="7.05">Cutoff used:&#160; 21696.0848</text>
<text x="70.75" y="265.75" font-size="7.1">Super−Enhancers identified:&#160; 1256</text>
<text font-size="6.3" text-anchor="middle" transform="translate(49.5 308.5) rotate(-90)">TM2.uniq.sorted.bam&#160; Signal − input.uniq.sorted.bam</text>
<text x="145.5" y="401.25" font-size="6.4" text-anchor="middle">TM2.uniq.sorted.bam _enhancers</text>
<rect x="60" y="436.25" width="316.25" height="158.75" fill="#f8f8f8"/>
<rect x="60" y="436.25" width="316.25" height="19.25" fill="#f4f4f4"/>
<line x1="60" y1="436.25" x2="376.25" y2="436.25" stroke="#4a4a4a" stroke-width="1.1"/>
<line x1="89.5" y1="442.6" x2="360.75" y2="442.6" stroke="#2a22d6" stroke-width="0.7"/>
<path d="M149.25 439.4V445.8M188.5 439.4V445.8M191.75 439.4V445.8M199 439.4V445.8M231.25 439.4V445.8M292.5 439.4V445.8M308.5 439.4V445.8M311.75 439.4V445.8M354.5 439.4V445.8M356.5 439.4V445.8" fill="none" stroke="#2a22d6" stroke-width="1.1"/>
<rect x="360.75" y="440" width="3.2" height="5.2" fill="#2a22d6"/>
<path d="M363.9 441L365.6 442.6L363.9 444.2Z" fill="#2a22d6"/>
<path d="M95 441.8l1 0.8l-1 0.8M108.7 441.8l1 0.8l-1 0.8M122.4 441.8l1 0.8l-1 0.8M136.1 441.8l1 0.8l-1 0.8M149.8 441.8l1 0.8l-1 0.8M163.5 441.8l1 0.8l-1 0.8M177.2 441.8l1 0.8l-1 0.8M190.9 441.8l1 0.8l-1 0.8M204.6 441.8l1 0.8l-1 0.8M218.3 441.8l1 0.8l-1 0.8M232 441.8l1 0.8l-1 0.8M245.7 441.8l1 0.8l-1 0.8M259.4 441.8l1 0.8l-1 0.8M273.1 441.8l1 0.8l-1 0.8M286.8 441.8l1 0.8l-1 0.8M300.5 441.8l1 0.8l-1 0.8M314.2 441.8l1 0.8l-1 0.8M327.9 441.8l1 0.8l-1 0.8M341.6 441.8l1 0.8l-1 0.8M355.3 441.8l1 0.8l-1 0.8" fill="none" stroke="#2a22d6" stroke-width="0.5"/>
<text x="226.5" y="453.4" font-size="4.4" text-anchor="middle" font-weight="bold" fill="#111" class="s">CREB5</text>
<text x="256.5" y="453.4" font-size="4.4" text-anchor="middle" font-weight="bold" fill="#111" class="s">CREB5</text>
<text x="328" y="453.4" font-size="4.4" text-anchor="middle" font-weight="bold" fill="#111" class="s">CREB5</text>
<line x1="60" y1="455.5" x2="376.25" y2="455.5" stroke="#dcdcdc" stroke-width="0.5"/>
<text x="62" y="459.5" font-size="3.4" font-weight="bold" fill="#111" class="s">[0 - 50]</text>
<line x1="60" y1="474" x2="376.25" y2="474" stroke="#2a22d6" stroke-width="0.25" stroke-opacity="0.25"/>
<path d="M61 474.05v-0.58M61.5 474.05v-0.9M62 474.05v-1.1M64 474.05v-0.63M64.5 474.05v-0.54M66.5 474.05v-0.91M68 474.05v-0.91M70.5 474.05v-0.86M72 474.05v-0.81M72.5 474.05v-0.93M73 474.05v-0.51M74.5 474.05v-0.62M75.5 474.05v-0.5M76.5 474.05v-0.92M78 474.05v-0.56M79.5 474.05v-0.86M80 474.05v-1.63M81 474.05v-0.5M83.5 474.05v-1.42M84.5 474.05v-0.7M85 474.05v-0.56M86.5 474.05v-1.25M87.5 474.05v-0.89M88 474.05v-0.74M88.5 474.05v-1.41M90 474.05v-0.72M92.5 474.05v-1.43M93 474.05v-1.06M95 474.05v-2.39M98.5 474.05v-1.95M99.5 474.05v-0.82M101.5 474.05v-0.76M102.5 474.05v-0.43M104 474.05v-0.57M105.5 474.05v-0.48M106.5 474.05v-1.01M107 474.05v-0.81M107.5 474.05v-0.77M108 474.05v-0.67M109.5 474.05v-0.82M110 474.05v-1.08M110.5 474.05v-0.48M111 474.05v-0.8M112.5 474.05v-0.69M115 474.05v-0.48M118.5 474.05v-0.63M120.5 474.05v-1.05M121 474.05v-0.92M122 474.05v-0.61M124 474.05v-1.1M126 474.05v-1.02M127 474.05v-0.5M128 474.05v-1.07M128.5 474.05v-1.28M130 474.05v-0.7M132 474.05v-0.7M133 474.05v-0.84M135.5 474.05v-0.69M136 474.05v-1.05M137 474.05v-0.95M137.5 474.05v-1.01M139 474.05v-0.73M140 474.05v-0.54M143 474.05v-0.99M147 474.05v-0.78M147.5 474.05v-0.48M148 474.05v-0.58M148.5 474.05v-0.58M150 474.05v-1M154 474.05v-0.99M156.5 474.05v-0.92M158.5 474.05v-0.43M159 474.05v-0.46M160 474.05v-0.66M165.5 474.05v-0.85M169.5 474.05v-0.9M174.5 474.05v-0.43M175 474.05v-1.01M178.5 474.05v-0.67M181.5 474.05v-0.52M184.5 474.05v-0.66M185.5 474.05v-0.88M193.5 474.05v-0.92M195.5 474.05v-0.59M196.5 474.05v-0.98M202 474.05v-0.79M204 474.05v-1.09M205.5 474.05v-0.5M206 474.05v-0.79M208 474.05v-0.7M210.5 474.05v-0.68M214.5 474.05v-0.5M217.5 474.05v-0.74M218.5 474.05v-0.71M219.5 474.05v-0.58M222 474.05v-0.66M225 474.05v-0.67M226 474.05v-0.93M227.5 474.05v-0.86M228.5 474.05v-1.07M229 474.05v-0.41M230.5 474.05v-0.86M236.5 474.05v-0.5M238.5 474.05v-0.78M239.5 474.05v-0.66M241 474.05v-0.61M243.5 474.05v-1.06M247 474.05v-0.7M251.5 474.05v-0.96M255 474.05v-0.81M255.5 474.05v-0.92M257 474.05v-0.69M259 474.05v-0.65M259.5 474.05v-0.92M261.5 474.05v-0.83M263 474.05v-0.46M264.5 474.05v-1.1M265.5 474.05v-0.92M266.5 474.05v-0.86M268.5 474.05v-0.44M269 474.05v-0.65M270 474.05v-0.99M270.5 474.05v-0.46M271 474.05v-0.71M272 474.05v-0.51M272.5 474.05v-0.68M281.5 474.05v-0.58M287.5 474.05v-0.45M289 474.05v-0.81M291 474.05v-0.87M293 474.05v-0.6M294.5 474.05v-0.64M303.5 474.05v-0.64M304.5 474.05v-0.43M313 474.05v-0.68M317 474.05v-0.46M319 474.05v-0.45M320.5 474.05v-0.57M321.5 474.05v-0.57M323.5 474.05v-0.63M326.5 474.05v-0.51M330.5 474.05v-0.58M332.5 474.05v-0.82M336.5 474.05v-0.98M337 474.05v-0.67M339 474.05v-1.08M339.5 474.05v-0.43M342.5 474.05v-0.83M345 474.05v-1M345.5 474.05v-0.54M346 474.05v-0.64M347 474.05v-0.51M348 474.05v-0.74M348.5 474.05v-0.49M349 474.05v-0.99M358 474.05v-0.57M359.5 474.05v-0.97M360.5 474.05v-0.43M364 474.05v-0.68M367.5 474.05v-0.65M372.5 474.05v-0.46M373 474.05v-0.49M373.5 474.05v-0.68M374 474.05v-1.08M375 474.05v-0.86" fill="none" stroke="#2a22d6" stroke-width="0.55"/>
<path d="M111.6 474.05v-0.6M112.2 474.05v-0.98M112.8 474.05v-1.75M113.3 474.05v-4.37M113.75 474.05v-8.42M114.2 474.05v-8.09M114.7 474.05v-3.49M115.2 474.05v-2.27M115.7 474.05v-2.11M116.2 474.05v-2.24M116.7 474.05v-2.1M117.2 474.05v-1.8M117.7 474.05v-2.13M118.2 474.05v-4.34M118.7 474.05v-5.04M119.2 474.05v-2.34M119.8 474.05v-1.4M120.4 474.05v-1.57M121 474.05v-1.07M121.6 474.05v-0.7M122.2 474.05v-0.64" fill="none" stroke="#2a22d6" stroke-width="0.75"/>
<line x1="60" y1="475" x2="376.25" y2="475" stroke="#dcdcdc" stroke-width="0.5"/>
<text x="62" y="479" font-size="3.4" font-weight="bold" fill="#111" class="s">[0 - 50]</text>
<line x1="60" y1="494" x2="376.25" y2="494" stroke="#2a22d6" stroke-width="0.25" stroke-opacity="0.25"/>
<path d="M60.5 494.05v-0.64M62.5 494.05v-0.64M64.5 494.05v-1.04M65 494.05v-0.86M66.5 494.05v-1.02M68 494.05v-1.02M68.5 494.05v-1.09M70 494.05v-0.87M70.5 494.05v-0.98M71.5 494.05v-0.95M72.5 494.05v-0.86M76 494.05v-1M78 494.05v-0.43M79 494.05v-2.05M81.5 494.05v-0.46M84 494.05v-1.01M84.5 494.05v-2.33M86 494.05v-2.29M86.5 494.05v-1.01M89 494.05v-1.65M90 494.05v-0.5M91 494.05v-0.93M91.5 494.05v-1.24M92 494.05v-1.34M95 494.05v-2.56M95.5 494.05v-0.94M96.5 494.05v-1.22M97.5 494.05v-0.85M98 494.05v-1.53M99.5 494.05v-0.47M101.5 494.05v-0.91M102 494.05v-0.9M103 494.05v-0.93M104 494.05v-2.31M104.5 494.05v-1.27M105 494.05v-1.99M106.5 494.05v-1.02M108.5 494.05v-0.61M109 494.05v-0.53M109.5 494.05v-1.07M110 494.05v-0.83M110.5 494.05v-1M111.5 494.05v-0.54M112.5 494.05v-0.42M113 494.05v-0.5M115 494.05v-0.95M116 494.05v-0.53M117.5 494.05v-0.77M118 494.05v-0.81M118.5 494.05v-1.09M123.5 494.05v-0.44M126 494.05v-0.51M128 494.05v-0.65M128.5 494.05v-0.76M130.5 494.05v-1.28M131 494.05v-1.05M132 494.05v-0.86M133 494.05v-0.89M136.5 494.05v-0.9M137 494.05v-0.52M137.5 494.05v-0.61M138.5 494.05v-0.93M139 494.05v-0.98M139.5 494.05v-1.49M140.5 494.05v-1.1M143 494.05v-0.72M145 494.05v-1.08M149.5 494.05v-1.02M155 494.05v-0.52M155.5 494.05v-0.77M157.5 494.05v-0.66M158 494.05v-0.72M160.5 494.05v-0.64M162 494.05v-0.65M164 494.05v-0.93M170 494.05v-0.54M174.5 494.05v-1.02M178.5 494.05v-0.47M182 494.05v-0.97M182.5 494.05v-0.99M183.5 494.05v-1.09M184.5 494.05v-0.86M185.5 494.05v-0.54M186 494.05v-0.87M191 494.05v-0.59M194 494.05v-0.76M196 494.05v-0.45M198.5 494.05v-0.45M200 494.05v-0.7M200.5 494.05v-0.94M209.5 494.05v-0.65M212 494.05v-0.96M213.5 494.05v-0.65M215 494.05v-1.09M216 494.05v-0.41M218.5 494.05v-0.73M221 494.05v-0.61M223 494.05v-1.02M226 494.05v-0.59M231 494.05v-0.58M233.5 494.05v-0.45M234 494.05v-0.84M236.5 494.05v-0.46M237 494.05v-0.8M238 494.05v-1.06M238.5 494.05v-0.76M239.5 494.05v-0.59M242 494.05v-0.44M243 494.05v-0.65M244 494.05v-1M247 494.05v-0.57M253.5 494.05v-0.59M257 494.05v-0.53M259.5 494.05v-0.41M262.5 494.05v-0.7M263 494.05v-0.68M263.5 494.05v-0.72M266 494.05v-0.6M267.5 494.05v-0.85M269.5 494.05v-1.04M271.5 494.05v-0.9M273 494.05v-1.04M280 494.05v-0.95M282.5 494.05v-0.67M283 494.05v-0.85M283.5 494.05v-0.65M286.5 494.05v-1.07M288 494.05v-0.93M294 494.05v-0.74M295 494.05v-0.46M301 494.05v-0.85M302 494.05v-0.63M303 494.05v-1.02M306 494.05v-0.48M310 494.05v-0.59M311.5 494.05v-0.75M314 494.05v-0.56M319.5 494.05v-0.74M320 494.05v-0.56M324 494.05v-0.59M325 494.05v-0.41M331 494.05v-0.43M335 494.05v-0.69M335.5 494.05v-0.53M336.5 494.05v-0.79M338.5 494.05v-0.8M340 494.05v-0.63M345.5 494.05v-1.06M346.5 494.05v-0.53M347.5 494.05v-0.87M352.5 494.05v-0.63M354 494.05v-1.01M355.5 494.05v-1.05M357 494.05v-1M357.5 494.05v-0.77M359.5 494.05v-0.76M361 494.05v-0.44M364 494.05v-0.71M365.5 494.05v-1.08M367.5 494.05v-0.81M369.5 494.05v-0.52M372.5 494.05v-0.75M373.5 494.05v-1.04" fill="none" stroke="#2a22d6" stroke-width="0.55"/>
<path d="M111.6 494.05v-0.51M112.2 494.05v-0.86M112.8 494.05v-1.56M113.3 494.05v-4.18M113.75 494.05v-7.1M114.2 494.05v-7.03M114.7 494.05v-3.31M115.2 494.05v-2.12M115.7 494.05v-1.69M116.2 494.05v-2.46M116.7 494.05v-2.14M117.2 494.05v-1.46M117.7 494.05v-2.15M118.2 494.05v-3.52M118.7 494.05v-4.24M119.2 494.05v-2.3M119.8 494.05v-1.3M120.4 494.05v-1.61M121 494.05v-0.98M121.6 494.05v-0.77M122.2 494.05v-0.55" fill="none" stroke="#2a22d6" stroke-width="0.75"/>
<line x1="60" y1="495" x2="376.25" y2="495" stroke="#dcdcdc" stroke-width="0.5"/>
<text x="62" y="499" font-size="3.4" font-weight="bold" fill="#111" class="s">[0 - 50]</text>
<line x1="60" y1="514" x2="376.25" y2="514" stroke="#2a22d6" stroke-width="0.25" stroke-opacity="0.25"/>
<path d="M63 514.05v-0.82M65.5 514.05v-0.48M66.5 514.05v-0.87M67.5 514.05v-0.54M68.5 514.05v-0.84M69 514.05v-1.07M69.5 514.05v-0.75M70.5 514.05v-0.85M71 514.05v-1.07M71.5 514.05v-0.53M73.5 514.05v-0.74M74 514.05v-0.87M74.5 514.05v-1.07M75 514.05v-0.44M75.5 514.05v-0.63M76 514.05v-1.07M77 514.05v-0.58M77.5 514.05v-0.49M78.5 514.05v-2.04M79.5 514.05v-0.93M80 514.05v-1.08M81.5 514.05v-0.56M82.5 514.05v-1.08M84 514.05v-1.02M84.5 514.05v-1.52M85 514.05v-1.03M86 514.05v-0.93M86.5 514.05v-2.52M90 514.05v-0.96M90.5 514.05v-1.2M92.5 514.05v-0.56M93.5 514.05v-1.05M96 514.05v-0.85M96.5 514.05v-0.85M97 514.05v-1M97.5 514.05v-0.51M99.5 514.05v-1.01M102 514.05v-0.83M104.5 514.05v-0.86M105 514.05v-0.65M105.5 514.05v-0.77M106 514.05v-0.54M106.5 514.05v-0.82M107 514.05v-0.94M108.5 514.05v-0.78M110.5 514.05v-0.92M113.5 514.05v-0.76M115 514.05v-0.87M115.5 514.05v-0.48M116 514.05v-0.47M117.5 514.05v-1M118 514.05v-0.57M118.5 514.05v-0.42M120 514.05v-0.97M120.5 514.05v-0.55M121 514.05v-0.52M122 514.05v-0.71M122.5 514.05v-0.42M123 514.05v-0.95M123.5 514.05v-0.72M124 514.05v-0.96M124.5 514.05v-0.73M126 514.05v-0.51M126.5 514.05v-0.71M127.5 514.05v-0.57M128 514.05v-0.43M128.5 514.05v-1.09M129 514.05v-0.86M129.5 514.05v-1.05M130 514.05v-1.27M130.5 514.05v-1.59M132.5 514.05v-0.94M133.5 514.05v-0.54M134 514.05v-0.61M134.5 514.05v-0.82M136.5 514.05v-0.57M138 514.05v-0.54M139.5 514.05v-1.41M142.5 514.05v-0.96M145 514.05v-1.08M149.5 514.05v-0.99M153.5 514.05v-0.79M154.5 514.05v-0.52M155 514.05v-0.69M157 514.05v-0.64M158.5 514.05v-1M160.5 514.05v-0.83M164.5 514.05v-0.77M165.5 514.05v-0.89M167 514.05v-0.56M167.5 514.05v-1.04M169 514.05v-0.64M170.5 514.05v-1.05M171 514.05v-0.42M171.5 514.05v-0.41M174 514.05v-0.92M174.5 514.05v-0.63M181 514.05v-0.41M184.5 514.05v-0.73M186 514.05v-1.1M190 514.05v-0.95M190.5 514.05v-0.9M191.5 514.05v-0.5M193.5 514.05v-0.74M196 514.05v-0.97M201.5 514.05v-0.77M202.5 514.05v-0.74M205 514.05v-1.06M209 514.05v-0.58M209.5 514.05v-0.42M213 514.05v-0.62M219.5 514.05v-0.69M220 514.05v-0.65M221.5 514.05v-0.7M225 514.05v-0.95M236.5 514.05v-0.63M237 514.05v-1.04M242 514.05v-0.71M244 514.05v-1.07M246.5 514.05v-0.68M247 514.05v-0.68M248.5 514.05v-0.57M249.5 514.05v-0.43M250.5 514.05v-1.02M254 514.05v-0.79M255.5 514.05v-0.75M256 514.05v-0.58M258 514.05v-0.73M258.5 514.05v-0.89M259 514.05v-1.05M264 514.05v-0.56M265.5 514.05v-0.89M271.5 514.05v-0.51M273 514.05v-0.57M275 514.05v-0.42M276 514.05v-1.02M281 514.05v-1.07M281.5 514.05v-0.51M284.5 514.05v-0.91M285.5 514.05v-0.92M286.5 514.05v-0.82M288 514.05v-1.03M290 514.05v-1.07M293 514.05v-0.94M297.5 514.05v-0.54M298 514.05v-0.96M300.5 514.05v-0.63M302 514.05v-0.7M303.5 514.05v-0.85M309.5 514.05v-0.98M310.5 514.05v-0.64M315.5 514.05v-0.95M316 514.05v-0.95M322 514.05v-0.97M325 514.05v-0.47M326 514.05v-1.08M326.5 514.05v-0.87M328 514.05v-0.8M330.5 514.05v-1.01M332.5 514.05v-0.69M334.5 514.05v-0.82M335.5 514.05v-0.88M336.5 514.05v-0.47M340.5 514.05v-0.82M341 514.05v-1.01M345 514.05v-0.58M348 514.05v-0.72M349.5 514.05v-0.96M350.5 514.05v-0.97M351 514.05v-0.87M352 514.05v-0.92M352.5 514.05v-0.81M354.5 514.05v-0.61M355 514.05v-0.69M355.5 514.05v-0.42M357 514.05v-0.86M360 514.05v-0.78M364.5 514.05v-1.04M365.5 514.05v-0.74M367 514.05v-0.78M376.5 514.05v-1.07" fill="none" stroke="#2a22d6" stroke-width="0.55"/>
<path d="M111.6 514.05v-0.72M112.2 514.05v-0.97M112.8 514.05v-1.83M113.3 514.05v-4.1M113.75 514.05v-9M114.2 514.05v-7.61M114.7 514.05v-4.22M115.2 514.05v-2.29M115.7 514.05v-1.91M116.2 514.05v-2.69M116.7 514.05v-2.39M117.2 514.05v-1.99M117.7 514.05v-2.57M118.2 514.05v-4.64M118.7 514.05v-5.05M119.2 514.05v-2.36M119.8 514.05v-1.61M120.4 514.05v-1.86M121 514.05v-1.07M121.6 514.05v-0.79M122.2 514.05v-0.62" fill="none" stroke="#2a22d6" stroke-width="0.75"/>
<line x1="60" y1="515" x2="376.25" y2="515" stroke="#dcdcdc" stroke-width="0.5"/>
<text x="62" y="519" font-size="3.4" font-weight="bold" fill="#111" class="s">[0 - 50]</text>
<line x1="60" y1="534" x2="376.25" y2="534" stroke="#b8202a" stroke-width="0.25" stroke-opacity="0.25"/>
<path d="M60.5 534.05v-0.72M61 534.05v-0.79M61.5 534.05v-0.45M62.5 534.05v-0.42M63 534.05v-0.95M63.5 534.05v-1.06M64 534.05v-0.69M66 534.05v-0.88M66.5 534.05v-0.8M67.5 534.05v-0.86M68 534.05v-0.94M68.5 534.05v-0.76M72.5 534.05v-0.95M74 534.05v-0.43M74.5 534.05v-0.9M75 534.05v-0.67M75.5 534.05v-0.82M77 534.05v-0.85M77.5 534.05v-0.66M78 534.05v-0.9M78.5 534.05v-2.23M79 534.05v-0.94M79.5 534.05v-0.9M80 534.05v-0.59M81.5 534.05v-0.94M82.5 534.05v-0.83M83 534.05v-0.67M83.5 534.05v-0.79M84 534.05v-1.8M85 534.05v-1.26M85.5 534.05v-1.17M86 534.05v-0.93M86.5 534.05v-2.49M87 534.05v-1.07M88.5 534.05v-0.67M89.5 534.05v-0.76M90 534.05v-0.96M90.5 534.05v-1.9M91 534.05v-0.56M91.5 534.05v-1.84M92 534.05v-2.1M93 534.05v-1.64M93.5 534.05v-1.27M94 534.05v-1.01M96 534.05v-0.54M96.5 534.05v-2.17M97 534.05v-1.86M97.5 534.05v-0.59M99.5 534.05v-0.69M100 534.05v-0.44M100.5 534.05v-2.3M101 534.05v-2.45M101.5 534.05v-0.99M102 534.05v-1.93M102.5 534.05v-1.01M103 534.05v-0.6M104 534.05v-0.98M106 534.05v-1.06M107.5 534.05v-1.07M108.5 534.05v-0.63M109.5 534.05v-0.97M110 534.05v-0.89M111 534.05v-0.58M111.5 534.05v-0.68M112 534.05v-1.04M113.5 534.05v-0.55M116 534.05v-0.89M116.5 534.05v-0.79M117.5 534.05v-0.59M118 534.05v-0.56M119 534.05v-0.43M120.5 534.05v-0.6M122.5 534.05v-0.94M123 534.05v-0.63M124 534.05v-1.29M125 534.05v-1.08M125.5 534.05v-0.66M127.5 534.05v-1.21M128 534.05v-0.45M128.5 534.05v-0.96M129 534.05v-0.77M130 534.05v-0.57M131.5 534.05v-0.43M132.5 534.05v-0.74M133 534.05v-1.42M133.5 534.05v-1.19M134.5 534.05v-1.06M135.5 534.05v-0.73M136 534.05v-0.98M137.5 534.05v-0.89M139 534.05v-1.04M139.5 534.05v-0.77M140.5 534.05v-0.59M143 534.05v-0.51M144 534.05v-0.78M148 534.05v-1.08M150 534.05v-0.46M151 534.05v-1.04M154.5 534.05v-0.91M155.5 534.05v-0.66M159 534.05v-0.88M159.5 534.05v-0.75M160 534.05v-0.84M160.5 534.05v-0.6M164.5 534.05v-0.95M165 534.05v-0.99M165.5 534.05v-0.67M169 534.05v-0.47M173 534.05v-0.48M173.5 534.05v-0.68M174.5 534.05v-0.76M179.5 534.05v-0.77M180.5 534.05v-0.69M183.5 534.05v-0.88M185.5 534.05v-0.91M188 534.05v-1.06M193 534.05v-1.06M194.5 534.05v-0.66M195 534.05v-0.81M195.5 534.05v-0.87M198 534.05v-0.74M200 534.05v-0.69M202 534.05v-0.71M202.5 534.05v-0.65M206 534.05v-0.63M208.5 534.05v-0.85M210 534.05v-0.66M212 534.05v-1.03M215.5 534.05v-0.54M218 534.05v-1.08M225.5 534.05v-0.95M230 534.05v-1.03M231 534.05v-0.96M233 534.05v-0.71M233.5 534.05v-0.87M235 534.05v-0.77M235.5 534.05v-0.5M236 534.05v-0.98M238.5 534.05v-0.44M241 534.05v-0.74M242 534.05v-0.5M244 534.05v-0.58M249 534.05v-0.48M250 534.05v-0.53M253 534.05v-0.69M253.5 534.05v-0.6M257 534.05v-0.57M261 534.05v-0.87M267.5 534.05v-0.97M269 534.05v-0.44M270 534.05v-0.63M270.5 534.05v-0.75M271 534.05v-0.44M272 534.05v-0.66M272.5 534.05v-0.98M276 534.05v-0.74M280 534.05v-0.57M281.5 534.05v-0.97M282 534.05v-0.81M283.5 534.05v-0.62M285.5 534.05v-0.93M290.5 534.05v-0.88M291 534.05v-0.59M292 534.05v-0.87M296 534.05v-0.75M298.5 534.05v-0.78M299 534.05v-0.84M301.5 534.05v-0.8M306 534.05v-0.91M306.5 534.05v-0.41M307 534.05v-0.44M310.5 534.05v-0.51M312 534.05v-0.69M312.5 534.05v-0.79M317 534.05v-0.94M317.5 534.05v-0.61M319 534.05v-0.49M322 534.05v-0.48M324 534.05v-0.69M325.5 534.05v-0.85M326 534.05v-0.75M327 534.05v-0.81M327.5 534.05v-0.6M329 534.05v-0.62M331 534.05v-0.84M331.5 534.05v-0.44M332 534.05v-0.95M332.5 534.05v-0.69M333.5 534.05v-0.5M335.5 534.05v-0.77M336 534.05v-1.09M337.5 534.05v-0.73M338.5 534.05v-0.55M341 534.05v-0.62M343.5 534.05v-0.95M344 534.05v-1.04M347 534.05v-0.68M348 534.05v-0.77M350.5 534.05v-0.58M351 534.05v-0.92M352 534.05v-0.44M353 534.05v-0.7M353.5 534.05v-0.8M357 534.05v-0.52M359 534.05v-0.77M359.5 534.05v-0.8M362.5 534.05v-0.76M363 534.05v-0.69M363.5 534.05v-1.08M364.5 534.05v-1.03M368.5 534.05v-0.9M371 534.05v-0.42M375.5 534.05v-0.87" fill="none" stroke="#b8202a" stroke-width="0.55"/>
<path d="M111.6 534.05v-1.22M112.2 534.05v-1.68M112.8 534.05v-3.16M113.3 534.05v-7.72M113.75 534.05v-15.76M114.2 534.05v-13.55M114.7 534.05v-7.59M115.2 534.05v-4.44M115.7 534.05v-3.65M116.2 534.05v-5.15M116.7 534.05v-4.21M117.2 534.05v-3.17M117.7 534.05v-4.2M118.2 534.05v-7.92M118.7 534.05v-8.44M119.2 534.05v-4.65M119.8 534.05v-3.15M120.4 534.05v-3.36M121 534.05v-2.19M121.6 534.05v-1.57M122.2 534.05v-1.22" fill="none" stroke="#b8202a" stroke-width="0.75"/>
<rect x="113" y="537" width="8.8" height="4.75" fill="#c0202c"/>
<line x1="60" y1="542.5" x2="376.25" y2="542.5" stroke="#dcdcdc" stroke-width="0.5"/>
<text x="62" y="546.5" font-size="3.4" font-weight="bold" fill="#111" class="s">[0 - 50]</text>
<line x1="60" y1="560.25" x2="376.25" y2="560.25" stroke="#b8202a" stroke-width="0.25" stroke-opacity="0.25"/>
<path d="M60.5 560.3v-0.85M61 560.3v-0.73M61.5 560.3v-0.89M62.5 560.3v-0.81M63.5 560.3v-0.58M64 560.3v-1.01M64.5 560.3v-0.54M65.5 560.3v-0.5M66 560.3v-0.51M66.5 560.3v-0.94M67 560.3v-1.04M67.5 560.3v-0.59M68.5 560.3v-0.73M69 560.3v-0.82M70 560.3v-1.04M70.5 560.3v-0.86M71 560.3v-0.94M71.5 560.3v-1M72 560.3v-0.58M72.5 560.3v-0.84M73 560.3v-0.96M73.5 560.3v-1.05M74.5 560.3v-0.85M75.5 560.3v-0.92M76.5 560.3v-0.59M77.5 560.3v-0.53M78 560.3v-1.09M78.5 560.3v-1.73M80.5 560.3v-0.64M81 560.3v-0.76M82.5 560.3v-1.49M83 560.3v-0.66M83.5 560.3v-0.55M84.5 560.3v-0.49M86 560.3v-0.48M87 560.3v-0.95M87.5 560.3v-2.36M88 560.3v-1.49M89 560.3v-0.5M90.5 560.3v-0.98M91 560.3v-1.46M91.5 560.3v-0.84M92 560.3v-0.56M92.5 560.3v-1.08M93 560.3v-1.38M94 560.3v-2.37M94.5 560.3v-1.53M95 560.3v-1.72M97 560.3v-0.85M97.5 560.3v-0.76M98 560.3v-2.2M98.5 560.3v-1.98M100.5 560.3v-0.71M101 560.3v-2.37M102.5 560.3v-0.68M103 560.3v-0.95M104.5 560.3v-0.48M105 560.3v-1.03M106 560.3v-0.96M107.5 560.3v-0.54M108.5 560.3v-0.93M109.5 560.3v-0.45M110 560.3v-0.7M112 560.3v-0.57M112.5 560.3v-0.51M113 560.3v-0.42M113.5 560.3v-0.64M114 560.3v-0.59M115 560.3v-0.51M115.5 560.3v-0.57M116 560.3v-0.67M116.5 560.3v-0.84M117 560.3v-1.04M118 560.3v-0.91M118.5 560.3v-0.6M119.5 560.3v-0.92M121 560.3v-0.67M121.5 560.3v-1.01M122.5 560.3v-1.83M123 560.3v-0.42M124 560.3v-1.19M126 560.3v-1.25M127 560.3v-0.49M128 560.3v-0.97M128.5 560.3v-0.67M129 560.3v-0.92M131.5 560.3v-0.76M132.5 560.3v-0.88M134.5 560.3v-1.08M135 560.3v-1.53M137 560.3v-0.71M138.5 560.3v-0.88M139.5 560.3v-1.3M147 560.3v-0.43M147.5 560.3v-0.79M148.5 560.3v-0.43M149 560.3v-0.81M151.5 560.3v-0.43M153.5 560.3v-0.88M155 560.3v-0.59M155.5 560.3v-1.09M156.5 560.3v-0.97M157 560.3v-0.46M158 560.3v-0.72M161 560.3v-0.85M162 560.3v-1.06M162.5 560.3v-0.68M165 560.3v-0.98M166 560.3v-0.58M167.5 560.3v-0.49M169 560.3v-0.51M170 560.3v-0.88M174.5 560.3v-0.4M177.5 560.3v-0.81M179 560.3v-1.07M179.5 560.3v-1.09M181.5 560.3v-0.41M182.5 560.3v-0.52M183 560.3v-0.79M184.5 560.3v-0.99M185.5 560.3v-0.66M189 560.3v-0.44M190 560.3v-1.05M192 560.3v-0.97M194.5 560.3v-1.08M196.5 560.3v-0.76M201.5 560.3v-1.06M204 560.3v-0.99M209.5 560.3v-1.03M210.5 560.3v-0.89M211 560.3v-0.74M214.5 560.3v-0.67M215 560.3v-0.48M216 560.3v-0.53M216.5 560.3v-0.78M217.5 560.3v-1.1M220 560.3v-0.91M221 560.3v-0.61M225.5 560.3v-0.93M226.5 560.3v-0.64M229 560.3v-0.78M230.5 560.3v-0.47M233.5 560.3v-0.72M234.5 560.3v-0.57M235.5 560.3v-0.77M237 560.3v-0.97M238 560.3v-0.83M238.5 560.3v-0.55M239.5 560.3v-1.06M240 560.3v-0.82M240.5 560.3v-1.1M242 560.3v-0.65M244.5 560.3v-0.59M246 560.3v-0.47M248 560.3v-0.73M250 560.3v-0.45M251 560.3v-0.76M253 560.3v-0.89M253.5 560.3v-0.75M254 560.3v-0.68M257.5 560.3v-0.42M259.5 560.3v-1.08M260 560.3v-0.58M263.5 560.3v-0.79M267 560.3v-0.98M268 560.3v-0.97M268.5 560.3v-0.46M273.5 560.3v-0.46M275.5 560.3v-1.06M276.5 560.3v-0.85M279 560.3v-0.54M280 560.3v-0.74M281.5 560.3v-0.42M282 560.3v-0.88M285.5 560.3v-0.91M286 560.3v-0.88M287 560.3v-0.53M287.5 560.3v-0.66M290 560.3v-0.55M291.5 560.3v-1.06M292 560.3v-0.96M294 560.3v-0.58M296 560.3v-0.68M297.5 560.3v-0.55M299 560.3v-0.62M302.5 560.3v-1.01M303 560.3v-0.4M304.5 560.3v-0.93M305 560.3v-1.04M308 560.3v-0.52M310 560.3v-0.56M311 560.3v-0.5M311.5 560.3v-0.99M312.5 560.3v-0.78M315 560.3v-0.82M316.5 560.3v-0.54M318 560.3v-0.93M320 560.3v-0.91M321.5 560.3v-0.8M325.5 560.3v-1.03M328.5 560.3v-0.48M334.5 560.3v-0.64M335 560.3v-0.86M340 560.3v-0.83M343 560.3v-0.98M347.5 560.3v-0.82M350.5 560.3v-0.48M353.5 560.3v-0.84M355.5 560.3v-0.54M363 560.3v-0.41M363.5 560.3v-0.86M364.5 560.3v-0.49M365 560.3v-0.8M367 560.3v-0.54M370 560.3v-0.73M371.5 560.3v-1.07M373.5 560.3v-0.42M376 560.3v-1.02M376.5 560.3v-0.6" fill="none" stroke="#b8202a" stroke-width="0.55"/>
<path d="M111.6 560.3v-1.28M112.2 560.3v-1.65M112.8 560.3v-3.49M113.3 560.3v-8.74M113.75 560.3v-16.22M114.2 560.3v-15.27M114.7 560.3v-7.83M115.2 560.3v-4.2M115.7 560.3v-3.46M116.2 560.3v-4.4M116.7 560.3v-4.04M117.2 560.3v-3.18M117.7 560.3v-4.94M118.2 560.3v-8.83M118.7 560.3v-8.27M119.2 560.3v-4.47M119.8 560.3v-3.18M120.4 560.3v-3.23M121 560.3v-2.11M121.6 560.3v-1.61M122.2 560.3v-1.3" fill="none" stroke="#b8202a" stroke-width="0.75"/>
<rect x="113" y="563.75" width="8.8" height="4.25" fill="#c0202c"/>
<line x1="60" y1="568.75" x2="376.25" y2="568.75" stroke="#dcdcdc" stroke-width="0.5"/>
<text x="62" y="572.75" font-size="3.4" font-weight="bold" fill="#111" class="s">[0 - 50]</text>
<line x1="60" y1="586.5" x2="376.25" y2="586.5" stroke="#b8202a" stroke-width="0.25" stroke-opacity="0.25"/>
<path d="M60.5 586.55v-0.97M61 586.55v-0.42M61.5 586.55v-1.02M62 586.55v-0.52M63 586.55v-1.04M63.5 586.55v-0.44M64.5 586.55v-1.06M66 586.55v-0.9M70.5 586.55v-0.61M71 586.55v-0.42M74.5 586.55v-0.54M76.5 586.55v-0.92M77 586.55v-0.98M78 586.55v-0.59M78.5 586.55v-0.66M79 586.55v-1.06M79.5 586.55v-1.08M80.5 586.55v-2.17M81 586.55v-0.57M82.5 586.55v-0.8M83 586.55v-1.69M83.5 586.55v-2.15M84 586.55v-1.74M85 586.55v-1.5M87 586.55v-1.12M87.5 586.55v-0.88M88 586.55v-1.9M89 586.55v-0.94M90 586.55v-1.57M90.5 586.55v-0.49M91 586.55v-1.25M91.5 586.55v-0.92M95.5 586.55v-1.42M96 586.55v-0.67M96.5 586.55v-0.87M97.5 586.55v-0.67M98 586.55v-1.08M98.5 586.55v-1.86M99.5 586.55v-1.38M100 586.55v-0.82M100.5 586.55v-0.5M101 586.55v-0.91M102 586.55v-0.55M102.5 586.55v-0.82M103 586.55v-1.03M104.5 586.55v-1.13M105 586.55v-0.82M105.5 586.55v-0.79M106 586.55v-0.54M106.5 586.55v-0.47M107 586.55v-0.63M107.5 586.55v-0.67M109 586.55v-0.47M110 586.55v-0.97M110.5 586.55v-1.09M111 586.55v-0.78M111.5 586.55v-0.52M112 586.55v-1.06M114.5 586.55v-1.05M115 586.55v-1.04M115.5 586.55v-0.81M117 586.55v-0.64M118 586.55v-0.61M119.5 586.55v-0.52M120 586.55v-1.09M120.5 586.55v-0.92M121 586.55v-0.7M123 586.55v-0.52M123.5 586.55v-1.51M124 586.55v-0.66M124.5 586.55v-1.78M125 586.55v-0.42M125.5 586.55v-0.72M129.5 586.55v-0.76M130 586.55v-0.76M130.5 586.55v-1.03M131 586.55v-0.65M131.5 586.55v-1.13M132.5 586.55v-1.44M133.5 586.55v-0.97M134 586.55v-0.48M134.5 586.55v-1.56M135 586.55v-0.78M135.5 586.55v-0.8M136.5 586.55v-0.64M137.5 586.55v-0.69M139.5 586.55v-1.72M143.5 586.55v-0.81M147.5 586.55v-0.5M152 586.55v-0.92M158 586.55v-0.44M159.5 586.55v-1.01M162.5 586.55v-0.87M165.5 586.55v-0.53M166.5 586.55v-0.75M167 586.55v-1.09M169 586.55v-0.77M170 586.55v-0.57M171 586.55v-1.03M172.5 586.55v-1M173.5 586.55v-0.52M174 586.55v-0.94M179.5 586.55v-0.72M180.5 586.55v-0.71M181 586.55v-0.71M182 586.55v-0.82M182.5 586.55v-0.75M184.5 586.55v-1.08M186 586.55v-0.93M191.5 586.55v-0.93M194 586.55v-0.75M196 586.55v-0.51M199.5 586.55v-0.74M201 586.55v-0.47M201.5 586.55v-0.86M208 586.55v-0.62M208.5 586.55v-0.48M209 586.55v-0.66M211 586.55v-0.6M211.5 586.55v-1.03M212 586.55v-0.84M213 586.55v-0.98M216 586.55v-1.01M219 586.55v-0.74M221.5 586.55v-0.54M222 586.55v-0.81M223 586.55v-0.72M225 586.55v-0.75M229 586.55v-0.84M231 586.55v-1.02M231.5 586.55v-0.67M232 586.55v-0.71M233 586.55v-0.87M233.5 586.55v-0.55M236 586.55v-0.47M237 586.55v-0.88M238.5 586.55v-1.07M239.5 586.55v-1.09M245 586.55v-0.84M250 586.55v-0.41M250.5 586.55v-0.49M251 586.55v-0.5M251.5 586.55v-0.59M254 586.55v-1.02M254.5 586.55v-0.82M255 586.55v-0.9M257 586.55v-0.93M260 586.55v-0.82M261 586.55v-0.92M262 586.55v-0.64M268.5 586.55v-1.01M270 586.55v-0.84M273 586.55v-0.84M274.5 586.55v-0.64M278.5 586.55v-0.94M279.5 586.55v-0.52M280 586.55v-0.88M282 586.55v-0.77M282.5 586.55v-0.62M285 586.55v-0.92M286.5 586.55v-0.56M288.5 586.55v-0.69M290.5 586.55v-1.06M291 586.55v-0.9M294 586.55v-0.93M295 586.55v-0.43M296 586.55v-0.52M297.5 586.55v-0.53M299.5 586.55v-0.95M300 586.55v-0.67M300.5 586.55v-0.91M303 586.55v-0.41M309 586.55v-0.79M312.5 586.55v-0.92M314 586.55v-0.74M317.5 586.55v-0.9M319 586.55v-0.66M320 586.55v-0.75M321 586.55v-0.45M321.5 586.55v-0.72M326.5 586.55v-0.82M327 586.55v-0.84M328.5 586.55v-0.76M329 586.55v-0.67M330 586.55v-1.05M334 586.55v-0.96M336 586.55v-0.54M336.5 586.55v-0.6M340 586.55v-0.69M341 586.55v-0.8M342 586.55v-0.61M342.5 586.55v-0.64M343 586.55v-0.45M344 586.55v-0.45M345 586.55v-0.94M347 586.55v-0.42M350 586.55v-0.81M352.5 586.55v-0.71M353 586.55v-0.61M353.5 586.55v-0.67M354 586.55v-0.61M354.5 586.55v-1.08M361 586.55v-1.01M361.5 586.55v-1.1M363.5 586.55v-0.71M364.5 586.55v-0.88M370.5 586.55v-0.42M371 586.55v-0.9M371.5 586.55v-0.94M372 586.55v-0.95M373 586.55v-0.82M374 586.55v-0.69M374.5 586.55v-1.07" fill="none" stroke="#b8202a" stroke-width="0.55"/>
<path d="M111.6 586.55v-1.31M112.2 586.55v-1.76M112.8 586.55v-3.25M113.3 586.55v-8.8M113.75 586.55v-15.71M114.2 586.55v-14.77M114.7 586.55v-7.96M115.2 586.55v-4.89M115.7 586.55v-3.41M116.2 586.55v-4.87M116.7 586.55v-4M117.2 586.55v-3.58M117.7 586.55v-4.07M118.2 586.55v-8.08M118.7 586.55v-8.95M119.2 586.55v-4.12M119.8 586.55v-2.9M120.4 586.55v-3.22M121 586.55v-1.93M121.6 586.55v-1.58M122.2 586.55v-1.16" fill="none" stroke="#b8202a" stroke-width="0.75"/>
<rect x="113" y="589.5" width="8.8" height="4.75" fill="#c0202c"/>
<line x1="60" y1="595" x2="376.25" y2="595" stroke="#e4e4e4" stroke-width="0.5"/>
<text font-size="11" text-anchor="middle" fill="#111" transform="translate(41.5 492) rotate(-90)">Control</text>
<text font-size="11.3" text-anchor="middle" fill="#111" transform="translate(41.5 557) rotate(-90)">TM</text>
<clipPath id="ce1"><rect x="491.5" y="492.5" width="166.5" height="25.75"/></clipPath>
<rect x="491.5" y="492.5" width="166.5" height="25.75" fill="#f9f9f9"/>
<g clip-path="url(#ce1)">
<ellipse cx="509.5" cy="508" rx="13.5" ry="4.35" fill="#000" fill-opacity="0.22" filter="url(#b3)"/>
<path d="M497.5 508C497.5 506.82 499.18 506.02 509.5 505.85C519.82 506.02 521.5 506.82 521.5 508C521.5 509.18 519.82 509.98 509.5 510.15C499.18 509.98 497.5 509.18 497.5 508Z" fill="#000" fill-opacity="1" filter="url(#b1)"/>
<ellipse cx="542" cy="508" rx="13" ry="4.35" fill="#000" fill-opacity="0.22" filter="url(#b3)"/>
<path d="M530.5 508C530.5 506.82 532.11 506.02 542 505.85C551.89 506.02 553.5 506.82 553.5 508C553.5 509.18 551.89 509.98 542 510.15C532.11 509.98 530.5 509.18 530.5 508Z" fill="#000" fill-opacity="1" filter="url(#b1)"/>
<ellipse cx="575.25" cy="508" rx="13.25" ry="4.45" fill="#000" fill-opacity="0.22" filter="url(#b3)"/>
<path d="M563.5 508C563.5 506.76 565.14 505.93 575.25 505.75C585.36 505.93 587 506.76 587 508C587 509.24 585.36 510.07 575.25 510.25C565.14 510.07 563.5 509.24 563.5 508Z" fill="#000" fill-opacity="1" filter="url(#b1)"/>
<ellipse cx="607.5" cy="508" rx="12.5" ry="3.85" fill="#000" fill-opacity="0.22" filter="url(#b3)"/>
<path d="M596.5 508C596.5 507.09 598.04 506.48 607.5 506.35C616.96 506.48 618.5 507.09 618.5 508C618.5 508.91 616.96 509.52 607.5 509.65C598.04 509.52 596.5 508.91 596.5 508Z" fill="#000" fill-opacity="0.97" filter="url(#b1)"/>
<ellipse cx="641.25" cy="508" rx="12.25" ry="3.65" fill="#000" fill-opacity="0.22" filter="url(#b3)"/>
<path d="M630.5 508C630.5 507.2 632 506.67 641.25 506.55C650.5 506.67 652 507.2 652 508C652 508.8 650.5 509.33 641.25 509.45C632 509.33 630.5 508.8 630.5 508Z" fill="#000" fill-opacity="0.93" filter="url(#b1)"/>
</g>
<rect x="491.5" y="492.5" width="166.5" height="25.75" fill="none" stroke="#111" stroke-width="0.9"/>
<clipPath id="ce2"><rect x="491.5" y="524.25" width="166.5" height="25"/></clipPath>
<rect x="491.5" y="524.25" width="166.5" height="25" fill="#f9f9f9"/>
<g clip-path="url(#ce2)">
<ellipse cx="511" cy="538.2" rx="17.5" ry="8.45" fill="#000" fill-opacity="0.22" filter="url(#b3)"/>
<path d="M495 538.2C495 533.51 497.24 532.45 511 531.95C524.76 532.45 527 533.51 527 538.2C527 542.89 524.76 543.95 511 544.45C497.24 543.95 495 542.89 495 538.2Z" fill="#000" fill-opacity="1" filter="url(#b4)"/>
<ellipse cx="543.25" cy="538.2" rx="16.75" ry="8.45" fill="#000" fill-opacity="0.22" filter="url(#b3)"/>
<path d="M528 538.2C528 533.51 530.13 532.45 543.25 531.95C556.37 532.45 558.5 533.51 558.5 538.2C558.5 542.89 556.37 543.95 543.25 544.45C530.13 543.95 528 542.89 528 538.2Z" fill="#000" fill-opacity="1" filter="url(#b4)"/>
<ellipse cx="574.25" cy="538.2" rx="16.75" ry="8.45" fill="#000" fill-opacity="0.22" filter="url(#b3)"/>
<path d="M559 538.2C559 533.51 561.13 532.45 574.25 531.95C587.37 532.45 589.5 533.51 589.5 538.2C589.5 542.89 587.37 543.95 574.25 544.45C561.13 543.95 559 542.89 559 538.2Z" fill="#000" fill-opacity="1" filter="url(#b4)"/>
<ellipse cx="604.75" cy="538.2" rx="15.75" ry="8.2" fill="#000" fill-opacity="0.22" filter="url(#b3)"/>
<path d="M590.5 538.2C590.5 533.7 592.5 532.68 604.75 532.2C617 532.68 619 533.7 619 538.2C619 542.7 617 543.72 604.75 544.2C592.5 543.72 590.5 542.7 590.5 538.2Z" fill="#000" fill-opacity="1" filter="url(#b4)"/>
<ellipse cx="637.5" cy="538.2" rx="18.5" ry="7.7" fill="#000" fill-opacity="0.22" filter="url(#b3)"/>
<path d="M620.5 538.2C620.5 534.08 622.88 533.14 637.5 532.7C652.12 533.14 654.5 534.08 654.5 538.2C654.5 542.33 652.12 543.26 637.5 543.7C622.88 543.26 620.5 542.33 620.5 538.2Z" fill="#000" fill-opacity="1" filter="url(#b4)"/>
<rect x="497" y="536.5" width="155" height="4" fill="#000" filter="url(#b2)"/>
</g>
<rect x="491.5" y="524.25" width="166.5" height="25" fill="none" stroke="#111" stroke-width="0.9"/>
<text x="467" y="489.5" font-size="10.8" fill="#111">JQ1</text>
<text x="508.75" y="489.8" font-size="10.8" text-anchor="middle" fill="#111">0</text>
<text font-size="11" fill="#111" transform="translate(540.2 490) rotate(-45)">0.125uM</text>
<text font-size="11" fill="#111" transform="translate(573.5 490) rotate(-45)">0.25uM</text>
<text font-size="11" fill="#111" transform="translate(607.5 490) rotate(-45)">0.5uM</text>
<text font-size="11" fill="#111" transform="translate(640.5 490) rotate(-45)">1uM</text>
<text x="662.5" y="485.75" font-size="10.6" fill="#111">kDa</text>
<text x="460" y="510" font-size="11.3" font-weight="bold" fill="#111">BRD4</text>
<text x="455.75" y="540" font-size="11.2" font-weight="bold" fill="#111">β-actin</text>
<line x1="659.4" y1="507.4" x2="665.2" y2="507.4" stroke="#000" stroke-width="1.8"/>
<text x="668" y="510.6" font-size="10.5" fill="#111">152</text>
<line x1="659.4" y1="537.4" x2="665.2" y2="537.4" stroke="#000" stroke-width="1.8"/>
<text x="668" y="542" font-size="10.5" fill="#111">43</text>
<clipPath id="cg1"><rect x="503.75" y="673.5" width="144.25" height="26"/></clipPath>
<rect x="503.75" y="673.5" width="144.25" height="26" fill="#f9f9f9"/>
<g clip-path="url(#cg1)">
<ellipse cx="523.65" cy="687" rx="12.85" ry="4.5" fill="#000" fill-opacity="0.22" filter="url(#b3)"/>
<path d="M512.3 687C512.3 685.74 513.89 684.88 523.65 684.7C533.41 684.88 535 685.74 535 687C535 688.26 533.41 689.12 523.65 689.3C513.89 689.12 512.3 688.26 512.3 687Z" fill="#000" fill-opacity="1" filter="url(#b1)"/>
<ellipse cx="557.75" cy="687" rx="12.95" ry="5.1" fill="#000" fill-opacity="0.22" filter="url(#b3)"/>
<path d="M546.3 687C546.3 685.4 547.9 684.33 557.75 684.1C567.6 684.33 569.2 685.4 569.2 687C569.2 688.6 567.6 689.67 557.75 689.9C547.9 689.67 546.3 688.6 546.3 687Z" fill="#000" fill-opacity="1" filter="url(#b1)"/>
<ellipse cx="591.15" cy="687" rx="12.65" ry="4.7" fill="#000" fill-opacity="0.22" filter="url(#b3)"/>
<path d="M580 687C580 685.62 581.56 684.7 591.15 684.5C600.74 684.7 602.3 685.62 602.3 687C602.3 688.38 600.74 689.3 591.15 689.5C581.56 689.3 580 688.38 580 687Z" fill="#000" fill-opacity="1" filter="url(#b1)"/>
<ellipse cx="625.9" cy="687" rx="12.6" ry="4.3" fill="#000" fill-opacity="0.22" filter="url(#b3)"/>
<path d="M614.8 687C614.8 685.85 616.35 685.07 625.9 684.9C635.45 685.07 637 685.85 637 687C637 688.15 635.45 688.93 625.9 689.1C616.35 688.93 614.8 688.15 614.8 687Z" fill="#000" fill-opacity="0.95" filter="url(#b1)"/>
</g>
<rect x="503.75" y="673.5" width="144.25" height="26" fill="none" stroke="#111" stroke-width="0.9"/>
<clipPath id="cg2"><rect x="503.75" y="705.6" width="144.25" height="25.65"/></clipPath>
<rect x="503.75" y="705.6" width="144.25" height="25.65" fill="#f9f9f9"/>
<g clip-path="url(#cg2)">
<ellipse cx="523.65" cy="716.4" rx="12.85" ry="5.4" fill="#000" fill-opacity="0.22" filter="url(#b3)"/>
<path d="M512.3 716.4C512.3 714.16 513.89 713.46 523.65 713.2C533.41 713.46 535 714.16 535 716.4C535 718.64 533.41 719.34 523.65 719.6C513.89 719.34 512.3 718.64 512.3 716.4Z" fill="#000" fill-opacity="1" filter="url(#b2)"/>
<ellipse cx="557.75" cy="716.4" rx="12.95" ry="5.6" fill="#000" fill-opacity="0.22" filter="url(#b3)"/>
<path d="M546.3 716.4C546.3 714.02 547.9 713.27 557.75 713C567.6 713.27 569.2 714.02 569.2 716.4C569.2 718.78 567.6 719.53 557.75 719.8C547.9 719.53 546.3 718.78 546.3 716.4Z" fill="#000" fill-opacity="1" filter="url(#b2)"/>
<ellipse cx="591.15" cy="716.4" rx="12.65" ry="5.6" fill="#000" fill-opacity="0.22" filter="url(#b3)"/>
<path d="M580 716.4C580 714.02 581.56 713.27 591.15 713C600.74 713.27 602.3 714.02 602.3 716.4C602.3 718.78 600.74 719.53 591.15 719.8C581.56 719.53 580 718.78 580 716.4Z" fill="#000" fill-opacity="1" filter="url(#b2)"/>
<ellipse cx="625.9" cy="716.4" rx="12.6" ry="5.3" fill="#000" fill-opacity="0.22" filter="url(#b3)"/>
<path d="M614.8 716.4C614.8 714.23 616.35 713.55 625.9 713.3C635.45 713.55 637 714.23 637 716.4C637 718.57 635.45 719.25 625.9 719.5C616.35 719.25 614.8 718.57 614.8 716.4Z" fill="#000" fill-opacity="0.8" filter="url(#b2)"/>
</g>
<rect x="503.75" y="705.6" width="144.25" height="25.65" fill="none" stroke="#111" stroke-width="0.9"/>
<clipPath id="cg3"><rect x="503.75" y="737.6" width="144.25" height="26"/></clipPath>
<rect x="503.75" y="737.6" width="144.25" height="26" fill="#f9f9f9"/>
<g clip-path="url(#cg3)">
<ellipse cx="524.75" cy="750.4" rx="14.75" ry="7.7" fill="#000" fill-opacity="0.22" filter="url(#b3)"/>
<path d="M511.5 750.4C511.5 746.27 513.36 745.34 524.75 744.9C536.14 745.34 538 746.27 538 750.4C538 754.52 536.14 755.46 524.75 755.9C513.36 755.46 511.5 754.52 511.5 750.4Z" fill="#000" fill-opacity="1" filter="url(#b4)"/>
<ellipse cx="557.9" cy="750.4" rx="14.4" ry="8.2" fill="#000" fill-opacity="0.22" filter="url(#b3)"/>
<path d="M545 750.4C545 745.9 546.81 744.88 557.9 744.4C568.99 744.88 570.8 745.9 570.8 750.4C570.8 754.9 568.99 755.92 557.9 756.4C546.81 755.92 545 754.9 545 750.4Z" fill="#000" fill-opacity="1" filter="url(#b4)"/>
<ellipse cx="591.25" cy="750.4" rx="15.05" ry="9.2" fill="#000" fill-opacity="0.22" filter="url(#b3)"/>
<path d="M577.7 750.4C577.7 745.15 579.6 743.96 591.25 743.4C602.9 743.96 604.8 745.15 604.8 750.4C604.8 755.65 602.9 756.84 591.25 757.4C579.6 756.84 577.7 755.65 577.7 750.4Z" fill="#000" fill-opacity="1" filter="url(#b4)"/>
<ellipse cx="623.85" cy="750.4" rx="14.65" ry="8.95" fill="#000" fill-opacity="0.22" filter="url(#b3)"/>
<path d="M610.7 750.4C610.7 745.34 612.54 744.19 623.85 743.65C635.16 744.19 637 745.34 637 750.4C637 755.46 635.16 756.61 623.85 757.15C612.54 756.61 610.7 755.46 610.7 750.4Z" fill="#000" fill-opacity="1" filter="url(#b4)"/>
</g>
<rect x="503.75" y="737.6" width="144.25" height="26" fill="none" stroke="#111" stroke-width="0.9"/>
<text x="523.5" y="667.5" font-size="11.4" text-anchor="middle" fill="#111">con</text>
<text x="558.5" y="667.5" font-size="11.4" text-anchor="middle" fill="#111">TM</text>
<text font-size="11.4" fill="#111" transform="translate(591 668.3) rotate(-45)">TM+0.5uM JQ1</text>
<text font-size="11.4" fill="#111" transform="translate(631 668.3) rotate(-45)">TM+1uM JQ1</text>
<text x="655.5" y="670.75" font-size="11" fill="#111">kDa</text>
<text x="466.25" y="692.5" font-size="11.3" font-weight="bold" fill="#111">BRD4</text>
<text x="462" y="723" font-size="11.5" font-weight="bold" fill="#111">CREB5</text>
<text x="464.5" y="753.75" font-size="11.2" font-weight="bold" fill="#111">β-actin</text>
<line x1="649.4" y1="687.2" x2="655" y2="687.2" stroke="#000" stroke-width="1.8"/>
<text x="658" y="690.75" font-size="10.6" fill="#111">152</text>
<line x1="649.4" y1="718.95" x2="655" y2="718.95" stroke="#000" stroke-width="1.8"/>
<text x="658" y="722.5" font-size="10.6" fill="#111">56</text>
<line x1="649.4" y1="746.45" x2="655" y2="746.45" stroke="#000" stroke-width="1.8"/>
<text x="658" y="751.25" font-size="10.6" fill="#111">43</text>
<line x1="89" y1="715.95" x2="89" y2="704.12" stroke="#111" stroke-width="0.9"/>
<line x1="84.4" y1="704.12" x2="93.6" y2="704.12" stroke="#111" stroke-width="0.9"/>
<rect x="80" y="715.95" width="18" height="47.3" fill="#000000"/>
<line x1="116.5" y1="675.04" x2="116.5" y2="657.53" stroke="#b08a55" stroke-width="0.9"/>
<line x1="111.9" y1="657.53" x2="121.1" y2="657.53" stroke="#b08a55" stroke-width="0.9"/>
<rect x="107.5" y="675.04" width="18" height="88.21" fill="#dfa45e"/>
<line x1="144" y1="722.57" x2="144" y2="718.08" stroke="#8ea9c9" stroke-width="0.9"/>
<line x1="139.4" y1="718.08" x2="148.6" y2="718.08" stroke="#8ea9c9" stroke-width="0.9"/>
<rect x="135" y="722.57" width="18" height="40.68" fill="#9db8d6"/>
<line x1="171.5" y1="730.61" x2="171.5" y2="728.72" stroke="#d37f7c" stroke-width="0.9"/>
<line x1="166.9" y1="728.72" x2="176.1" y2="728.72" stroke="#d37f7c" stroke-width="0.9"/>
<rect x="162.5" y="730.61" width="18" height="32.64" fill="#e08a87"/>
<line x1="71.5" y1="643.8" x2="71.5" y2="763.95" stroke="#1a1a1a" stroke-width="1.45"/>
<line x1="70.8" y1="763.25" x2="190.5" y2="763.25" stroke="#1a1a1a" stroke-width="1.45"/>
<line x1="65.9" y1="763.25" x2="71.5" y2="763.25" stroke="#1a1a1a" stroke-width="1.3"/>
<text x="64.8" y="766.15" font-size="8.6" text-anchor="end" font-weight="bold" fill="#111" stroke="#111" stroke-width="0.22">0.0</text>
<line x1="65.9" y1="739.6" x2="71.5" y2="739.6" stroke="#1a1a1a" stroke-width="1.3"/>
<text x="64.8" y="742.5" font-size="8.6" text-anchor="end" font-weight="bold" fill="#111" stroke="#111" stroke-width="0.22">0.5</text>
<line x1="65.9" y1="715.95" x2="71.5" y2="715.95" stroke="#1a1a1a" stroke-width="1.3"/>
<text x="64.8" y="718.85" font-size="8.6" text-anchor="end" font-weight="bold" fill="#111" stroke="#111" stroke-width="0.22">1.0</text>
<line x1="65.9" y1="692.3" x2="71.5" y2="692.3" stroke="#1a1a1a" stroke-width="1.3"/>
<text x="64.8" y="695.2" font-size="8.6" text-anchor="end" font-weight="bold" fill="#111" stroke="#111" stroke-width="0.22">1.5</text>
<line x1="65.9" y1="668.65" x2="71.5" y2="668.65" stroke="#1a1a1a" stroke-width="1.3"/>
<text x="64.8" y="671.55" font-size="8.6" text-anchor="end" font-weight="bold" fill="#111" stroke="#111" stroke-width="0.22">2.0</text>
<line x1="65.9" y1="645" x2="71.5" y2="645" stroke="#1a1a1a" stroke-width="1.3"/>
<text x="64.8" y="647.9" font-size="8.6" text-anchor="end" font-weight="bold" fill="#111" stroke="#111" stroke-width="0.22">2.5</text>
<line x1="89" y1="763.25" x2="89" y2="767.65" stroke="#1a1a1a" stroke-width="1.3"/>
<text font-size="8.3" text-anchor="end" font-weight="bold" fill="#111" transform="translate(91.5 775.25) rotate(-45)" stroke="#111" stroke-width="0.22">CON</text>
<line x1="116.5" y1="763.25" x2="116.5" y2="767.65" stroke="#1a1a1a" stroke-width="1.3"/>
<text font-size="8.3" text-anchor="end" font-weight="bold" fill="#111" transform="translate(119 775.25) rotate(-45)" stroke="#111" stroke-width="0.22">TM</text>
<line x1="144" y1="763.25" x2="144" y2="767.65" stroke="#1a1a1a" stroke-width="1.3"/>
<text font-size="8.3" text-anchor="end" font-weight="bold" fill="#111" transform="translate(146.5 775.25) rotate(-45)" stroke="#111" stroke-width="0.22">TM+0.5uM JQ1</text>
<line x1="171.5" y1="763.25" x2="171.5" y2="767.65" stroke="#1a1a1a" stroke-width="1.3"/>
<text font-size="8.3" text-anchor="end" font-weight="bold" fill="#111" transform="translate(174 775.25) rotate(-45)" stroke="#111" stroke-width="0.22">TM+1uM JQ1</text>
<text font-size="7.95" text-anchor="middle" font-weight="bold" fill="#111" transform="translate(48.2 703.88) rotate(-90)" stroke="#111" stroke-width="0.22">Relative BRD4 mRNA expression</text>
<path d="M89.25 652.7V646.1H115.5V652.7" fill="none" stroke="#2e2e2e" stroke-width="0.85"/>
<text x="102.38" y="647" font-size="7.8" text-anchor="middle" font-weight="bold" fill="#3a3a3a">*</text>
<path d="M115.5 652.7V642.5H143.75V647.8" fill="none" stroke="#2e2e2e" stroke-width="0.85"/>
<text x="129.62" y="643.4" font-size="7.8" text-anchor="middle" font-weight="bold" fill="#3a3a3a">**</text>
<path d="M115.5 652.7V634.9H171.8V641.2" fill="none" stroke="#2e2e2e" stroke-width="0.85"/>
<text x="143.65" y="635.8" font-size="7.8" text-anchor="middle" font-weight="bold" fill="#3a3a3a">**</text>
<rect x="273" y="755.6" width="18.25" height="7.9" fill="#000000"/>
<line x1="309.75" y1="654.09" x2="309.75" y2="651.16" stroke="#b08a55" stroke-width="0.9"/>
<line x1="305.15" y1="651.16" x2="314.35" y2="651.16" stroke="#b08a55" stroke-width="0.9"/>
<rect x="300.5" y="654.09" width="18.5" height="109.41" fill="#dfa45e"/>
<line x1="337.12" y1="719.26" x2="337.12" y2="716.26" stroke="#8ea9c9" stroke-width="0.9"/>
<line x1="332.52" y1="716.26" x2="341.73" y2="716.26" stroke="#8ea9c9" stroke-width="0.9"/>
<rect x="328" y="719.26" width="18.25" height="44.24" fill="#9db8d6"/>
<line x1="364.5" y1="747.7" x2="364.5" y2="745.33" stroke="#d37f7c" stroke-width="0.9"/>
<line x1="359.9" y1="745.33" x2="369.1" y2="745.33" stroke="#d37f7c" stroke-width="0.9"/>
<rect x="355.25" y="747.7" width="18.5" height="15.8" fill="#e08a87"/>
<line x1="264.25" y1="643.8" x2="264.25" y2="764.2" stroke="#1a1a1a" stroke-width="1.45"/>
<line x1="263.55" y1="763.5" x2="382.75" y2="763.5" stroke="#1a1a1a" stroke-width="1.45"/>
<line x1="258.65" y1="763.5" x2="264.25" y2="763.5" stroke="#1a1a1a" stroke-width="1.3"/>
<text x="257.2" y="766.4" font-size="8.6" text-anchor="end" font-weight="bold" fill="#111" stroke="#111" stroke-width="0.22">0</text>
<line x1="258.65" y1="724" x2="264.25" y2="724" stroke="#1a1a1a" stroke-width="1.3"/>
<text x="257.2" y="726.9" font-size="8.6" text-anchor="end" font-weight="bold" fill="#111" stroke="#111" stroke-width="0.22">5</text>
<line x1="258.65" y1="684.5" x2="264.25" y2="684.5" stroke="#1a1a1a" stroke-width="1.3"/>
<text x="257.2" y="687.4" font-size="8.6" text-anchor="end" font-weight="bold" fill="#111" stroke="#111" stroke-width="0.22">10</text>
<line x1="258.65" y1="645" x2="264.25" y2="645" stroke="#1a1a1a" stroke-width="1.3"/>
<text x="257.2" y="647.9" font-size="8.6" text-anchor="end" font-weight="bold" fill="#111" stroke="#111" stroke-width="0.22">15</text>
<line x1="282.12" y1="763.5" x2="282.12" y2="767.9" stroke="#1a1a1a" stroke-width="1.3"/>
<text font-size="8.3" text-anchor="end" font-weight="bold" fill="#111" transform="translate(284.62 775.5) rotate(-45)" stroke="#111" stroke-width="0.22">Con</text>
<line x1="309.75" y1="763.5" x2="309.75" y2="767.9" stroke="#1a1a1a" stroke-width="1.3"/>
<text font-size="8.3" text-anchor="end" font-weight="bold" fill="#111" transform="translate(312.25 775.5) rotate(-45)" stroke="#111" stroke-width="0.22">TM</text>
<line x1="337.12" y1="763.5" x2="337.12" y2="767.9" stroke="#1a1a1a" stroke-width="1.3"/>
<text font-size="8.3" text-anchor="end" font-weight="bold" fill="#111" transform="translate(339.62 775.5) rotate(-45)" stroke="#111" stroke-width="0.22">TM+0.5uM JQ1</text>
<line x1="364.5" y1="763.5" x2="364.5" y2="767.9" stroke="#1a1a1a" stroke-width="1.3"/>
<text font-size="8.3" text-anchor="end" font-weight="bold" fill="#111" transform="translate(367 775.5) rotate(-45)" stroke="#111" stroke-width="0.22">TM+1uM JQ1</text>
<text font-size="8" text-anchor="middle" font-weight="bold" fill="#111" transform="translate(245.7 704) rotate(-90)" stroke="#111" stroke-width="0.22">Relative CREB5 mRNA expression</text>
<path d="M280.5 650V645.5H309.4V650" fill="none" stroke="#2e2e2e" stroke-width="0.85"/>
<text x="294.95" y="646.4" font-size="7.8" text-anchor="middle" font-weight="bold" fill="#3a3a3a">***</text>
<path d="M310.1 650V645.5H337.75V650" fill="none" stroke="#2e2e2e" stroke-width="0.85"/>
<text x="323.93" y="646.4" font-size="7.8" text-anchor="middle" font-weight="bold" fill="#3a3a3a">***</text>
<path d="M309.75 645.5V638H364.5V643.75" fill="none" stroke="#2e2e2e" stroke-width="0.85"/>
<text x="337.12" y="638.9" font-size="7.8" text-anchor="middle" font-weight="bold" fill="#3a3a3a">***</text>
<path d="M335.5 713V709.25H364.5V713.75" fill="none" stroke="#2e2e2e" stroke-width="0.85"/>
<text x="350" y="710.15" font-size="7.8" text-anchor="middle" font-weight="bold" fill="#3a3a3a">***</text>
<line x1="555.12" y1="873.05" x2="555.12" y2="870.52" stroke="#111" stroke-width="0.9"/>
<line x1="550.52" y1="870.52" x2="559.73" y2="870.52" stroke="#111" stroke-width="0.9"/>
<rect x="545.5" y="873.05" width="19.25" height="79.2" fill="#000000"/>
<line x1="583.88" y1="888.49" x2="583.88" y2="887.7" stroke="#b08a55" stroke-width="0.9"/>
<line x1="579.27" y1="887.7" x2="588.48" y2="887.7" stroke="#b08a55" stroke-width="0.9"/>
<rect x="574.25" y="888.49" width="19.25" height="63.76" fill="#dfa45e"/>
<line x1="612.62" y1="885.33" x2="612.62" y2="878.51" stroke="#8ea9c9" stroke-width="0.9"/>
<line x1="608.02" y1="878.51" x2="617.23" y2="878.51" stroke="#8ea9c9" stroke-width="0.9"/>
<rect x="603" y="885.33" width="19.25" height="66.92" fill="#9db8d6"/>
<line x1="641.38" y1="870.28" x2="641.38" y2="867.74" stroke="#d37f7c" stroke-width="0.9"/>
<line x1="636.77" y1="867.74" x2="645.98" y2="867.74" stroke="#d37f7c" stroke-width="0.9"/>
<rect x="631.75" y="870.28" width="19.25" height="81.97" fill="#e08a87"/>
<line x1="536.75" y1="832.3" x2="536.75" y2="952.95" stroke="#1a1a1a" stroke-width="1.45"/>
<line x1="536.05" y1="952.25" x2="661" y2="952.25" stroke="#1a1a1a" stroke-width="1.45"/>
<line x1="531.15" y1="952.25" x2="536.75" y2="952.25" stroke="#1a1a1a" stroke-width="1.3"/>
<text x="529.6" y="955.15" font-size="8.6" text-anchor="end" font-weight="bold" fill="#111" stroke="#111" stroke-width="0.22">0.0</text>
<line x1="531.15" y1="912.65" x2="536.75" y2="912.65" stroke="#1a1a1a" stroke-width="1.3"/>
<text x="529.6" y="915.55" font-size="8.6" text-anchor="end" font-weight="bold" fill="#111" stroke="#111" stroke-width="0.22">0.5</text>
<line x1="531.15" y1="873.05" x2="536.75" y2="873.05" stroke="#1a1a1a" stroke-width="1.3"/>
<text x="529.6" y="875.95" font-size="8.6" text-anchor="end" font-weight="bold" fill="#111" stroke="#111" stroke-width="0.22">1.0</text>
<line x1="531.15" y1="833.45" x2="536.75" y2="833.45" stroke="#1a1a1a" stroke-width="1.3"/>
<text x="529.6" y="836.35" font-size="8.6" text-anchor="end" font-weight="bold" fill="#111" stroke="#111" stroke-width="0.22">1.5</text>
<line x1="555.12" y1="952.25" x2="555.12" y2="956.65" stroke="#1a1a1a" stroke-width="1.3"/>
<text font-size="8.3" text-anchor="end" font-weight="bold" fill="#111" transform="translate(557.62 964.25) rotate(-45)" stroke="#111" stroke-width="0.22">sg-con</text>
<line x1="583.88" y1="952.25" x2="583.88" y2="956.65" stroke="#1a1a1a" stroke-width="1.3"/>
<text font-size="8.3" text-anchor="end" font-weight="bold" fill="#111" transform="translate(586.38 964.25) rotate(-45)" stroke="#111" stroke-width="0.22">sgRNA-1</text>
<line x1="612.62" y1="952.25" x2="612.62" y2="956.65" stroke="#1a1a1a" stroke-width="1.3"/>
<text font-size="8.3" text-anchor="end" font-weight="bold" fill="#111" transform="translate(615.12 964.25) rotate(-45)" stroke="#111" stroke-width="0.22">sgRNA-2</text>
<line x1="641.38" y1="952.25" x2="641.38" y2="956.65" stroke="#1a1a1a" stroke-width="1.3"/>
<text font-size="8.3" text-anchor="end" font-weight="bold" fill="#111" transform="translate(643.88 964.25) rotate(-45)" stroke="#111" stroke-width="0.22">sgRNA-3</text>
<text font-size="7.95" text-anchor="middle" font-weight="bold" fill="#111" transform="translate(512.3 892.62) rotate(-90)" stroke="#111" stroke-width="0.22">Relative CREB5 mRNA expression</text>
<path d="M554.75 866.75V863.5H583.75V866.75" fill="none" stroke="#2e2e2e" stroke-width="0.85"/>
<text x="569.25" y="864.4" font-size="7.8" text-anchor="middle" font-weight="bold" fill="#3a3a3a">***</text>
<path d="M554.75 863.75V854.75H612.5V861" fill="none" stroke="#2e2e2e" stroke-width="0.85"/>
<text x="583.62" y="855.65" font-size="7.8" text-anchor="middle" font-weight="bold" fill="#3a3a3a">*</text>
<path d="M554.75 855V846H641.25V853.5" fill="none" stroke="#2e2e2e" stroke-width="0.85"/>
<text x="598" y="843.2" font-size="7.4" text-anchor="middle" fill="#3a3a3a">ns</text>
<text font-size="4.9" fill="#a428f0" class="s" transform="translate(4.5 843.3) scale(0.77 1)">(28,390,768 .. 28,390,788)&#160; sgRNA2</text>
<text font-size="4.9" fill="#a428f0" class="s" transform="translate(2 850) scale(0.77 1)">(28,387,196 .. 28,387,216)&#160; sgRNA1</text>
<text font-size="4.9" fill="#a428f0" class="s" transform="translate(69.5 850) scale(0.77 1)">sgRNA3&#160; (28,396,357 .. 28,396,377)</text>
<line x1="62" y1="846.5" x2="62" y2="860" stroke="#a428f0" stroke-width="0.4"/>
<line x1="65" y1="840" x2="65" y2="860" stroke="#a428f0" stroke-width="0.4"/>
<line x1="68.75" y1="846.5" x2="68.75" y2="860" stroke="#a428f0" stroke-width="0.4"/>
<rect x="25" y="860.2" width="406.25" height="3" fill="#c9c9c9"/>
<line x1="25" y1="860.5" x2="431.25" y2="860.5" stroke="#111" stroke-width="0.9"/>
<line x1="25" y1="863" x2="431.25" y2="863" stroke="#111" stroke-width="0.9"/>
<rect x="25" y="860" width="1" height="3.2" fill="#35b8e6"/>
<rect x="59.25" y="859.5" width="12.75" height="4.3" fill="#ff3b30"/>
<line x1="109.25" y1="859.8" x2="109.25" y2="863.7" stroke="#ff3b30" stroke-width="0.6"/>
<line x1="112.5" y1="859.8" x2="112.5" y2="863.7" stroke="#ff3b30" stroke-width="0.6"/>
<line x1="129.5" y1="859.8" x2="129.5" y2="863.7" stroke="#ff3b30" stroke-width="0.6"/>
<line x1="172.25" y1="859.8" x2="172.25" y2="863.7" stroke="#ff3b30" stroke-width="0.6"/>
<line x1="322.75" y1="859.8" x2="322.75" y2="863.7" stroke="#ff3b30" stroke-width="0.6"/>
<text font-size="4.8" fill="#111" class="s" text-anchor="middle" transform="translate(62.5 867.9) scale(0.82 1)">28,400,000<tspan font-size="2.6" dy="-1.2">0</tspan></text>
<text font-size="4.8" fill="#111" class="s" text-anchor="middle" transform="translate(139.5 867.9) scale(0.82 1)">28,500,000<tspan font-size="2.6" dy="-1.2">0</tspan></text>
<text font-size="4.8" fill="#111" class="s" text-anchor="middle" transform="translate(216.5 867.9) scale(0.82 1)">28,600,000<tspan font-size="2.6" dy="-1.2">0</tspan></text>
<text font-size="4.8" fill="#111" class="s" text-anchor="middle" transform="translate(293.5 867.9) scale(0.82 1)">28,700,000<tspan font-size="2.6" dy="-1.2">0</tspan></text>
<text font-size="4.8" fill="#111" class="s" text-anchor="middle" transform="translate(370.5 867.9) scale(0.82 1)">28,800,000<tspan font-size="2.6" dy="-1.2">0</tspan></text>
<path d="M25 870.6H424V869L431 874.6L424 880.2V878.6H25Z" fill="#a9afb6" stroke="#70767c" stroke-width="0.5"/>
<text font-size="4.4" fill="#222" class="s" text-anchor="middle" transform="translate(225.5 876.4) scale(0.82 1)">CREB5</text>
<line x1="25" y1="888" x2="425" y2="888" stroke="#33373c" stroke-width="1.5" stroke-dasharray="1.2 1.15"/>
<path d="M25 885V891M174.75 885V891M185.25 885V891M233.5 885V891M347.5 885V891M351.25 885V891M413.75 885V891M416.5 885V891M421.5 885V891" fill="none" stroke="#5c6268" stroke-width="0.5"/>
<path d="M425.3 884.8L430.8 888L425.3 891.2Z" fill="#a9afb6" stroke="#70767c" stroke-width="0.4"/>
<line x1="129.5" y1="909.75" x2="425" y2="909.75" stroke="#33373c" stroke-width="1.5" stroke-dasharray="1.2 1.15"/>
<path d="M129.5 906.75V912.75M174.75 906.75V912.75M185.25 906.75V912.75M233.5 906.75V912.75M347.5 906.75V912.75M351.25 906.75V912.75M413.75 906.75V912.75M416.5 906.75V912.75M421.5 906.75V912.75" fill="none" stroke="#5c6268" stroke-width="0.5"/>
<path d="M425.3 906.55L430.8 909.75L425.3 912.95Z" fill="#a9afb6" stroke="#70767c" stroke-width="0.4"/>
<line x1="172.25" y1="931.5" x2="425" y2="931.5" stroke="#33373c" stroke-width="1.5" stroke-dasharray="1.2 1.15"/>
<path d="M172.25 928.5V934.5M174.75 928.5V934.5M185.25 928.5V934.5M233.5 928.5V934.5M347.5 928.5V934.5M351.25 928.5V934.5M413.75 928.5V934.5M416.5 928.5V934.5M421.5 928.5V934.5" fill="none" stroke="#5c6268" stroke-width="0.5"/>
<path d="M425.3 928.3L430.8 931.5L425.3 934.7Z" fill="#a9afb6" stroke="#70767c" stroke-width="0.4"/>
<line x1="322.75" y1="953" x2="425" y2="953" stroke="#33373c" stroke-width="1.5" stroke-dasharray="1.2 1.15"/>
<path d="M322.75 950V956M347.5 950V956M351.25 950V956M413.75 950V956M416.5 950V956M421.5 950V956" fill="none" stroke="#5c6268" stroke-width="0.5"/>
<path d="M425.3 949.8L430.8 953L425.3 956.2Z" fill="#a9afb6" stroke="#70767c" stroke-width="0.4"/>
<line x1="25" y1="906" x2="25" y2="913" stroke="#ff5f5f" stroke-width="0.8"/>
<text font-size="4.8" fill="#1a1a1a" class="s" text-anchor="middle" transform="translate(25 921) scale(0.78 1)">TSS</text>
<line x1="129.5" y1="927.25" x2="129.5" y2="934.75" stroke="#ff5f5f" stroke-width="0.8"/>
<text font-size="4.8" fill="#1a1a1a" class="s" text-anchor="middle" transform="translate(129.5 942.5) scale(0.78 1)">TSS</text>
<line x1="172.25" y1="949" x2="172.25" y2="956" stroke="#ff5f5f" stroke-width="0.8"/>
<text font-size="4.8" fill="#1a1a1a" class="s" text-anchor="middle" transform="translate(172.25 964.25) scale(0.78 1)">TSS</text>
<line x1="322.75" y1="971" x2="322.75" y2="978" stroke="#ff5f5f" stroke-width="0.8"/>
<text font-size="4.8" fill="#1a1a1a" class="s" text-anchor="middle" transform="translate(322.75 986) scale(0.78 1)">TSS</text>
<rect x="59.5" y="905.5" width="13" height="8" fill="#f4f436" stroke="#8a8a6a" stroke-width="0.5" rx="0.8"/>
<text font-size="5" fill="#1a1a1a" class="s" text-anchor="middle" transform="translate(66 921) scale(0.8 1)">super enhancer</text>
<text font-size="4.8" fill="#1a1a1a" class="s" text-anchor="middle" transform="translate(227.75 899.75) scale(0.76 1)">CREB5 mRNA</text>
<text font-size="4.8" fill="#1a1a1a" class="s" text-anchor="middle" transform="translate(279.75 921.5) scale(0.76 1)">CREB5 mRNA</text>
<text font-size="4.8" fill="#1a1a1a" class="s" text-anchor="middle" transform="translate(301.5 943) scale(0.76 1)">CREB5 mRNA</text>
<text font-size="4.8" fill="#1a1a1a" class="s" text-anchor="middle" transform="translate(376.25 964.25) scale(0.76 1)">CREB5 mRNA</text>
<text x="366.5" y="899" font-size="7.1" font-weight="bold" fill="#111">NM_182899.5</text>
<text x="367.2" y="919.25" font-size="7.1" font-weight="bold" fill="#111">NM_182898.4</text>
<text x="367.5" y="942.25" font-size="7.1" font-weight="bold" fill="#111">NM_004904.4</text>
<text x="367.5" y="973.5" font-size="7.1" font-weight="bold" fill="#111">NM_047421070.1</text>
<text x="2" y="15" font-size="20" font-weight="bold">A</text>
<text x="263.5" y="15" font-size="20" font-weight="bold">B</text>
<text x="2" y="218.5" font-size="20" font-weight="bold">C</text>
<text x="2" y="426.75" font-size="20" font-weight="bold">D</text>
<text x="425.25" y="426.75" font-size="20" font-weight="bold">E</text>
<text x="2" y="630.75" font-size="20" font-weight="bold">F</text>
<text x="422.75" y="630.75" font-size="20" font-weight="bold">G</text>
<text x="2" y="831" font-size="20" font-weight="bold">H</text>
<text x="464.5" y="831.5" font-size="20" font-weight="bold">I</text>
</svg>
</body></html>
